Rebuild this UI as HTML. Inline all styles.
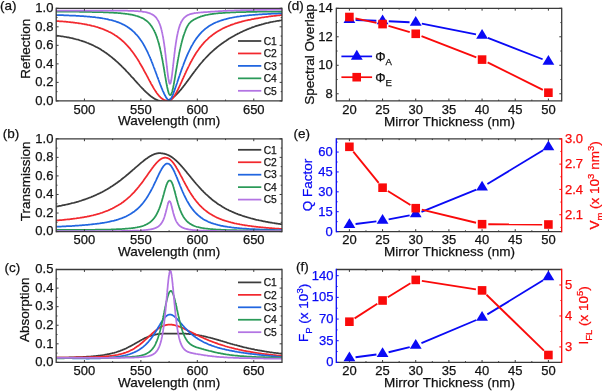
<!DOCTYPE html>
<html><head><meta charset="utf-8"><title>Figure</title>
<style>
html,body{margin:0;padding:0;background:#fff;width:602px;height:391px;overflow:hidden;}
svg{display:block;will-change:transform;filter:blur(0.35px);}
text{font-family:"Liberation Sans", sans-serif;stroke-width:0.25px;}
</style></head><body>
<svg width="602" height="391" viewBox="0 0 602 391">
<rect width="602" height="391" fill="#fff"/>
<defs>
<clipPath id="clipa"><rect x="56.2" y="8.3" width="225.80" height="92.60"/></clipPath>
<clipPath id="clipb"><rect x="56.2" y="138.8" width="225.80" height="92.80"/></clipPath>
<clipPath id="clipc"><rect x="56.2" y="269.5" width="225.80" height="92.90"/></clipPath>
<clipPath id="clipd"><rect x="336.3" y="8.3" width="225.40" height="92.60"/></clipPath>
<clipPath id="clipe"><rect x="336.3" y="138.8" width="225.40" height="92.80"/></clipPath>
<clipPath id="clipf"><rect x="336.3" y="269.5" width="225.40" height="92.90"/></clipPath>
</defs>
<g clip-path="url(#clipa)" fill="none" stroke-width="1.75" stroke-linejoin="round" stroke-linecap="round">
<polyline points="55.2,35.5 56.1,35.6 57.0,35.7 57.8,35.8 58.7,35.9 59.6,36.0 60.5,36.2 61.4,36.3 62.2,36.4 63.1,36.5 64.0,36.7 64.9,36.8 65.8,37.0 66.6,37.1 67.5,37.3 68.4,37.4 69.3,37.6 70.2,37.8 71.0,38.0 71.9,38.2 72.8,38.4 73.7,38.6 74.5,38.8 75.4,39.0 76.3,39.3 77.2,39.5 78.1,39.7 79.0,40.0 79.8,40.3 80.7,40.5 81.6,40.8 82.5,41.1 83.3,41.4 84.2,41.7 85.1,42.0 86.0,42.3 86.9,42.7 87.7,43.0 88.6,43.4 89.5,43.8 90.4,44.1 91.3,44.5 92.1,44.9 93.0,45.3 93.9,45.8 94.8,46.2 95.7,46.7 96.5,47.1 97.4,47.6 98.3,48.1 99.2,48.6 100.1,49.1 100.9,49.6 101.8,50.2 102.7,50.7 103.6,51.3 104.5,51.9 105.3,52.5 106.2,53.1 107.1,53.7 108.0,54.4 108.8,55.0 109.7,55.7 110.6,56.4 111.5,57.1 112.4,57.8 113.2,58.5 114.1,59.2 115.0,60.0 115.9,60.8 116.8,61.6 117.7,62.4 118.5,63.2 119.4,64.0 120.3,64.8 121.2,65.7 122.0,66.6 122.9,67.4 123.8,68.3 124.7,69.2 125.6,70.1 126.4,71.1 127.3,72.0 128.2,72.9 129.1,73.9 130.0,74.8 130.8,75.8 131.7,76.8 132.6,77.7 133.5,78.7 134.4,79.7 135.2,80.7 136.1,81.6 137.0,82.6 137.9,83.6 138.8,84.5 139.6,85.5 140.5,86.5 141.4,87.4 142.3,88.3 143.2,89.2 144.0,90.1 144.9,91.0 145.8,91.8 146.7,92.7 147.6,93.5 148.4,94.2 149.3,95.0 150.0,95.6 150.2,95.7 150.2,95.7 150.3,95.8 150.5,96.0 150.7,96.1 150.8,96.2 151.0,96.3 151.1,96.4 151.2,96.5 151.3,96.6 151.5,96.7 151.7,96.8 151.8,97.0 151.9,97.0 152.0,97.1 152.2,97.2 152.3,97.3 152.5,97.4 152.7,97.6 152.8,97.7 153.0,97.8 153.2,97.9 153.3,98.0 153.5,98.1 153.7,98.2 153.7,98.2 153.8,98.3 154.0,98.4 154.2,98.5 154.3,98.6 154.5,98.7 154.6,98.8 154.7,98.8 154.8,98.9 155.0,99.0 155.2,99.1 155.3,99.2 155.5,99.2 155.5,99.3 155.7,99.3 155.8,99.4 156.0,99.5 156.2,99.6 156.3,99.7 156.3,99.7 156.5,99.7 156.7,99.8 156.8,99.9 157.0,100.0 157.2,100.0 157.2,100.1 157.3,100.1 157.5,100.2 157.7,100.2 157.8,100.3 158.0,100.4 158.1,100.4 158.2,100.4 158.3,100.5 158.5,100.5 158.7,100.6 158.8,100.6 159.0,100.7 159.0,100.7 159.2,100.7 159.3,100.8 159.5,100.8 159.7,100.9 159.8,100.9 159.9,100.9 160.0,101.0 160.2,101.0 160.3,101.0 160.5,101.1 160.7,101.1 160.7,101.1 160.8,101.1 161.0,101.1 161.2,101.2 161.3,101.2 161.5,101.2 161.6,101.2 161.7,101.2 161.8,101.2 162.0,101.3 162.2,101.3 162.3,101.3 162.5,101.3 162.7,101.3 162.8,101.3 163.0,101.3 163.2,101.3 163.3,101.3 163.4,101.3 163.5,101.3 163.7,101.3 163.8,101.3 164.0,101.3 164.2,101.3 164.3,101.2 164.3,101.2 164.5,101.2 164.7,101.2 164.8,101.2 165.0,101.2 165.1,101.1 165.2,101.1 165.3,101.1 165.5,101.1 165.7,101.0 165.8,101.0 166.0,101.0 166.0,101.0 166.2,100.9 166.3,100.9 166.5,100.8 166.7,100.8 166.8,100.7 166.9,100.7 167.0,100.7 167.2,100.6 167.3,100.6 167.5,100.5 167.7,100.5 167.8,100.4 167.8,100.4 168.0,100.3 168.2,100.3 168.3,100.2 168.5,100.1 168.7,100.1 168.7,100.1 168.8,100.0 169.0,99.9 169.2,99.8 169.3,99.8 169.5,99.7 169.5,99.7 169.7,99.6 169.8,99.5 170.0,99.4 170.2,99.3 170.3,99.2 170.4,99.2 170.5,99.1 170.7,99.0 170.8,98.9 171.0,98.8 171.2,98.7 171.3,98.7 171.3,98.6 171.5,98.5 171.7,98.4 171.8,98.3 172.0,98.2 172.2,98.1 172.2,98.1 172.3,98.0 172.5,97.8 172.7,97.7 172.8,97.6 173.0,97.5 173.1,97.4 173.2,97.3 173.3,97.2 173.5,97.1 173.7,96.9 173.8,96.8 173.9,96.7 174.0,96.7 174.2,96.5 174.3,96.4 174.5,96.3 174.7,96.1 174.8,96.0 174.8,96.0 175.0,95.8 175.2,95.7 175.3,95.5 175.5,95.4 175.7,95.2 175.7,95.2 175.8,95.1 176.0,94.9 176.2,94.7 176.3,94.6 176.5,94.4 176.6,94.3 176.7,94.2 176.8,94.1 177.0,93.9 177.2,93.7 177.3,93.6 177.5,93.4 177.5,93.4 177.7,93.2 177.8,93.1 178.0,92.9 178.2,92.7 178.3,92.5 178.3,92.5 178.5,92.3 178.7,92.2 178.8,92.0 179.0,91.8 179.2,91.6 179.2,91.6 179.3,91.4 179.5,91.2 179.7,91.0 179.8,90.8 180.0,90.6 180.1,90.5 180.2,90.4 180.3,90.3 180.5,90.1 180.7,89.9 180.8,89.7 181.0,89.5 181.0,89.5 181.2,89.3 181.3,89.1 181.5,88.9 181.7,88.6 181.8,88.5 181.8,88.4 182.0,88.2 182.2,88.0 182.3,87.8 182.5,87.6 182.7,87.4 182.7,87.3 182.8,87.2 183.0,87.0 183.2,86.8 183.3,86.6 183.5,86.3 183.6,86.2 183.7,86.1 183.8,85.9 184.0,85.7 184.2,85.5 184.3,85.3 184.5,85.1 184.5,85.0 184.7,84.8 184.8,84.6 185.0,84.4 185.2,84.2 185.3,83.9 185.4,83.9 185.5,83.7 185.7,83.5 185.8,83.3 186.0,83.1 186.2,82.8 186.2,82.7 186.3,82.6 186.5,82.4 186.7,82.1 186.8,81.9 187.0,81.7 187.1,81.5 187.2,81.5 187.3,81.3 187.5,81.0 187.7,80.8 187.8,80.6 188.0,80.3 188.0,80.3 188.2,80.1 188.3,79.9 188.5,79.7 188.7,79.4 188.8,79.2 188.9,79.1 189.0,79.0 189.2,78.7 189.3,78.5 189.5,78.3 189.7,78.1 189.8,77.9 189.8,77.8 190.0,77.6 190.2,77.4 190.3,77.1 190.5,76.9 190.7,76.7 190.7,76.7 190.8,76.5 191.0,76.2 191.2,76.0 191.3,75.8 191.5,75.5 191.5,75.5 191.7,75.3 191.8,75.1 192.0,74.9 192.2,74.6 192.3,74.4 192.4,74.3 192.5,74.2 192.7,74.0 192.8,73.7 193.0,73.5 193.2,73.3 193.3,73.1 193.3,73.1 193.5,72.8 193.7,72.6 193.8,72.4 194.0,72.2 194.2,71.9 194.3,71.7 194.5,71.5 194.7,71.3 194.8,71.0 195.0,70.8 195.1,70.8 195.9,69.6 196.8,68.5 197.7,67.3 198.6,66.2 199.4,65.1 200.3,64.0 201.2,63.0 202.1,62.0 203.0,60.9 203.8,59.9 204.7,59.0 205.6,58.0 206.5,57.1 207.4,56.2 208.2,55.3 209.1,54.4 210.0,53.5 210.9,52.7 211.8,51.9 212.6,51.1 213.5,50.3 214.4,49.5 215.3,48.8 216.2,48.0 217.0,47.3 217.9,46.6 218.8,45.9 219.7,45.2 220.6,44.6 221.4,43.9 222.3,43.3 223.2,42.7 224.1,42.1 224.9,41.4 225.8,40.9 226.7,40.3 227.6,39.7 228.5,39.1 229.3,38.6 230.2,38.1 231.1,37.5 232.0,37.0 232.9,36.5 233.8,36.0 234.6,35.5 235.5,35.0 236.4,34.5 237.3,34.1 238.1,33.6 239.0,33.2 239.9,32.7 240.8,32.3 241.7,31.9 242.5,31.5 243.4,31.0 244.3,30.7 245.2,30.3 246.1,29.9 246.9,29.5 247.8,29.1 248.7,28.8 249.6,28.4 250.5,28.1 251.3,27.8 252.2,27.4 253.1,27.1 254.0,26.8 254.8,26.5 255.7,26.2 256.6,25.9 257.5,25.6 258.4,25.4 259.2,25.1 260.1,24.8 261.0,24.6 261.9,24.3 262.8,24.1 263.6,23.9 264.5,23.6 265.4,23.4 266.3,23.2 267.2,23.0 268.1,22.8 268.9,22.6 269.8,22.4 270.7,22.2 271.6,22.0 272.4,21.8 273.3,21.7 274.2,21.5 275.1,21.4 276.0,21.2 276.8,21.0 277.7,20.9 278.6,20.8 279.5,20.6 280.4,20.5 281.2,20.4 282.1,20.2 283.0,20.1" stroke="#3c3c3c"/>
<polyline points="55.2,21.0 56.1,21.0 57.0,21.1 57.8,21.1 58.7,21.2 59.6,21.3 60.5,21.3 61.4,21.4 62.2,21.4 63.1,21.5 64.0,21.6 64.9,21.7 65.8,21.7 66.6,21.8 67.5,21.9 68.4,22.0 69.3,22.1 70.2,22.2 71.0,22.3 71.9,22.3 72.8,22.4 73.7,22.6 74.5,22.7 75.4,22.8 76.3,22.9 77.2,23.0 78.1,23.1 79.0,23.3 79.8,23.4 80.7,23.5 81.6,23.7 82.5,23.8 83.3,24.0 84.2,24.1 85.1,24.3 86.0,24.4 86.9,24.6 87.7,24.8 88.6,25.0 89.5,25.2 90.4,25.4 91.3,25.6 92.1,25.8 93.0,26.0 93.9,26.2 94.8,26.5 95.7,26.7 96.5,27.0 97.4,27.2 98.3,27.5 99.2,27.8 100.1,28.1 100.9,28.4 101.8,28.7 102.7,29.0 103.6,29.4 104.5,29.7 105.3,30.1 106.2,30.5 107.1,30.9 108.0,31.3 108.8,31.7 109.7,32.1 110.6,32.6 111.5,33.1 112.4,33.6 113.2,34.1 114.1,34.6 115.0,35.2 115.9,35.7 116.8,36.3 117.7,37.0 118.5,37.6 119.4,38.3 120.3,39.0 121.2,39.7 122.0,40.5 122.9,41.2 123.8,42.0 124.7,42.9 125.6,43.8 126.4,44.7 127.3,45.6 128.2,46.6 129.1,47.6 130.0,48.6 130.8,49.7 131.7,50.9 132.6,52.0 133.5,53.2 134.4,54.5 135.2,55.7 136.1,57.0 137.0,58.4 137.9,59.8 138.8,61.2 139.6,62.7 140.5,64.2 141.4,65.7 142.3,67.3 143.2,68.9 144.0,70.5 144.9,72.1 145.8,73.7 146.7,75.4 147.6,77.0 148.4,78.7 149.3,80.4 150.0,81.6 150.2,81.9 150.2,82.0 150.3,82.2 150.5,82.6 150.7,82.9 150.8,83.2 151.0,83.5 151.1,83.6 151.2,83.8 151.3,84.1 151.5,84.4 151.7,84.7 151.8,85.0 151.9,85.2 152.0,85.3 152.2,85.6 152.3,85.8 152.5,86.1 152.7,86.4 152.8,86.7 153.0,87.0 153.2,87.3 153.3,87.6 153.5,87.9 153.7,88.1 153.7,88.2 153.8,88.4 154.0,88.7 154.2,89.0 154.3,89.2 154.5,89.5 154.6,89.7 154.7,89.8 154.8,90.0 155.0,90.3 155.2,90.6 155.3,90.8 155.5,91.0 155.5,91.1 155.7,91.3 155.8,91.6 156.0,91.8 156.2,92.1 156.3,92.3 156.3,92.3 156.5,92.6 156.7,92.8 156.8,93.0 157.0,93.3 157.2,93.5 157.2,93.6 157.3,93.7 157.5,93.9 157.7,94.2 157.8,94.4 158.0,94.6 158.1,94.7 158.2,94.8 158.3,95.0 158.5,95.2 158.7,95.4 158.8,95.6 159.0,95.8 159.0,95.8 159.2,96.0 159.3,96.2 159.5,96.3 159.7,96.5 159.8,96.7 159.9,96.7 160.0,96.9 160.2,97.0 160.3,97.2 160.5,97.4 160.7,97.5 160.7,97.6 160.8,97.7 161.0,97.8 161.2,98.0 161.3,98.1 161.5,98.2 161.6,98.3 161.7,98.4 161.8,98.5 162.0,98.6 162.2,98.8 162.3,98.9 162.5,99.0 162.7,99.1 162.8,99.2 163.0,99.3 163.2,99.4 163.3,99.5 163.4,99.5 163.5,99.6 163.7,99.7 163.8,99.8 164.0,99.9 164.2,99.9 164.3,100.0 164.3,100.0 164.5,100.1 164.7,100.2 164.8,100.2 165.0,100.3 165.1,100.3 165.2,100.3 165.3,100.4 165.5,100.4 165.7,100.5 165.8,100.5 166.0,100.6 166.0,100.6 166.2,100.6 166.3,100.6 166.5,100.7 166.7,100.7 166.8,100.7 166.9,100.7 167.0,100.7 167.2,100.8 167.3,100.8 167.5,100.8 167.7,100.8 167.8,100.8 167.8,100.8 168.0,100.8 168.2,100.8 168.3,100.8 168.5,100.8 168.7,100.8 168.7,100.8 168.8,100.8 169.0,100.8 169.2,100.8 169.3,100.7 169.5,100.7 169.5,100.7 169.7,100.6 169.8,100.6 170.0,100.5 170.2,100.4 170.3,100.3 170.4,100.3 170.5,100.2 170.7,100.1 170.8,100.0 171.0,99.9 171.2,99.8 171.3,99.7 171.3,99.6 171.5,99.5 171.7,99.3 171.8,99.2 172.0,99.0 172.2,98.8 172.2,98.8 172.3,98.7 172.5,98.5 172.7,98.3 172.8,98.1 173.0,97.9 173.1,97.8 173.2,97.7 173.3,97.5 173.5,97.2 173.7,97.0 173.8,96.8 173.9,96.6 174.0,96.5 174.2,96.3 174.3,96.0 174.5,95.8 174.7,95.5 174.8,95.3 174.8,95.3 175.0,95.0 175.2,94.7 175.3,94.4 175.5,94.1 175.7,93.8 175.7,93.8 175.8,93.6 176.0,93.2 176.2,92.9 176.3,92.6 176.5,92.3 176.6,92.2 176.7,92.0 176.8,91.7 177.0,91.4 177.2,91.0 177.3,90.7 177.5,90.5 177.5,90.4 177.7,90.1 177.8,89.7 178.0,89.4 178.2,89.0 178.3,88.7 178.3,88.7 178.5,88.4 178.7,88.0 178.8,87.7 179.0,87.3 179.2,86.9 179.2,86.9 179.3,86.6 179.5,86.2 179.7,85.9 179.8,85.5 180.0,85.2 180.1,85.0 180.2,84.8 180.3,84.4 180.5,84.1 180.7,83.7 180.8,83.3 181.0,83.0 181.0,83.0 181.2,82.6 181.3,82.2 181.5,81.9 181.7,81.5 181.8,81.1 181.8,81.1 182.0,80.7 182.2,80.4 182.3,80.0 182.5,79.6 182.7,79.2 182.7,79.1 182.8,78.9 183.0,78.5 183.2,78.1 183.3,77.8 183.5,77.4 183.6,77.2 183.7,77.0 183.8,76.7 184.0,76.3 184.2,75.9 184.3,75.6 184.5,75.2 184.5,75.2 184.7,74.8 184.8,74.5 185.0,74.1 185.2,73.7 185.3,73.4 185.4,73.3 185.5,73.0 185.7,72.6 185.8,72.3 186.0,71.9 186.2,71.6 186.2,71.4 186.3,71.2 186.5,70.8 186.7,70.5 186.8,70.1 187.0,69.8 187.1,69.5 187.2,69.4 187.3,69.1 187.5,68.7 187.7,68.4 187.8,68.1 188.0,67.7 188.0,67.7 188.2,67.4 188.3,67.0 188.5,66.7 188.7,66.3 188.8,66.0 188.9,65.9 189.0,65.7 189.2,65.3 189.3,65.0 189.5,64.7 189.7,64.4 189.8,64.2 189.8,64.0 190.0,63.7 190.2,63.4 190.3,63.1 190.5,62.8 190.7,62.5 190.7,62.4 190.8,62.1 191.0,61.8 191.2,61.5 191.3,61.2 191.5,60.9 191.5,60.8 191.7,60.6 191.8,60.3 192.0,60.0 192.2,59.7 192.3,59.4 192.4,59.2 192.5,59.1 192.7,58.8 192.8,58.5 193.0,58.2 193.2,57.9 193.3,57.7 193.3,57.6 193.5,57.3 193.7,57.0 193.8,56.8 194.0,56.5 194.2,56.2 194.3,55.9 194.5,55.6 194.7,55.4 194.8,55.1 195.0,54.8 195.1,54.7 195.9,53.3 196.8,52.0 197.7,50.7 198.6,49.5 199.4,48.3 200.3,47.1 201.2,46.0 202.1,44.9 203.0,43.9 203.8,42.9 204.7,41.9 205.6,41.0 206.5,40.1 207.4,39.3 208.2,38.5 209.1,37.7 210.0,36.9 210.9,36.2 211.8,35.5 212.6,34.8 213.5,34.2 214.4,33.5 215.3,32.9 216.2,32.3 217.0,31.8 217.9,31.2 218.8,30.7 219.7,30.2 220.6,29.7 221.4,29.2 222.3,28.8 223.2,28.3 224.1,27.9 224.9,27.5 225.8,27.1 226.7,26.7 227.6,26.3 228.5,26.0 229.3,25.6 230.2,25.3 231.1,24.9 232.0,24.6 232.9,24.3 233.8,24.0 234.6,23.7 235.5,23.4 236.4,23.1 237.3,22.9 238.1,22.6 239.0,22.3 239.9,22.1 240.8,21.9 241.7,21.6 242.5,21.4 243.4,21.2 244.3,21.0 245.2,20.7 246.1,20.5 246.9,20.3 247.8,20.1 248.7,19.9 249.6,19.8 250.5,19.6 251.3,19.4 252.2,19.2 253.1,19.1 254.0,18.9 254.8,18.7 255.7,18.6 256.6,18.4 257.5,18.3 258.4,18.1 259.2,18.0 260.1,17.8 261.0,17.7 261.9,17.5 262.8,17.4 263.6,17.3 264.5,17.2 265.4,17.0 266.3,16.9 267.2,16.8 268.1,16.7 268.9,16.5 269.8,16.4 270.7,16.3 271.6,16.2 272.4,16.1 273.3,16.0 274.2,15.9 275.1,15.8 276.0,15.7 276.8,15.6 277.7,15.5 278.6,15.4 279.5,15.3 280.4,15.2 281.2,15.1 282.1,15.0 283.0,14.9" stroke="#f2282e"/>
<polyline points="55.2,15.0 56.1,15.1 57.0,15.1 57.8,15.1 58.7,15.1 59.6,15.1 60.5,15.2 61.4,15.2 62.2,15.2 63.1,15.2 64.0,15.3 64.9,15.3 65.8,15.3 66.6,15.4 67.5,15.4 68.4,15.4 69.3,15.5 70.2,15.5 71.0,15.5 71.9,15.6 72.8,15.6 73.7,15.7 74.5,15.7 75.4,15.7 76.3,15.8 77.2,15.8 78.1,15.9 79.0,15.9 79.8,16.0 80.7,16.0 81.6,16.1 82.5,16.2 83.3,16.2 84.2,16.3 85.1,16.3 86.0,16.4 86.9,16.5 87.7,16.6 88.6,16.6 89.5,16.7 90.4,16.8 91.3,16.9 92.1,17.0 93.0,17.1 93.9,17.1 94.8,17.2 95.7,17.4 96.5,17.5 97.4,17.6 98.3,17.7 99.2,17.8 100.1,17.9 100.9,18.1 101.8,18.2 102.7,18.4 103.6,18.5 104.5,18.7 105.3,18.8 106.2,19.0 107.1,19.2 108.0,19.4 108.8,19.6 109.7,19.8 110.6,20.0 111.5,20.2 112.4,20.4 113.2,20.7 114.1,21.0 115.0,21.2 115.9,21.5 116.8,21.8 117.7,22.1 118.5,22.4 119.4,22.8 120.3,23.2 121.2,23.5 122.0,23.9 122.9,24.4 123.8,24.8 124.7,25.3 125.6,25.8 126.4,26.3 127.3,26.8 128.2,27.4 129.1,28.0 130.0,28.7 130.8,29.3 131.7,30.0 132.6,30.8 133.5,31.6 134.4,32.4 135.2,33.3 136.1,34.3 137.0,35.2 137.9,36.3 138.8,37.4 139.6,38.5 140.5,39.8 141.4,41.0 142.3,42.4 143.2,43.8 144.0,45.3 144.9,46.9 145.8,48.6 146.7,50.3 147.6,52.1 148.4,54.0 149.3,56.0 150.0,57.5 150.2,57.9 150.2,58.0 150.3,58.3 150.5,58.7 150.7,59.1 150.8,59.5 151.0,59.9 151.1,60.1 151.2,60.4 151.3,60.7 151.5,61.2 151.7,61.6 151.8,62.0 151.9,62.3 152.0,62.4 152.2,62.8 152.3,63.2 152.5,63.7 152.7,64.1 152.8,64.5 153.0,65.0 153.2,65.4 153.3,65.8 153.5,66.3 153.7,66.7 153.7,66.8 153.8,67.1 154.0,67.6 154.2,68.0 154.3,68.5 154.5,68.9 154.6,69.2 154.7,69.4 154.8,69.8 155.0,70.3 155.2,70.7 155.3,71.2 155.5,71.5 155.5,71.6 155.7,72.1 155.8,72.5 156.0,73.0 156.2,73.4 156.3,73.9 156.3,73.9 156.5,74.3 156.7,74.8 156.8,75.2 157.0,75.7 157.2,76.2 157.2,76.3 157.3,76.6 157.5,77.1 157.7,77.5 157.8,78.0 158.0,78.4 158.1,78.7 158.2,78.9 158.3,79.3 158.5,79.8 158.7,80.2 158.8,80.7 159.0,81.1 159.0,81.1 159.2,81.6 159.3,82.0 159.5,82.5 159.7,82.9 159.8,83.3 159.9,83.4 160.0,83.8 160.2,84.2 160.3,84.6 160.5,85.1 160.7,85.5 160.7,85.7 160.8,85.9 161.0,86.3 161.2,86.8 161.3,87.2 161.5,87.6 161.6,87.9 161.7,88.0 161.8,88.4 162.0,88.8 162.2,89.2 162.3,89.6 162.5,90.0 162.7,90.4 162.8,90.8 163.0,91.2 163.2,91.5 163.3,91.9 163.4,92.0 163.5,92.3 163.7,92.6 163.8,93.0 164.0,93.4 164.2,93.7 164.3,93.9 164.3,94.0 164.5,94.4 164.7,94.7 164.8,95.0 165.0,95.4 165.1,95.6 165.2,95.7 165.3,96.0 165.5,96.3 165.7,96.6 165.8,96.9 166.0,97.2 166.0,97.2 166.2,97.4 166.3,97.7 166.5,98.0 166.7,98.2 166.8,98.4 166.9,98.5 167.0,98.7 167.2,98.9 167.3,99.0 167.5,99.2 167.7,99.4 167.8,99.5 167.8,99.5 168.0,99.7 168.2,99.8 168.3,99.9 168.5,100.0 168.7,100.0 168.7,100.0 168.8,100.1 169.0,100.1 169.2,100.1 169.3,100.1 169.5,100.0 169.5,100.0 169.7,99.9 169.8,99.8 170.0,99.7 170.2,99.6 170.3,99.4 170.4,99.3 170.5,99.2 170.7,99.0 170.8,98.8 171.0,98.6 171.2,98.3 171.3,98.1 171.3,98.0 171.5,97.7 171.7,97.4 171.8,97.1 172.0,96.7 172.2,96.4 172.2,96.4 172.3,96.0 172.5,95.6 172.7,95.2 172.8,94.8 173.0,94.4 173.1,94.3 173.2,94.0 173.3,93.6 173.5,93.1 173.7,92.7 173.8,92.2 173.9,91.9 174.0,91.8 174.2,91.3 174.3,90.8 174.5,90.4 174.7,89.9 174.8,89.4 174.8,89.4 175.0,88.9 175.2,88.4 175.3,88.0 175.5,87.5 175.7,87.0 175.7,86.9 175.8,86.5 176.0,86.0 176.2,85.5 176.3,85.0 176.5,84.5 176.6,84.3 176.7,84.0 176.8,83.6 177.0,83.1 177.2,82.5 177.3,82.1 177.5,81.7 177.5,81.6 177.7,81.1 177.8,80.6 178.0,80.1 178.2,79.6 178.3,79.1 178.3,79.1 178.5,78.6 178.7,78.1 178.8,77.6 179.0,77.1 179.2,76.6 179.2,76.5 179.3,76.2 179.5,75.7 179.7,75.2 179.8,74.7 180.0,74.2 180.1,74.0 180.2,73.7 180.3,73.3 180.5,72.8 180.7,72.3 180.8,71.8 181.0,71.4 181.0,71.3 181.2,70.9 181.3,70.4 181.5,69.9 181.7,69.4 181.8,69.0 181.8,68.9 182.0,68.5 182.2,68.1 182.3,67.6 182.5,67.1 182.7,66.7 182.7,66.5 182.8,66.2 183.0,65.8 183.2,65.3 183.3,64.9 183.5,64.4 183.6,64.1 183.7,64.0 183.8,63.6 184.0,63.1 184.2,62.7 184.3,62.3 184.5,61.8 184.5,61.8 184.7,61.4 184.8,61.0 185.0,60.5 185.2,60.1 185.3,59.7 185.4,59.6 185.5,59.3 185.7,58.9 185.8,58.5 186.0,58.1 186.2,57.7 186.2,57.5 186.3,57.3 186.5,56.9 186.7,56.5 186.8,56.1 187.0,55.7 187.1,55.4 187.2,55.3 187.3,54.9 187.5,54.6 187.7,54.2 187.8,53.8 188.0,53.4 188.0,53.4 188.2,53.1 188.3,52.7 188.5,52.3 188.7,52.0 188.8,51.6 188.9,51.5 189.0,51.3 189.2,50.9 189.3,50.6 189.5,50.2 189.7,49.9 189.8,49.7 189.8,49.6 190.0,49.2 190.2,48.9 190.3,48.6 190.5,48.2 190.7,47.9 190.7,47.9 190.8,47.6 191.0,47.3 191.2,46.9 191.3,46.6 191.5,46.3 191.5,46.3 191.7,46.0 191.8,45.7 192.0,45.4 192.2,45.1 192.3,44.8 192.4,44.7 192.5,44.5 192.7,44.2 192.8,44.0 193.0,43.7 193.2,43.4 193.3,43.2 193.3,43.1 193.5,42.8 193.7,42.5 193.8,42.3 194.0,42.0 194.2,41.7 194.3,41.5 194.5,41.2 194.7,41.0 194.8,40.7 195.0,40.5 195.1,40.4 195.9,39.1 196.8,37.9 197.7,36.7 198.6,35.6 199.4,34.6 200.3,33.6 201.2,32.6 202.1,31.7 203.0,30.9 203.8,30.1 204.7,29.3 205.6,28.6 206.5,27.9 207.4,27.3 208.2,26.7 209.1,26.1 210.0,25.5 210.9,25.0 211.8,24.5 212.6,24.0 213.5,23.6 214.4,23.1 215.3,22.7 216.2,22.3 217.0,22.0 217.9,21.6 218.8,21.3 219.7,21.0 220.6,20.7 221.4,20.4 222.3,20.1 223.2,19.8 224.1,19.5 224.9,19.3 225.8,19.1 226.7,18.8 227.6,18.6 228.5,18.4 229.3,18.2 230.2,18.0 231.1,17.8 232.0,17.7 232.9,17.5 233.8,17.3 234.6,17.2 235.5,17.0 236.4,16.9 237.3,16.7 238.1,16.6 239.0,16.5 239.9,16.4 240.8,16.2 241.7,16.1 242.5,16.0 243.4,15.9 244.3,15.8 245.2,15.7 246.1,15.6 246.9,15.5 247.8,15.4 248.7,15.3 249.6,15.2 250.5,15.2 251.3,15.1 252.2,15.0 253.1,14.9 254.0,14.8 254.8,14.8 255.7,14.7 256.6,14.6 257.5,14.6 258.4,14.5 259.2,14.4 260.1,14.4 261.0,14.3 261.9,14.3 262.8,14.2 263.6,14.2 264.5,14.1 265.4,14.1 266.3,14.0 267.2,14.0 268.1,13.9 268.9,13.9 269.8,13.8 270.7,13.8 271.6,13.7 272.4,13.7 273.3,13.7 274.2,13.6 275.1,13.6 276.0,13.5 276.8,13.5 277.7,13.5 278.6,13.4 279.5,13.4 280.4,13.4 281.2,13.3 282.1,13.3 283.0,13.3" stroke="#2166e0"/>
<polyline points="55.2,11.5 56.1,11.5 57.0,11.6 57.8,11.6 58.7,11.6 59.6,11.6 60.5,11.6 61.4,11.6 62.2,11.6 63.1,11.6 64.0,11.6 64.9,11.6 65.8,11.6 66.6,11.6 67.5,11.6 68.4,11.6 69.3,11.6 70.2,11.6 71.0,11.7 71.9,11.7 72.8,11.7 73.7,11.7 74.5,11.7 75.4,11.7 76.3,11.7 77.2,11.7 78.1,11.7 79.0,11.7 79.8,11.8 80.7,11.8 81.6,11.8 82.5,11.8 83.3,11.8 84.2,11.8 85.1,11.8 86.0,11.8 86.9,11.9 87.7,11.9 88.6,11.9 89.5,11.9 90.4,11.9 91.3,11.9 92.1,12.0 93.0,12.0 93.9,12.0 94.8,12.0 95.7,12.0 96.5,12.1 97.4,12.1 98.3,12.1 99.2,12.1 100.1,12.2 100.9,12.2 101.8,12.2 102.7,12.2 103.6,12.3 104.5,12.3 105.3,12.3 106.2,12.4 107.1,12.4 108.0,12.4 108.8,12.5 109.7,12.5 110.6,12.6 111.5,12.6 112.4,12.7 113.2,12.7 114.1,12.8 115.0,12.8 115.9,12.9 116.8,12.9 117.7,13.0 118.5,13.1 119.4,13.1 120.3,13.2 121.2,13.3 122.0,13.4 122.9,13.5 123.8,13.6 124.7,13.7 125.6,13.8 126.4,13.9 127.3,14.0 128.2,14.1 129.1,14.3 130.0,14.4 130.8,14.6 131.7,14.7 132.6,14.9 133.5,15.1 134.4,15.3 135.2,15.5 136.1,15.8 137.0,16.0 137.9,16.3 138.8,16.6 139.6,17.0 140.5,17.3 141.4,17.7 142.3,18.1 143.2,18.6 144.0,19.1 144.9,19.7 145.8,20.3 146.7,20.9 147.6,21.7 148.4,22.5 149.3,23.4 150.0,24.2 150.2,24.4 150.2,24.4 150.3,24.6 150.5,24.8 150.7,25.0 150.8,25.3 151.0,25.5 151.1,25.6 151.2,25.7 151.3,25.9 151.5,26.2 151.7,26.4 151.8,26.7 151.9,26.8 152.0,26.9 152.2,27.2 152.3,27.4 152.5,27.7 152.7,28.0 152.8,28.2 153.0,28.5 153.2,28.8 153.3,29.1 153.5,29.4 153.7,29.7 153.7,29.8 153.8,30.1 154.0,30.4 154.2,30.7 154.3,31.0 154.5,31.4 154.6,31.6 154.7,31.8 154.8,32.1 155.0,32.5 155.2,32.9 155.3,33.2 155.5,33.6 155.5,33.6 155.7,34.1 155.8,34.5 156.0,34.9 156.2,35.3 156.3,35.7 156.3,35.8 156.5,36.2 156.7,36.7 156.8,37.1 157.0,37.6 157.2,38.1 157.2,38.3 157.3,38.6 157.5,39.1 157.7,39.7 157.8,40.2 158.0,40.7 158.1,41.1 158.2,41.3 158.3,41.9 158.5,42.4 158.7,43.1 158.8,43.6 159.0,44.2 159.0,44.3 159.2,44.9 159.3,45.5 159.5,46.2 159.7,46.9 159.8,47.6 159.9,47.7 160.0,48.3 160.2,49.0 160.3,49.7 160.5,50.5 160.7,51.2 160.7,51.6 160.8,52.0 161.0,52.8 161.2,53.6 161.3,54.4 161.5,55.2 161.6,55.8 161.7,56.1 161.8,56.9 162.0,57.8 162.2,58.7 162.3,59.5 162.5,60.4 162.7,61.4 162.8,62.2 163.0,63.2 163.2,64.2 163.3,65.1 163.4,65.4 163.5,66.1 163.7,67.1 163.8,68.0 164.0,69.0 164.2,70.0 164.3,70.5 164.3,71.0 164.5,72.0 164.7,73.0 164.8,73.9 165.0,75.0 165.1,75.8 165.2,76.0 165.3,76.9 165.5,77.9 165.7,78.9 165.8,79.8 166.0,80.8 166.0,80.9 166.2,81.8 166.3,82.7 166.5,83.6 166.7,84.5 166.8,85.3 166.9,85.7 167.0,86.2 167.2,87.0 167.3,87.8 167.5,88.6 167.7,89.3 167.8,89.8 167.8,90.0 168.0,90.6 168.2,91.3 168.3,91.8 168.5,92.4 168.7,92.8 168.7,92.9 168.8,93.3 169.0,93.7 169.2,94.0 169.3,94.3 169.5,94.6 169.5,94.6 169.7,94.8 169.8,94.9 170.0,95.0 170.2,95.1 170.3,95.0 170.4,95.0 170.5,95.0 170.7,94.9 170.8,94.7 171.0,94.5 171.2,94.2 171.3,93.9 171.3,93.9 171.5,93.5 171.7,93.1 171.8,92.6 172.0,92.1 172.2,91.5 172.2,91.5 172.3,90.9 172.5,90.3 172.7,89.6 172.8,88.9 173.0,88.2 173.1,87.9 173.2,87.4 173.3,86.6 173.5,85.7 173.7,84.9 173.8,84.0 173.9,83.4 174.0,83.1 174.2,82.2 174.3,81.3 174.5,80.3 174.7,79.3 174.8,78.4 174.8,78.4 175.0,77.4 175.2,76.3 175.3,75.4 175.5,74.4 175.7,73.3 175.7,73.1 175.8,72.4 176.0,71.3 176.2,70.3 176.3,69.3 176.5,68.3 176.6,67.8 176.7,67.3 176.8,66.4 177.0,65.4 177.2,64.4 177.3,63.4 177.5,62.7 177.5,62.5 177.7,61.5 177.8,60.6 178.0,59.7 178.2,58.7 178.3,57.9 178.3,57.8 178.5,57.0 178.7,56.1 178.8,55.2 179.0,54.4 179.2,53.5 179.2,53.3 179.3,52.7 179.5,51.9 179.7,51.1 179.8,50.3 180.0,49.5 180.1,49.1 180.2,48.7 180.3,48.0 180.5,47.3 180.7,46.5 180.8,45.9 181.0,45.3 181.0,45.1 181.2,44.4 181.3,43.8 181.5,43.1 181.7,42.5 181.8,41.9 181.8,41.8 182.0,41.2 182.2,40.6 182.3,40.0 182.5,39.4 182.7,38.8 182.7,38.6 182.8,38.3 183.0,37.7 183.2,37.1 183.3,36.6 183.5,36.1 183.6,35.7 183.7,35.5 183.8,35.1 184.0,34.5 184.2,34.0 184.3,33.6 184.5,33.1 184.5,33.1 184.7,32.6 184.8,32.2 185.0,31.7 185.2,31.3 185.3,30.9 185.4,30.8 185.5,30.4 185.7,30.0 185.8,29.6 186.0,29.2 186.2,28.8 186.2,28.6 186.3,28.4 186.5,28.1 186.7,27.7 186.8,27.4 187.0,27.0 187.1,26.8 187.2,26.7 187.3,26.4 187.5,26.1 187.7,25.8 187.8,25.5 188.0,25.2 188.0,25.2 188.2,24.9 188.3,24.7 188.5,24.4 188.7,24.2 188.8,24.0 188.9,23.9 189.0,23.7 189.2,23.5 189.3,23.3 189.5,23.1 189.7,22.9 189.8,22.8 189.8,22.7 190.0,22.6 190.2,22.4 190.3,22.2 190.5,22.1 190.7,22.0 190.7,21.9 190.8,21.8 191.0,21.6 191.2,21.5 191.3,21.4 191.5,21.3 191.5,21.2 191.7,21.1 191.8,21.0 192.0,20.9 192.2,20.8 192.3,20.7 192.4,20.6 192.5,20.5 192.7,20.4 192.8,20.3 193.0,20.2 193.2,20.1 193.3,20.0 193.3,20.0 193.5,19.9 193.7,19.8 193.8,19.7 194.0,19.6 194.2,19.5 194.3,19.4 194.5,19.3 194.7,19.2 194.8,19.1 195.0,19.1 195.1,19.0 195.9,18.6 196.8,18.2 197.7,17.8 198.6,17.4 199.4,17.1 200.3,16.7 201.2,16.4 202.1,16.2 203.0,15.9 203.8,15.7 204.7,15.4 205.6,15.2 206.5,15.0 207.4,14.8 208.2,14.7 209.1,14.5 210.0,14.3 210.9,14.2 211.8,14.1 212.6,13.9 213.5,13.8 214.4,13.7 215.3,13.6 216.2,13.5 217.0,13.4 217.9,13.3 218.8,13.2 219.7,13.2 220.6,13.1 221.4,13.0 222.3,13.0 223.2,12.9 224.1,12.8 224.9,12.8 225.8,12.7 226.7,12.7 227.6,12.6 228.5,12.6 229.3,12.5 230.2,12.5 231.1,12.4 232.0,12.4 232.9,12.4 233.8,12.3 234.6,12.3 235.5,12.3 236.4,12.2 237.3,12.2 238.1,12.2 239.0,12.1 239.9,12.1 240.8,12.1 241.7,12.1 242.5,12.0 243.4,12.0 244.3,12.0 245.2,12.0 246.1,12.0 246.9,11.9 247.8,11.9 248.7,11.9 249.6,11.9 250.5,11.9 251.3,11.8 252.2,11.8 253.1,11.8 254.0,11.8 254.8,11.8 255.7,11.8 256.6,11.8 257.5,11.7 258.4,11.7 259.2,11.7 260.1,11.7 261.0,11.7 261.9,11.7 262.8,11.7 263.6,11.7 264.5,11.7 265.4,11.6 266.3,11.6 267.2,11.6 268.1,11.6 268.9,11.6 269.8,11.6 270.7,11.6 271.6,11.6 272.4,11.6 273.3,11.6 274.2,11.6 275.1,11.5 276.0,11.5 276.8,11.5 277.7,11.5 278.6,11.5 279.5,11.5 280.4,11.5 281.2,11.5 282.1,11.5 283.0,11.5" stroke="#2a9a58"/>
<polyline points="55.2,10.5 56.1,10.5 57.0,10.5 57.8,10.5 58.7,10.5 59.6,10.5 60.5,10.5 61.4,10.5 62.2,10.5 63.1,10.5 64.0,10.5 64.9,10.5 65.8,10.5 66.6,10.5 67.5,10.5 68.4,10.5 69.3,10.5 70.2,10.5 71.0,10.5 71.9,10.5 72.8,10.5 73.7,10.5 74.5,10.5 75.4,10.5 76.3,10.5 77.2,10.5 78.1,10.5 79.0,10.5 79.8,10.5 80.7,10.5 81.6,10.5 82.5,10.5 83.3,10.5 84.2,10.5 85.1,10.5 86.0,10.5 86.9,10.5 87.7,10.5 88.6,10.5 89.5,10.5 90.4,10.5 91.3,10.5 92.1,10.5 93.0,10.5 93.9,10.5 94.8,10.5 95.7,10.5 96.5,10.5 97.4,10.5 98.3,10.5 99.2,10.5 100.1,10.5 100.9,10.5 101.8,10.5 102.7,10.5 103.6,10.5 104.5,10.5 105.3,10.5 106.2,10.5 107.1,10.5 108.0,10.5 108.8,10.5 109.7,10.5 110.6,10.5 111.5,10.5 112.4,10.5 113.2,10.5 114.1,10.5 115.0,10.5 115.9,10.5 116.8,10.5 117.7,10.6 118.5,10.6 119.4,10.6 120.3,10.6 121.2,10.6 122.0,10.6 122.9,10.6 123.8,10.6 124.7,10.7 125.6,10.7 126.4,10.7 127.3,10.7 128.2,10.8 129.1,10.8 130.0,10.8 130.8,10.8 131.7,10.9 132.6,10.9 133.5,10.9 134.4,11.0 135.2,11.0 136.1,11.1 137.0,11.1 137.9,11.2 138.8,11.3 139.6,11.4 140.5,11.4 141.4,11.5 142.3,11.6 143.2,11.8 144.0,11.9 144.9,12.0 145.8,12.2 146.7,12.4 147.6,12.6 148.4,12.9 149.3,13.1 150.0,13.4 150.2,13.5 150.2,13.5 150.3,13.5 150.5,13.6 150.7,13.7 150.8,13.7 151.0,13.8 151.1,13.8 151.2,13.9 151.3,14.0 151.5,14.1 151.7,14.1 151.8,14.2 151.9,14.3 152.0,14.3 152.2,14.4 152.3,14.5 152.5,14.6 152.7,14.7 152.8,14.8 153.0,14.9 153.2,15.0 153.3,15.1 153.5,15.2 153.7,15.4 153.7,15.4 153.8,15.5 154.0,15.6 154.2,15.7 154.3,15.9 154.5,16.0 154.6,16.1 154.7,16.2 154.8,16.3 155.0,16.5 155.2,16.6 155.3,16.8 155.5,16.9 155.5,17.0 155.7,17.1 155.8,17.3 156.0,17.5 156.2,17.7 156.3,17.9 156.3,17.9 156.5,18.1 156.7,18.3 156.8,18.6 157.0,18.8 157.2,19.0 157.2,19.1 157.3,19.3 157.5,19.6 157.7,19.8 157.8,20.1 158.0,20.4 158.1,20.6 158.2,20.7 158.3,21.0 158.5,21.3 158.7,21.7 158.8,22.0 159.0,22.4 159.0,22.4 159.2,22.8 159.3,23.1 159.5,23.5 159.7,24.0 159.8,24.4 159.9,24.5 160.0,24.9 160.2,25.3 160.3,25.8 160.5,26.3 160.7,26.9 160.7,27.1 160.8,27.4 161.0,28.0 161.2,28.6 161.3,29.2 161.5,29.8 161.6,30.3 161.7,30.5 161.8,31.2 162.0,31.9 162.2,32.7 162.3,33.4 162.5,34.3 162.7,35.1 162.8,35.9 163.0,36.9 163.2,37.8 163.3,38.7 163.4,39.0 163.5,39.8 163.7,40.8 163.8,41.8 164.0,43.0 164.2,44.1 164.3,44.8 164.3,45.3 164.5,46.5 164.7,47.8 164.8,49.0 165.0,50.3 165.1,51.5 165.2,51.7 165.3,53.0 165.5,54.4 165.7,55.9 165.8,57.3 166.0,58.8 166.0,59.0 166.2,60.3 166.3,61.7 166.5,63.2 166.7,64.8 166.8,66.2 166.9,66.8 167.0,67.7 167.2,69.2 167.3,70.6 167.5,72.0 167.7,73.4 167.8,74.3 167.8,74.7 168.0,76.0 168.2,77.2 168.3,78.2 168.5,79.3 168.7,80.2 168.7,80.3 168.8,81.1 169.0,81.8 169.2,82.5 169.3,83.0 169.5,83.4 169.5,83.4 169.7,83.6 169.8,83.8 170.0,83.8 170.2,83.7 170.3,83.5 170.4,83.3 170.5,83.1 170.7,82.6 170.8,82.0 171.0,81.3 171.2,80.5 171.3,79.8 171.3,79.6 171.5,78.6 171.7,77.5 171.8,76.3 172.0,75.1 172.2,73.8 172.2,73.7 172.3,72.5 172.5,71.1 172.7,69.6 172.8,68.2 173.0,66.7 173.1,66.2 173.2,65.2 173.3,63.8 173.5,62.3 173.7,60.7 173.8,59.3 173.9,58.4 174.0,57.8 174.2,56.4 174.3,55.0 174.5,53.6 174.7,52.2 174.8,51.0 174.8,50.9 175.0,49.5 175.2,48.2 175.3,47.0 175.5,45.8 175.7,44.6 175.7,44.4 175.8,43.5 176.0,42.4 176.2,41.3 176.3,40.3 176.5,39.3 176.6,38.8 176.7,38.3 176.8,37.4 177.0,36.5 177.2,35.6 177.3,34.8 177.5,34.2 177.5,34.0 177.7,33.2 177.8,32.5 178.0,31.7 178.2,31.0 178.3,30.4 178.3,30.3 178.5,29.7 178.7,29.1 178.8,28.5 179.0,27.9 179.2,27.4 179.2,27.3 179.3,26.9 179.5,26.4 179.7,25.9 179.8,25.4 180.0,24.9 180.1,24.7 180.2,24.5 180.3,24.1 180.5,23.7 180.7,23.3 180.8,22.9 181.0,22.6 181.0,22.6 181.2,22.2 181.3,21.9 181.5,21.6 181.7,21.3 181.8,21.0 181.8,21.0 182.0,20.7 182.2,20.4 182.3,20.2 182.5,19.9 182.7,19.7 182.7,19.6 182.8,19.4 183.0,19.2 183.2,19.0 183.3,18.8 183.5,18.6 183.6,18.4 183.7,18.4 183.8,18.2 184.0,18.0 184.2,17.8 184.3,17.6 184.5,17.5 184.5,17.5 184.7,17.3 184.8,17.2 185.0,17.0 185.2,16.9 185.3,16.7 185.4,16.7 185.5,16.6 185.7,16.5 185.8,16.3 186.0,16.2 186.2,16.1 186.2,16.0 186.3,16.0 186.5,15.9 186.7,15.8 186.8,15.7 187.0,15.6 187.1,15.5 187.2,15.5 187.3,15.4 187.5,15.3 187.7,15.2 187.8,15.1 188.0,15.0 188.0,15.0 188.2,15.0 188.3,14.9 188.5,14.8 188.7,14.7 188.8,14.7 188.9,14.6 189.0,14.6 189.2,14.5 189.3,14.5 189.5,14.4 189.7,14.3 189.8,14.3 189.8,14.3 190.0,14.2 190.2,14.2 190.3,14.1 190.5,14.1 190.7,14.0 190.7,14.0 190.8,14.0 191.0,13.9 191.2,13.9 191.3,13.8 191.5,13.8 191.5,13.8 191.7,13.8 191.8,13.7 192.0,13.7 192.2,13.6 192.3,13.6 192.4,13.6 192.5,13.6 192.7,13.5 192.8,13.5 193.0,13.5 193.2,13.4 193.3,13.4 193.3,13.4 193.5,13.4 193.7,13.3 193.8,13.3 194.0,13.3 194.2,13.2 194.3,13.2 194.5,13.2 194.7,13.2 194.8,13.1 195.0,13.1 195.1,13.1 195.9,13.0 196.8,12.9 197.7,12.8 198.6,12.7 199.4,12.6 200.3,12.5 201.2,12.4 202.1,12.4 203.0,12.3 203.8,12.2 204.7,12.2 205.6,12.1 206.5,12.0 207.4,12.0 208.2,11.9 209.1,11.9 210.0,11.8 210.9,11.7 211.8,11.7 212.6,11.6 213.5,11.5 214.4,11.5 215.3,11.4 216.2,11.4 217.0,11.3 217.9,11.3 218.8,11.2 219.7,11.1 220.6,11.1 221.4,11.0 222.3,11.0 223.2,10.9 224.1,10.9 224.9,10.8 225.8,10.8 226.7,10.8 227.6,10.7 228.5,10.7 229.3,10.6 230.2,10.6 231.1,10.6 232.0,10.5 232.9,10.5 233.8,10.5 234.6,10.4 235.5,10.4 236.4,10.4 237.3,10.3 238.1,10.3 239.0,10.3 239.9,10.3 240.8,10.2 241.7,10.2 242.5,10.2 243.4,10.2 244.3,10.1 245.2,10.1 246.1,10.1 246.9,10.1 247.8,10.1 248.7,10.0 249.6,10.0 250.5,10.0 251.3,10.0 252.2,10.0 253.1,10.0 254.0,9.9 254.8,9.9 255.7,9.9 256.6,9.9 257.5,9.9 258.4,9.9 259.2,9.8 260.1,9.8 261.0,9.8 261.9,9.8 262.8,9.8 263.6,9.8 264.5,9.8 265.4,9.8 266.3,9.8 267.2,9.7 268.1,9.7 268.9,9.7 269.8,9.7 270.7,9.7 271.6,9.7 272.4,9.7 273.3,9.7 274.2,9.7 275.1,9.6 276.0,9.6 276.8,9.6 277.7,9.6 278.6,9.6 279.5,9.6 280.4,9.6 281.2,9.6 282.1,9.6 283.0,9.6" stroke="#b374e3"/>
</g>
<line x1="56.20" y1="8.30" x2="282.00" y2="8.30" stroke="#3a3a3a" stroke-width="1.3"/>
<line x1="56.20" y1="100.90" x2="282.00" y2="100.90" stroke="#3a3a3a" stroke-width="1.3"/>
<line x1="56.20" y1="7.65" x2="56.20" y2="101.55" stroke="#3a3a3a" stroke-width="1.3"/>
<line x1="282.00" y1="7.65" x2="282.00" y2="101.55" stroke="#3a3a3a" stroke-width="1.3"/>
<line x1="84.43" y1="100.90" x2="84.43" y2="98.50" stroke="#3a3a3a" stroke-width="1"/>
<line x1="84.43" y1="8.30" x2="84.43" y2="10.70" stroke="#3a3a3a" stroke-width="1"/>
<line x1="140.88" y1="100.90" x2="140.88" y2="98.50" stroke="#3a3a3a" stroke-width="1"/>
<line x1="140.88" y1="8.30" x2="140.88" y2="10.70" stroke="#3a3a3a" stroke-width="1"/>
<line x1="197.32" y1="100.90" x2="197.32" y2="98.50" stroke="#3a3a3a" stroke-width="1"/>
<line x1="197.32" y1="8.30" x2="197.32" y2="10.70" stroke="#3a3a3a" stroke-width="1"/>
<line x1="253.77" y1="100.90" x2="253.77" y2="98.50" stroke="#3a3a3a" stroke-width="1"/>
<line x1="253.77" y1="8.30" x2="253.77" y2="10.70" stroke="#3a3a3a" stroke-width="1"/>
<line x1="112.65" y1="100.90" x2="112.65" y2="99.60" stroke="#3a3a3a" stroke-width="1"/>
<line x1="112.65" y1="8.30" x2="112.65" y2="9.60" stroke="#3a3a3a" stroke-width="1"/>
<line x1="169.10" y1="100.90" x2="169.10" y2="99.60" stroke="#3a3a3a" stroke-width="1"/>
<line x1="169.10" y1="8.30" x2="169.10" y2="9.60" stroke="#3a3a3a" stroke-width="1"/>
<line x1="225.55" y1="100.90" x2="225.55" y2="99.60" stroke="#3a3a3a" stroke-width="1"/>
<line x1="225.55" y1="8.30" x2="225.55" y2="9.60" stroke="#3a3a3a" stroke-width="1"/>
<line x1="56.20" y1="100.90" x2="58.60" y2="100.90" stroke="#3a3a3a" stroke-width="1"/>
<line x1="282.00" y1="100.90" x2="279.60" y2="100.90" stroke="#3a3a3a" stroke-width="1"/>
<line x1="56.20" y1="82.38" x2="58.60" y2="82.38" stroke="#3a3a3a" stroke-width="1"/>
<line x1="282.00" y1="82.38" x2="279.60" y2="82.38" stroke="#3a3a3a" stroke-width="1"/>
<line x1="56.20" y1="63.86" x2="58.60" y2="63.86" stroke="#3a3a3a" stroke-width="1"/>
<line x1="282.00" y1="63.86" x2="279.60" y2="63.86" stroke="#3a3a3a" stroke-width="1"/>
<line x1="56.20" y1="45.34" x2="58.60" y2="45.34" stroke="#3a3a3a" stroke-width="1"/>
<line x1="282.00" y1="45.34" x2="279.60" y2="45.34" stroke="#3a3a3a" stroke-width="1"/>
<line x1="56.20" y1="26.82" x2="58.60" y2="26.82" stroke="#3a3a3a" stroke-width="1"/>
<line x1="282.00" y1="26.82" x2="279.60" y2="26.82" stroke="#3a3a3a" stroke-width="1"/>
<line x1="56.20" y1="8.30" x2="58.60" y2="8.30" stroke="#3a3a3a" stroke-width="1"/>
<line x1="282.00" y1="8.30" x2="279.60" y2="8.30" stroke="#3a3a3a" stroke-width="1"/>
<line x1="56.20" y1="91.64" x2="57.50" y2="91.64" stroke="#3a3a3a" stroke-width="1"/>
<line x1="282.00" y1="91.64" x2="280.70" y2="91.64" stroke="#3a3a3a" stroke-width="1"/>
<line x1="56.20" y1="73.12" x2="57.50" y2="73.12" stroke="#3a3a3a" stroke-width="1"/>
<line x1="282.00" y1="73.12" x2="280.70" y2="73.12" stroke="#3a3a3a" stroke-width="1"/>
<line x1="56.20" y1="54.60" x2="57.50" y2="54.60" stroke="#3a3a3a" stroke-width="1"/>
<line x1="282.00" y1="54.60" x2="280.70" y2="54.60" stroke="#3a3a3a" stroke-width="1"/>
<line x1="56.20" y1="36.08" x2="57.50" y2="36.08" stroke="#3a3a3a" stroke-width="1"/>
<line x1="282.00" y1="36.08" x2="280.70" y2="36.08" stroke="#3a3a3a" stroke-width="1"/>
<line x1="56.20" y1="17.56" x2="57.50" y2="17.56" stroke="#3a3a3a" stroke-width="1"/>
<line x1="282.00" y1="17.56" x2="280.70" y2="17.56" stroke="#3a3a3a" stroke-width="1"/>
<text x="84.43" y="113.50" font-size="13" text-anchor="middle" fill="#111" stroke="#111" >500</text>
<text x="140.88" y="113.50" font-size="13" text-anchor="middle" fill="#111" stroke="#111" >550</text>
<text x="197.32" y="113.50" font-size="13" text-anchor="middle" fill="#111" stroke="#111" >600</text>
<text x="253.77" y="113.50" font-size="13" text-anchor="middle" fill="#111" stroke="#111" >650</text>
<text x="53.40" y="104.60" font-size="13" text-anchor="end" fill="#111" stroke="#111" >0.0</text>
<text x="53.40" y="86.08" font-size="13" text-anchor="end" fill="#111" stroke="#111" >0.2</text>
<text x="53.40" y="67.56" font-size="13" text-anchor="end" fill="#111" stroke="#111" >0.4</text>
<text x="53.40" y="49.04" font-size="13" text-anchor="end" fill="#111" stroke="#111" >0.6</text>
<text x="53.40" y="30.52" font-size="13" text-anchor="end" fill="#111" stroke="#111" >0.8</text>
<text x="53.40" y="12.00" font-size="13" text-anchor="end" fill="#111" stroke="#111" >1.0</text>
<text x="169.10" y="125.20" font-size="13.5" text-anchor="middle" fill="#111" stroke="#111" >Wavelength (nm)</text>
<text x="0" y="0" font-size="13.5" text-anchor="middle" fill="#111" stroke="#111" transform="translate(30.20,48.75) rotate(-90)">Reflection</text>
<text x="0.00" y="10.00" font-size="13.5" text-anchor="start" fill="#111" stroke="#111" >(a)</text>
<line x1="238.00" y1="41.00" x2="261.30" y2="41.00" stroke="#3c3c3c" stroke-width="1.75"/>
<text x="263.70" y="44.70" font-size="10.3" text-anchor="start" fill="#111" stroke="#111" >C1</text>
<line x1="238.00" y1="53.45" x2="261.30" y2="53.45" stroke="#f2282e" stroke-width="1.75"/>
<text x="263.70" y="57.15" font-size="10.3" text-anchor="start" fill="#111" stroke="#111" >C2</text>
<line x1="238.00" y1="65.90" x2="261.30" y2="65.90" stroke="#2166e0" stroke-width="1.75"/>
<text x="263.70" y="69.60" font-size="10.3" text-anchor="start" fill="#111" stroke="#111" >C3</text>
<line x1="238.00" y1="78.35" x2="261.30" y2="78.35" stroke="#2a9a58" stroke-width="1.75"/>
<text x="263.70" y="82.05" font-size="10.3" text-anchor="start" fill="#111" stroke="#111" >C4</text>
<line x1="238.00" y1="90.80" x2="261.30" y2="90.80" stroke="#b374e3" stroke-width="1.75"/>
<text x="263.70" y="94.50" font-size="10.3" text-anchor="start" fill="#111" stroke="#111" >C5</text>
<g clip-path="url(#clipb)" fill="none" stroke-width="1.75" stroke-linejoin="round" stroke-linecap="round">
<polyline points="55.2,206.7 56.1,206.6 57.0,206.4 57.8,206.3 58.7,206.1 59.6,205.9 60.5,205.8 61.4,205.6 62.2,205.4 63.1,205.2 64.0,205.1 64.9,204.9 65.8,204.7 66.6,204.5 67.5,204.3 68.4,204.1 69.3,203.9 70.2,203.7 71.0,203.5 71.9,203.2 72.8,203.0 73.7,202.8 74.5,202.6 75.4,202.3 76.3,202.1 77.2,201.8 78.1,201.6 79.0,201.3 79.8,201.0 80.7,200.8 81.6,200.5 82.5,200.2 83.3,199.9 84.2,199.6 85.1,199.3 86.0,199.0 86.9,198.7 87.7,198.4 88.6,198.0 89.5,197.7 90.4,197.4 91.3,197.0 92.1,196.6 93.0,196.3 93.9,195.9 94.8,195.5 95.7,195.1 96.5,194.7 97.4,194.3 98.3,193.9 99.2,193.5 100.1,193.1 100.9,192.6 101.8,192.2 102.7,191.7 103.6,191.2 104.5,190.8 105.3,190.3 106.2,189.8 107.1,189.3 108.0,188.7 108.8,188.2 109.7,187.7 110.6,187.1 111.5,186.5 112.4,186.0 113.2,185.4 114.1,184.8 115.0,184.2 115.9,183.6 116.8,183.0 117.7,182.3 118.5,181.7 119.4,181.0 120.3,180.4 121.2,179.7 122.0,179.0 122.9,178.3 123.8,177.6 124.7,176.9 125.6,176.2 126.4,175.5 127.3,174.7 128.2,174.0 129.1,173.2 130.0,172.5 130.8,171.7 131.7,171.0 132.6,170.2 133.5,169.4 134.4,168.7 135.2,167.9 136.1,167.1 137.0,166.4 137.9,165.6 138.8,164.8 139.6,164.1 140.5,163.3 141.4,162.6 142.3,161.9 143.2,161.2 144.0,160.5 144.9,159.8 145.8,159.1 146.7,158.5 147.6,157.9 148.4,157.3 149.3,156.7 150.0,156.3 150.2,156.2 150.2,156.2 150.3,156.1 150.5,156.0 150.7,155.9 150.8,155.8 151.0,155.7 151.1,155.7 151.2,155.6 151.3,155.6 151.5,155.5 151.7,155.4 151.8,155.3 151.9,155.2 152.0,155.2 152.2,155.1 152.3,155.0 152.5,155.0 152.7,154.9 152.8,154.8 153.0,154.7 153.2,154.7 153.3,154.6 153.5,154.5 153.7,154.4 153.7,154.4 153.8,154.4 154.0,154.3 154.2,154.2 154.3,154.2 154.5,154.1 154.6,154.1 154.7,154.1 154.8,154.0 155.0,153.9 155.2,153.9 155.3,153.8 155.5,153.8 155.5,153.8 155.7,153.7 155.8,153.7 156.0,153.6 156.2,153.6 156.3,153.6 156.3,153.6 156.5,153.5 156.7,153.5 156.8,153.4 157.0,153.4 157.2,153.4 157.2,153.4 157.3,153.3 157.5,153.3 157.7,153.3 157.8,153.3 158.0,153.3 158.1,153.2 158.2,153.2 158.3,153.2 158.5,153.2 158.7,153.2 158.8,153.2 159.0,153.2 159.0,153.2 159.2,153.2 159.3,153.2 159.5,153.2 159.7,153.2 159.8,153.2 159.9,153.2 160.0,153.2 160.2,153.2 160.3,153.2 160.5,153.2 160.7,153.2 160.7,153.2 160.8,153.2 161.0,153.3 161.2,153.3 161.3,153.3 161.5,153.3 161.6,153.3 161.7,153.3 161.8,153.3 162.0,153.4 162.2,153.4 162.3,153.4 162.5,153.4 162.7,153.4 162.8,153.5 163.0,153.5 163.2,153.5 163.3,153.5 163.4,153.6 163.5,153.6 163.7,153.6 163.8,153.6 164.0,153.7 164.2,153.7 164.3,153.7 164.3,153.8 164.5,153.8 164.7,153.8 164.8,153.9 165.0,153.9 165.1,154.0 165.2,154.0 165.3,154.0 165.5,154.1 165.7,154.1 165.8,154.2 166.0,154.2 166.0,154.2 166.2,154.3 166.3,154.3 166.5,154.4 166.7,154.5 166.8,154.5 166.9,154.5 167.0,154.6 167.2,154.6 167.3,154.7 167.5,154.8 167.7,154.8 167.8,154.9 167.8,154.9 168.0,155.0 168.2,155.1 168.3,155.1 168.5,155.2 168.7,155.3 168.7,155.3 168.8,155.4 169.0,155.5 169.2,155.6 169.3,155.6 169.5,155.7 169.5,155.8 169.7,155.8 169.8,155.9 170.0,156.0 170.2,156.1 170.3,156.2 170.4,156.3 170.5,156.3 170.7,156.4 170.8,156.5 171.0,156.6 171.2,156.7 171.3,156.8 171.3,156.8 171.5,156.9 171.7,157.0 171.8,157.2 172.0,157.3 172.2,157.4 172.2,157.4 172.3,157.5 172.5,157.6 172.7,157.7 172.8,157.9 173.0,158.0 173.1,158.0 173.2,158.1 173.3,158.2 173.5,158.4 173.7,158.5 173.8,158.6 173.9,158.7 174.0,158.8 174.2,158.9 174.3,159.0 174.5,159.2 174.7,159.3 174.8,159.4 174.8,159.5 175.0,159.6 175.2,159.8 175.3,159.9 175.5,160.0 175.7,160.2 175.7,160.2 175.8,160.3 176.0,160.5 176.2,160.6 176.3,160.8 176.5,161.0 176.6,161.0 176.7,161.1 176.8,161.3 177.0,161.4 177.2,161.6 177.3,161.7 177.5,161.9 177.5,161.9 177.7,162.1 177.8,162.2 178.0,162.4 178.2,162.6 178.3,162.7 178.3,162.7 178.5,162.9 178.7,163.1 178.8,163.2 179.0,163.4 179.2,163.6 179.2,163.6 179.3,163.8 179.5,164.0 179.7,164.1 179.8,164.3 180.0,164.5 180.1,164.6 180.2,164.7 180.3,164.8 180.5,165.0 180.7,165.2 180.8,165.4 181.0,165.5 181.0,165.6 181.2,165.8 181.3,166.0 181.5,166.1 181.7,166.3 181.8,166.5 181.8,166.5 182.0,166.7 182.2,166.9 182.3,167.1 182.5,167.3 182.7,167.5 182.7,167.5 182.8,167.7 183.0,167.9 183.2,168.1 183.3,168.2 183.5,168.4 183.6,168.6 183.7,168.6 183.8,168.8 184.0,169.0 184.2,169.2 184.3,169.4 184.5,169.6 184.5,169.6 184.7,169.8 184.8,170.0 185.0,170.2 185.2,170.4 185.3,170.6 185.4,170.7 185.5,170.8 185.7,171.0 185.8,171.2 186.0,171.4 186.2,171.6 186.2,171.7 186.3,171.8 186.5,172.0 186.7,172.2 186.8,172.4 187.0,172.7 187.1,172.8 187.2,172.9 187.3,173.1 187.5,173.3 187.7,173.5 187.8,173.7 188.0,173.9 188.0,173.9 188.2,174.1 188.3,174.3 188.5,174.5 188.7,174.7 188.8,174.9 188.9,175.0 189.0,175.1 189.2,175.3 189.3,175.5 189.5,175.7 189.7,175.9 189.8,176.0 189.8,176.1 190.0,176.3 190.2,176.5 190.3,176.7 190.5,176.9 190.7,177.1 190.7,177.2 190.8,177.3 191.0,177.6 191.2,177.8 191.3,178.0 191.5,178.2 191.5,178.2 191.7,178.4 191.8,178.6 192.0,178.8 192.2,179.0 192.3,179.2 192.4,179.3 192.5,179.4 192.7,179.6 192.8,179.8 193.0,180.0 193.2,180.2 193.3,180.3 193.3,180.4 193.5,180.6 193.7,180.8 193.8,181.0 194.0,181.2 194.2,181.4 194.3,181.6 194.5,181.8 194.7,182.0 194.8,182.2 195.0,182.4 195.1,182.4 195.9,183.5 196.8,184.5 197.7,185.5 198.6,186.5 199.4,187.4 200.3,188.4 201.2,189.3 202.1,190.3 203.0,191.2 203.8,192.1 204.7,192.9 205.6,193.8 206.5,194.6 207.4,195.4 208.2,196.2 209.1,197.0 210.0,197.8 210.9,198.5 211.8,199.3 212.6,200.0 213.5,200.7 214.4,201.3 215.3,202.0 216.2,202.6 217.0,203.3 217.9,203.9 218.8,204.5 219.7,205.0 220.6,205.6 221.4,206.1 222.3,206.7 223.2,207.2 224.1,207.7 224.9,208.2 225.8,208.7 226.7,209.2 227.6,209.6 228.5,210.1 229.3,210.5 230.2,210.9 231.1,211.3 232.0,211.7 232.9,212.1 233.8,212.5 234.6,212.9 235.5,213.2 236.4,213.6 237.3,213.9 238.1,214.3 239.0,214.6 239.9,214.9 240.8,215.2 241.7,215.5 242.5,215.8 243.4,216.1 244.3,216.4 245.2,216.7 246.1,216.9 246.9,217.2 247.8,217.5 248.7,217.7 249.6,218.0 250.5,218.2 251.3,218.5 252.2,218.7 253.1,218.9 254.0,219.1 254.8,219.3 255.7,219.6 256.6,219.8 257.5,220.0 258.4,220.2 259.2,220.4 260.1,220.5 261.0,220.7 261.9,220.9 262.8,221.1 263.6,221.3 264.5,221.4 265.4,221.6 266.3,221.8 267.2,221.9 268.1,222.1 268.9,222.3 269.8,222.4 270.7,222.6 271.6,222.7 272.4,222.9 273.3,223.0 274.2,223.1 275.1,223.3 276.0,223.4 276.8,223.6 277.7,223.7 278.6,223.8 279.5,223.9 280.4,224.1 281.2,224.2 282.1,224.3 283.0,224.4" stroke="#3c3c3c"/>
<polyline points="55.2,220.5 56.1,220.5 57.0,220.4 57.8,220.3 58.7,220.3 59.6,220.2 60.5,220.1 61.4,220.0 62.2,220.0 63.1,219.9 64.0,219.8 64.9,219.7 65.8,219.6 66.6,219.5 67.5,219.4 68.4,219.4 69.3,219.3 70.2,219.2 71.0,219.1 71.9,218.9 72.8,218.8 73.7,218.7 74.5,218.6 75.4,218.5 76.3,218.4 77.2,218.2 78.1,218.1 79.0,218.0 79.8,217.9 80.7,217.7 81.6,217.6 82.5,217.4 83.3,217.3 84.2,217.1 85.1,216.9 86.0,216.8 86.9,216.6 87.7,216.4 88.6,216.3 89.5,216.1 90.4,215.9 91.3,215.7 92.1,215.5 93.0,215.3 93.9,215.0 94.8,214.8 95.7,214.6 96.5,214.3 97.4,214.1 98.3,213.8 99.2,213.6 100.1,213.3 100.9,213.0 101.8,212.8 102.7,212.5 103.6,212.2 104.5,211.8 105.3,211.5 106.2,211.2 107.1,210.8 108.0,210.5 108.8,210.1 109.7,209.7 110.6,209.3 111.5,208.9 112.4,208.5 113.2,208.0 114.1,207.6 115.0,207.1 115.9,206.6 116.8,206.1 117.7,205.6 118.5,205.1 119.4,204.5 120.3,204.0 121.2,203.4 122.0,202.8 122.9,202.2 123.8,201.5 124.7,200.8 125.6,200.1 126.4,199.4 127.3,198.7 128.2,197.9 129.1,197.1 130.0,196.3 130.8,195.5 131.7,194.6 132.6,193.7 133.5,192.8 134.4,191.9 135.2,190.9 136.1,189.9 137.0,188.9 137.9,187.8 138.8,186.7 139.6,185.6 140.5,184.5 141.4,183.4 142.3,182.2 143.2,181.0 144.0,179.8 144.9,178.5 145.8,177.3 146.7,176.1 147.6,174.8 148.4,173.6 149.3,172.3 150.0,171.3 150.2,171.1 150.2,171.1 150.3,170.9 150.5,170.6 150.7,170.4 150.8,170.2 151.0,169.9 151.1,169.8 151.2,169.7 151.3,169.5 151.5,169.2 151.7,169.0 151.8,168.8 151.9,168.6 152.0,168.6 152.2,168.3 152.3,168.1 152.5,167.9 152.7,167.6 152.8,167.4 153.0,167.2 153.2,167.0 153.3,166.8 153.5,166.6 153.7,166.3 153.7,166.3 153.8,166.1 154.0,165.9 154.2,165.7 154.3,165.5 154.5,165.3 154.6,165.2 154.7,165.1 154.8,164.9 155.0,164.7 155.2,164.5 155.3,164.3 155.5,164.1 155.5,164.1 155.7,163.9 155.8,163.7 156.0,163.5 156.2,163.3 156.3,163.1 156.3,163.1 156.5,162.9 156.7,162.7 156.8,162.6 157.0,162.4 157.2,162.2 157.2,162.2 157.3,162.0 157.5,161.9 157.7,161.7 157.8,161.5 158.0,161.4 158.1,161.3 158.2,161.2 158.3,161.1 158.5,160.9 158.7,160.8 158.8,160.6 159.0,160.5 159.0,160.5 159.2,160.3 159.3,160.2 159.5,160.1 159.7,159.9 159.8,159.8 159.9,159.8 160.0,159.7 160.2,159.5 160.3,159.4 160.5,159.3 160.7,159.2 160.7,159.2 160.8,159.1 161.0,159.0 161.2,158.9 161.3,158.8 161.5,158.7 161.6,158.6 161.7,158.6 161.8,158.5 162.0,158.4 162.2,158.4 162.3,158.3 162.5,158.2 162.7,158.2 162.8,158.1 163.0,158.0 163.2,158.0 163.3,157.9 163.4,157.9 163.5,157.9 163.7,157.9 163.8,157.8 164.0,157.8 164.2,157.8 164.3,157.7 164.3,157.7 164.5,157.7 164.7,157.7 164.8,157.7 165.0,157.7 165.1,157.7 165.2,157.7 165.3,157.7 165.5,157.7 165.7,157.7 165.8,157.7 166.0,157.8 166.0,157.8 166.2,157.8 166.3,157.8 166.5,157.8 166.7,157.9 166.8,157.9 166.9,157.9 167.0,157.9 167.2,158.0 167.3,158.0 167.5,158.1 167.7,158.2 167.8,158.2 167.8,158.2 168.0,158.3 168.2,158.4 168.3,158.4 168.5,158.5 168.7,158.6 168.7,158.6 168.8,158.7 169.0,158.8 169.2,158.9 169.3,159.0 169.5,159.1 169.5,159.1 169.7,159.2 169.8,159.3 170.0,159.5 170.2,159.6 170.3,159.7 170.4,159.8 170.5,159.9 170.7,160.0 170.8,160.2 171.0,160.3 171.2,160.5 171.3,160.6 171.3,160.6 171.5,160.8 171.7,161.0 171.8,161.2 172.0,161.3 172.2,161.5 172.2,161.5 172.3,161.7 172.5,161.9 172.7,162.1 172.8,162.3 173.0,162.5 173.1,162.6 173.2,162.7 173.3,162.9 173.5,163.2 173.7,163.4 173.8,163.6 173.9,163.8 174.0,163.8 174.2,164.1 174.3,164.3 174.5,164.5 174.7,164.8 174.8,165.0 174.8,165.0 175.0,165.3 175.2,165.6 175.3,165.8 175.5,166.1 175.7,166.3 175.7,166.4 175.8,166.6 176.0,166.9 176.2,167.1 176.3,167.4 176.5,167.7 176.6,167.8 176.7,168.0 176.8,168.3 177.0,168.5 177.2,168.8 177.3,169.1 177.5,169.3 177.5,169.4 177.7,169.7 177.8,170.0 178.0,170.3 178.2,170.6 178.3,170.9 178.3,170.9 178.5,171.2 178.7,171.5 178.8,171.8 179.0,172.1 179.2,172.4 179.2,172.5 179.3,172.7 179.5,173.1 179.7,173.4 179.8,173.7 180.0,174.0 180.1,174.2 180.2,174.3 180.3,174.6 180.5,174.9 180.7,175.3 180.8,175.6 181.0,175.8 181.0,175.9 181.2,176.2 181.3,176.5 181.5,176.8 181.7,177.2 181.8,177.5 181.8,177.5 182.0,177.8 182.2,178.1 182.3,178.4 182.5,178.8 182.7,179.1 182.7,179.2 182.8,179.4 183.0,179.7 183.2,180.0 183.3,180.3 183.5,180.7 183.6,180.9 183.7,181.0 183.8,181.3 184.0,181.6 184.2,181.9 184.3,182.2 184.5,182.5 184.5,182.6 184.7,182.9 184.8,183.2 185.0,183.5 185.2,183.8 185.3,184.1 185.4,184.2 185.5,184.4 185.7,184.7 185.8,185.0 186.0,185.3 186.2,185.7 186.2,185.8 186.3,185.9 186.5,186.2 186.7,186.6 186.8,186.8 187.0,187.1 187.1,187.4 187.2,187.4 187.3,187.7 187.5,188.0 187.7,188.3 187.8,188.6 188.0,188.9 188.0,188.9 188.2,189.2 188.3,189.5 188.5,189.8 188.7,190.0 188.8,190.3 188.9,190.4 189.0,190.6 189.2,190.9 189.3,191.2 189.5,191.4 189.7,191.7 189.8,191.9 189.8,192.0 190.0,192.3 190.2,192.5 190.3,192.8 190.5,193.1 190.7,193.3 190.7,193.3 190.8,193.6 191.0,193.8 191.2,194.1 191.3,194.4 191.5,194.6 191.5,194.7 191.7,194.9 191.8,195.1 192.0,195.4 192.2,195.6 192.3,195.9 192.4,196.0 192.5,196.1 192.7,196.4 192.8,196.6 193.0,196.9 193.2,197.1 193.3,197.3 193.3,197.3 193.5,197.6 193.7,197.8 193.8,198.0 194.0,198.3 194.2,198.5 194.3,198.7 194.5,198.9 194.7,199.2 194.8,199.4 195.0,199.6 195.1,199.7 195.9,200.8 196.8,201.9 197.7,202.9 198.6,204.0 199.4,204.9 200.3,205.8 201.2,206.7 202.1,207.6 203.0,208.4 203.8,209.2 204.7,209.9 205.6,210.6 206.5,211.3 207.4,212.0 208.2,212.6 209.1,213.2 210.0,213.8 210.9,214.3 211.8,214.8 212.6,215.4 213.5,215.8 214.4,216.3 215.3,216.8 216.2,217.2 217.0,217.6 217.9,218.0 218.8,218.4 219.7,218.7 220.6,219.1 221.4,219.4 222.3,219.8 223.2,220.1 224.1,220.4 224.9,220.7 225.8,221.0 226.7,221.2 227.6,221.5 228.5,221.7 229.3,222.0 230.2,222.2 231.1,222.5 232.0,222.7 232.9,222.9 233.8,223.1 234.6,223.3 235.5,223.5 236.4,223.7 237.3,223.9 238.1,224.0 239.0,224.2 239.9,224.4 240.8,224.5 241.7,224.7 242.5,224.8 243.4,225.0 244.3,225.1 245.2,225.3 246.1,225.4 246.9,225.5 247.8,225.7 248.7,225.8 249.6,225.9 250.5,226.0 251.3,226.1 252.2,226.3 253.1,226.4 254.0,226.5 254.8,226.6 255.7,226.7 256.6,226.8 257.5,226.9 258.4,227.0 259.2,227.1 260.1,227.2 261.0,227.3 261.9,227.3 262.8,227.4 263.6,227.5 264.5,227.6 265.4,227.7 266.3,227.8 267.2,227.8 268.1,227.9 268.9,228.0 269.8,228.1 270.7,228.1 271.6,228.2 272.4,228.3 273.3,228.3 274.2,228.4 275.1,228.5 276.0,228.5 276.8,228.6 277.7,228.7 278.6,228.7 279.5,228.8 280.4,228.8 281.2,228.9 282.1,228.9 283.0,229.0" stroke="#f2282e"/>
<polyline points="55.2,226.7 56.1,226.7 57.0,226.7 57.8,226.6 58.7,226.6 59.6,226.5 60.5,226.5 61.4,226.5 62.2,226.4 63.1,226.4 64.0,226.4 64.9,226.3 65.8,226.3 66.6,226.2 67.5,226.2 68.4,226.1 69.3,226.1 70.2,226.0 71.0,226.0 71.9,226.0 72.8,225.9 73.7,225.8 74.5,225.8 75.4,225.7 76.3,225.7 77.2,225.6 78.1,225.6 79.0,225.5 79.8,225.4 80.7,225.4 81.6,225.3 82.5,225.2 83.3,225.2 84.2,225.1 85.1,225.0 86.0,224.9 86.9,224.9 87.7,224.8 88.6,224.7 89.5,224.6 90.4,224.5 91.3,224.4 92.1,224.3 93.0,224.2 93.9,224.1 94.8,224.0 95.7,223.9 96.5,223.8 97.4,223.7 98.3,223.6 99.2,223.5 100.1,223.3 100.9,223.2 101.8,223.1 102.7,222.9 103.6,222.8 104.5,222.7 105.3,222.5 106.2,222.3 107.1,222.2 108.0,222.0 108.8,221.8 109.7,221.6 110.6,221.4 111.5,221.2 112.4,221.0 113.2,220.8 114.1,220.6 115.0,220.3 115.9,220.1 116.8,219.8 117.7,219.6 118.5,219.3 119.4,219.0 120.3,218.7 121.2,218.4 122.0,218.1 122.9,217.7 123.8,217.4 124.7,217.0 125.6,216.6 126.4,216.2 127.3,215.7 128.2,215.3 129.1,214.8 130.0,214.3 130.8,213.8 131.7,213.2 132.6,212.6 133.5,212.0 134.4,211.4 135.2,210.7 136.1,210.0 137.0,209.3 137.9,208.5 138.8,207.6 139.6,206.8 140.5,205.9 141.4,204.9 142.3,203.9 143.2,202.8 144.0,201.7 144.9,200.5 145.8,199.3 146.7,197.9 147.6,196.6 148.4,195.1 149.3,193.6 150.0,192.4 150.2,192.1 150.2,192.1 150.3,191.8 150.5,191.5 150.7,191.2 150.8,190.9 151.0,190.6 151.1,190.5 151.2,190.3 151.3,190.0 151.5,189.6 151.7,189.3 151.8,189.0 151.9,188.8 152.0,188.7 152.2,188.3 152.3,188.0 152.5,187.7 152.7,187.4 152.8,187.0 153.0,186.7 153.2,186.3 153.3,186.0 153.5,185.7 153.7,185.3 153.7,185.2 153.8,185.0 154.0,184.6 154.2,184.3 154.3,184.0 154.5,183.6 154.6,183.4 154.7,183.2 154.8,182.9 155.0,182.5 155.2,182.2 155.3,181.8 155.5,181.6 155.5,181.5 155.7,181.1 155.8,180.8 156.0,180.4 156.2,180.1 156.3,179.7 156.3,179.7 156.5,179.4 156.7,179.0 156.8,178.6 157.0,178.3 157.2,177.9 157.2,177.8 157.3,177.6 157.5,177.2 157.7,176.9 157.8,176.5 158.0,176.2 158.1,175.9 158.2,175.8 158.3,175.5 158.5,175.1 158.7,174.7 158.8,174.4 159.0,174.1 159.0,174.1 159.2,173.7 159.3,173.4 159.5,173.1 159.7,172.7 159.8,172.4 159.9,172.3 160.0,172.1 160.2,171.7 160.3,171.4 160.5,171.1 160.7,170.8 160.7,170.6 160.8,170.5 161.0,170.2 161.2,169.9 161.3,169.6 161.5,169.3 161.6,169.1 161.7,169.0 161.8,168.7 162.0,168.4 162.2,168.2 162.3,167.9 162.5,167.6 162.7,167.4 162.8,167.1 163.0,166.9 163.2,166.7 163.3,166.4 163.4,166.4 163.5,166.2 163.7,166.0 163.8,165.8 164.0,165.6 164.2,165.4 164.3,165.3 164.3,165.2 164.5,165.1 164.7,164.9 164.8,164.8 165.0,164.6 165.1,164.5 165.2,164.5 165.3,164.3 165.5,164.2 165.7,164.1 165.8,164.0 166.0,163.9 166.0,163.9 166.2,163.8 166.3,163.8 166.5,163.7 166.7,163.7 166.8,163.6 166.9,163.6 167.0,163.6 167.2,163.6 167.3,163.6 167.5,163.6 167.7,163.6 167.8,163.6 167.8,163.6 168.0,163.6 168.2,163.7 168.3,163.7 168.5,163.8 168.7,163.8 168.7,163.8 168.8,163.9 169.0,164.0 169.2,164.1 169.3,164.2 169.5,164.4 169.5,164.4 169.7,164.5 169.8,164.6 170.0,164.8 170.2,164.9 170.3,165.1 170.4,165.2 170.5,165.3 170.7,165.5 170.8,165.7 171.0,165.9 171.2,166.1 171.3,166.3 171.3,166.3 171.5,166.6 171.7,166.8 171.8,167.1 172.0,167.3 172.2,167.6 172.2,167.6 172.3,167.9 172.5,168.2 172.7,168.5 172.8,168.7 173.0,169.1 173.1,169.2 173.2,169.4 173.3,169.7 173.5,170.0 173.7,170.3 173.8,170.7 173.9,170.9 174.0,171.0 174.2,171.4 174.3,171.7 174.5,172.1 174.7,172.4 174.8,172.8 174.8,172.8 175.0,173.2 175.2,173.6 175.3,173.9 175.5,174.3 175.7,174.7 175.7,174.8 175.8,175.1 176.0,175.5 176.2,175.9 176.3,176.3 176.5,176.7 176.6,176.9 176.7,177.1 176.8,177.5 177.0,177.9 177.2,178.3 177.3,178.7 177.5,179.0 177.5,179.1 177.7,179.6 177.8,179.9 178.0,180.4 178.2,180.8 178.3,181.2 178.3,181.2 178.5,181.6 178.7,182.0 178.8,182.4 179.0,182.9 179.2,183.3 179.2,183.4 179.3,183.7 179.5,184.1 179.7,184.5 179.8,184.9 180.0,185.3 180.1,185.6 180.2,185.8 180.3,186.1 180.5,186.6 180.7,187.0 180.8,187.4 181.0,187.7 181.0,187.8 181.2,188.2 181.3,188.6 181.5,189.0 181.7,189.4 181.8,189.8 181.8,189.8 182.0,190.2 182.2,190.6 182.3,190.9 182.5,191.3 182.7,191.7 182.7,191.8 182.8,192.1 183.0,192.5 183.2,192.8 183.3,193.2 183.5,193.6 183.6,193.8 183.7,193.9 183.8,194.3 184.0,194.7 184.2,195.0 184.3,195.4 184.5,195.7 184.5,195.7 184.7,196.1 184.8,196.4 185.0,196.8 185.2,197.1 185.3,197.4 185.4,197.5 185.5,197.8 185.7,198.1 185.8,198.4 186.0,198.8 186.2,199.1 186.2,199.2 186.3,199.4 186.5,199.7 186.7,200.0 186.8,200.3 187.0,200.7 187.1,200.9 187.2,201.0 187.3,201.3 187.5,201.6 187.7,201.9 187.8,202.1 188.0,202.4 188.0,202.5 188.2,202.7 188.3,203.0 188.5,203.3 188.7,203.6 188.8,203.8 188.9,203.9 189.0,204.1 189.2,204.4 189.3,204.7 189.5,204.9 189.7,205.2 189.8,205.3 189.8,205.4 190.0,205.7 190.2,206.0 190.3,206.2 190.5,206.5 190.7,206.7 190.7,206.7 190.8,206.9 191.0,207.2 191.2,207.4 191.3,207.6 191.5,207.9 191.5,207.9 191.7,208.1 191.8,208.3 192.0,208.6 192.2,208.8 192.3,209.0 192.4,209.1 192.5,209.2 192.7,209.4 192.8,209.6 193.0,209.9 193.2,210.1 193.3,210.2 193.3,210.3 193.5,210.5 193.7,210.7 193.8,210.9 194.0,211.1 194.2,211.3 194.3,211.4 194.5,211.6 194.7,211.8 194.8,212.0 195.0,212.2 195.1,212.2 195.9,213.2 196.8,214.0 197.7,214.8 198.6,215.6 199.4,216.3 200.3,217.0 201.2,217.7 202.1,218.3 203.0,218.9 203.8,219.4 204.7,219.9 205.6,220.4 206.5,220.8 207.4,221.3 208.2,221.7 209.1,222.1 210.0,222.4 210.9,222.8 211.8,223.1 212.6,223.4 213.5,223.7 214.4,224.0 215.3,224.2 216.2,224.5 217.0,224.7 217.9,225.0 218.8,225.2 219.7,225.4 220.6,225.6 221.4,225.8 222.3,225.9 223.2,226.1 224.1,226.3 224.9,226.4 225.8,226.6 226.7,226.7 227.6,226.9 228.5,227.0 229.3,227.1 230.2,227.2 231.1,227.3 232.0,227.5 232.9,227.6 233.8,227.7 234.6,227.8 235.5,227.9 236.4,227.9 237.3,228.0 238.1,228.1 239.0,228.2 239.9,228.3 240.8,228.3 241.7,228.4 242.5,228.5 243.4,228.6 244.3,228.6 245.2,228.7 246.1,228.7 246.9,228.8 247.8,228.9 248.7,228.9 249.6,229.0 250.5,229.0 251.3,229.1 252.2,229.1 253.1,229.2 254.0,229.2 254.8,229.2 255.7,229.3 256.6,229.3 257.5,229.4 258.4,229.4 259.2,229.4 260.1,229.5 261.0,229.5 261.9,229.5 262.8,229.6 263.6,229.6 264.5,229.6 265.4,229.7 266.3,229.7 267.2,229.7 268.1,229.8 268.9,229.8 269.8,229.8 270.7,229.8 271.6,229.9 272.4,229.9 273.3,229.9 274.2,229.9 275.1,230.0 276.0,230.0 276.8,230.0 277.7,230.0 278.6,230.0 279.5,230.1 280.4,230.1 281.2,230.1 282.1,230.1 283.0,230.1" stroke="#2166e0"/>
<polyline points="55.2,229.9 56.1,229.9 57.0,229.9 57.8,229.9 58.7,229.9 59.6,229.9 60.5,229.9 61.4,229.9 62.2,229.9 63.1,229.9 64.0,229.9 64.9,229.9 65.8,229.9 66.6,229.9 67.5,229.9 68.4,229.9 69.3,229.9 70.2,229.9 71.0,229.9 71.9,229.9 72.8,229.9 73.7,229.9 74.5,229.9 75.4,229.9 76.3,229.9 77.2,229.9 78.1,229.9 79.0,229.9 79.8,229.9 80.7,229.9 81.6,229.9 82.5,229.9 83.3,229.8 84.2,229.8 85.1,229.8 86.0,229.8 86.9,229.8 87.7,229.8 88.6,229.8 89.5,229.8 90.4,229.8 91.3,229.8 92.1,229.8 93.0,229.8 93.9,229.8 94.8,229.8 95.7,229.7 96.5,229.7 97.4,229.7 98.3,229.7 99.2,229.7 100.1,229.7 100.9,229.7 101.8,229.6 102.7,229.6 103.6,229.6 104.5,229.6 105.3,229.6 106.2,229.6 107.1,229.5 108.0,229.5 108.8,229.5 109.7,229.5 110.6,229.5 111.5,229.4 112.4,229.4 113.2,229.4 114.1,229.3 115.0,229.3 115.9,229.3 116.8,229.2 117.7,229.2 118.5,229.2 119.4,229.1 120.3,229.1 121.2,229.0 122.0,229.0 122.9,228.9 123.8,228.9 124.7,228.8 125.6,228.7 126.4,228.7 127.3,228.6 128.2,228.5 129.1,228.4 130.0,228.4 130.8,228.3 131.7,228.2 132.6,228.1 133.5,227.9 134.4,227.8 135.2,227.7 136.1,227.5 137.0,227.4 137.9,227.2 138.8,227.0 139.6,226.8 140.5,226.6 141.4,226.3 142.3,226.1 143.2,225.8 144.0,225.5 144.9,225.1 145.8,224.7 146.7,224.3 147.6,223.9 148.4,223.3 149.3,222.8 150.0,222.3 150.2,222.1 150.2,222.1 150.3,222.0 150.5,221.9 150.7,221.7 150.8,221.6 151.0,221.4 151.1,221.4 151.2,221.3 151.3,221.2 151.5,221.0 151.7,220.8 151.8,220.7 151.9,220.6 152.0,220.5 152.2,220.4 152.3,220.2 152.5,220.0 152.7,219.8 152.8,219.7 153.0,219.5 153.2,219.3 153.3,219.1 153.5,218.9 153.7,218.7 153.7,218.7 153.8,218.5 154.0,218.3 154.2,218.1 154.3,217.9 154.5,217.6 154.6,217.5 154.7,217.4 154.8,217.2 155.0,216.9 155.2,216.7 155.3,216.4 155.5,216.2 155.5,216.2 155.7,215.9 155.8,215.7 156.0,215.4 156.2,215.1 156.3,214.8 156.3,214.8 156.5,214.5 156.7,214.2 156.8,213.9 157.0,213.6 157.2,213.3 157.2,213.1 157.3,212.9 157.5,212.6 157.7,212.2 157.8,211.9 158.0,211.5 158.1,211.3 158.2,211.2 158.3,210.8 158.5,210.4 158.7,210.0 158.8,209.6 159.0,209.2 159.0,209.2 159.2,208.8 159.3,208.4 159.5,207.9 159.7,207.5 159.8,207.0 159.9,206.9 160.0,206.6 160.2,206.1 160.3,205.6 160.5,205.1 160.7,204.6 160.7,204.4 160.8,204.1 161.0,203.6 161.2,203.1 161.3,202.6 161.5,202.0 161.6,201.6 161.7,201.5 161.8,200.9 162.0,200.4 162.2,199.8 162.3,199.2 162.5,198.6 162.7,198.0 162.8,197.5 163.0,196.9 163.2,196.3 163.3,195.7 163.4,195.5 163.5,195.1 163.7,194.5 163.8,193.9 164.0,193.3 164.2,192.6 164.3,192.3 164.3,192.1 164.5,191.4 164.7,190.8 164.8,190.3 165.0,189.7 165.1,189.2 165.2,189.1 165.3,188.5 165.5,188.0 165.7,187.4 165.8,186.9 166.0,186.4 166.0,186.3 166.2,185.9 166.3,185.4 166.5,184.9 166.7,184.5 166.8,184.1 166.9,183.9 167.0,183.6 167.2,183.2 167.3,182.9 167.5,182.5 167.7,182.2 167.8,182.0 167.8,181.9 168.0,181.7 168.2,181.4 168.3,181.2 168.5,181.0 168.7,180.9 168.7,180.9 168.8,180.8 169.0,180.6 169.2,180.6 169.3,180.5 169.5,180.5 169.5,180.5 169.7,180.5 169.8,180.5 170.0,180.5 170.2,180.5 170.3,180.6 170.4,180.7 170.5,180.7 170.7,180.8 170.8,181.0 171.0,181.2 171.2,181.4 171.3,181.5 171.3,181.6 171.5,181.9 171.7,182.2 171.8,182.5 172.0,182.8 172.2,183.2 172.2,183.2 172.3,183.6 172.5,184.0 172.7,184.5 172.8,184.9 173.0,185.4 173.1,185.6 173.2,186.0 173.3,186.5 173.5,187.0 173.7,187.6 173.8,188.2 173.9,188.6 174.0,188.8 174.2,189.4 174.3,190.0 174.5,190.6 174.7,191.2 174.8,191.8 174.8,191.8 175.0,192.5 175.2,193.2 175.3,193.8 175.5,194.4 175.7,195.1 175.7,195.2 175.8,195.7 176.0,196.3 176.2,197.0 176.3,197.6 176.5,198.2 176.6,198.5 176.7,198.9 176.8,199.5 177.0,200.1 177.2,200.7 177.3,201.3 177.5,201.7 177.5,201.9 177.7,202.5 177.8,203.0 178.0,203.6 178.2,204.1 178.3,204.7 178.3,204.7 178.5,205.2 178.7,205.7 178.8,206.2 179.0,206.7 179.2,207.2 179.2,207.4 179.3,207.7 179.5,208.2 179.7,208.7 179.8,209.1 180.0,209.6 180.1,209.8 180.2,210.0 180.3,210.4 180.5,210.8 180.7,211.2 180.8,211.6 181.0,212.0 181.0,212.0 181.2,212.4 181.3,212.8 181.5,213.1 181.7,213.5 181.8,213.8 181.8,213.9 182.0,214.2 182.2,214.5 182.3,214.8 182.5,215.1 182.7,215.4 182.7,215.6 182.8,215.7 183.0,216.0 183.2,216.3 183.3,216.6 183.5,216.9 183.6,217.0 183.7,217.1 183.8,217.4 184.0,217.6 184.2,217.9 184.3,218.1 184.5,218.3 184.5,218.4 184.7,218.6 184.8,218.8 185.0,219.0 185.2,219.2 185.3,219.4 185.4,219.5 185.5,219.7 185.7,219.9 185.8,220.0 186.0,220.2 186.2,220.4 186.2,220.5 186.3,220.6 186.5,220.8 186.7,221.0 186.8,221.1 187.0,221.3 187.1,221.4 187.2,221.5 187.3,221.6 187.5,221.8 187.7,221.9 187.8,222.1 188.0,222.2 188.0,222.2 188.2,222.3 188.3,222.5 188.5,222.6 188.7,222.7 188.8,222.9 188.9,222.9 189.0,223.0 189.2,223.1 189.3,223.2 189.5,223.4 189.7,223.5 189.8,223.5 189.8,223.6 190.0,223.7 190.2,223.8 190.3,223.9 190.5,224.0 190.7,224.1 190.7,224.1 190.8,224.2 191.0,224.3 191.2,224.4 191.3,224.5 191.5,224.6 191.5,224.6 191.7,224.7 191.8,224.8 192.0,224.9 192.2,225.0 192.3,225.0 192.4,225.1 192.5,225.1 192.7,225.2 192.8,225.3 193.0,225.3 193.2,225.4 193.3,225.5 193.3,225.5 193.5,225.6 193.7,225.6 193.8,225.7 194.0,225.8 194.2,225.8 194.3,225.9 194.5,226.0 194.7,226.0 194.8,226.1 195.0,226.2 195.1,226.2 195.9,226.5 196.8,226.8 197.7,227.0 198.6,227.2 199.4,227.4 200.3,227.6 201.2,227.8 202.1,228.0 203.0,228.1 203.8,228.3 204.7,228.4 205.6,228.5 206.5,228.6 207.4,228.7 208.2,228.8 209.1,228.9 210.0,229.0 210.9,229.1 211.8,229.2 212.6,229.2 213.5,229.3 214.4,229.4 215.3,229.4 216.2,229.5 217.0,229.5 217.9,229.6 218.8,229.6 219.7,229.7 220.6,229.7 221.4,229.8 222.3,229.8 223.2,229.8 224.1,229.9 224.9,229.9 225.8,229.9 226.7,230.0 227.6,230.0 228.5,230.0 229.3,230.0 230.2,230.1 231.1,230.1 232.0,230.1 232.9,230.1 233.8,230.2 234.6,230.2 235.5,230.2 236.4,230.2 237.3,230.3 238.1,230.3 239.0,230.3 239.9,230.3 240.8,230.3 241.7,230.3 242.5,230.4 243.4,230.4 244.3,230.4 245.2,230.4 246.1,230.4 246.9,230.4 247.8,230.4 248.7,230.5 249.6,230.5 250.5,230.5 251.3,230.5 252.2,230.5 253.1,230.5 254.0,230.5 254.8,230.5 255.7,230.5 256.6,230.6 257.5,230.6 258.4,230.6 259.2,230.6 260.1,230.6 261.0,230.6 261.9,230.6 262.8,230.6 263.6,230.6 264.5,230.6 265.4,230.6 266.3,230.7 267.2,230.7 268.1,230.7 268.9,230.7 269.8,230.7 270.7,230.7 271.6,230.7 272.4,230.7 273.3,230.7 274.2,230.7 275.1,230.7 276.0,230.7 276.8,230.7 277.7,230.8 278.6,230.8 279.5,230.8 280.4,230.8 281.2,230.8 282.1,230.8 283.0,230.8" stroke="#2a9a58"/>
<polyline points="55.2,231.2 56.1,231.2 57.0,231.2 57.8,231.2 58.7,231.2 59.6,231.2 60.5,231.2 61.4,231.2 62.2,231.2 63.1,231.2 64.0,231.2 64.9,231.2 65.8,231.2 66.6,231.2 67.5,231.2 68.4,231.2 69.3,231.2 70.2,231.2 71.0,231.2 71.9,231.2 72.8,231.2 73.7,231.2 74.5,231.2 75.4,231.2 76.3,231.2 77.2,231.2 78.1,231.2 79.0,231.2 79.8,231.2 80.7,231.2 81.6,231.2 82.5,231.2 83.3,231.2 84.2,231.2 85.1,231.2 86.0,231.2 86.9,231.2 87.7,231.2 88.6,231.2 89.5,231.2 90.4,231.1 91.3,231.1 92.1,231.1 93.0,231.1 93.9,231.1 94.8,231.1 95.7,231.1 96.5,231.1 97.4,231.1 98.3,231.1 99.2,231.1 100.1,231.1 100.9,231.1 101.8,231.1 102.7,231.1 103.6,231.1 104.5,231.1 105.3,231.1 106.2,231.1 107.1,231.1 108.0,231.1 108.8,231.1 109.7,231.1 110.6,231.1 111.5,231.0 112.4,231.0 113.2,231.0 114.1,231.0 115.0,231.0 115.9,231.0 116.8,231.0 117.7,231.0 118.5,231.0 119.4,231.0 120.3,231.0 121.2,231.0 122.0,230.9 122.9,230.9 123.8,230.9 124.7,230.9 125.6,230.9 126.4,230.9 127.3,230.9 128.2,230.8 129.1,230.8 130.0,230.8 130.8,230.8 131.7,230.8 132.6,230.7 133.5,230.7 134.4,230.7 135.2,230.7 136.1,230.6 137.0,230.6 137.9,230.6 138.8,230.7 139.6,230.8 140.5,230.7 141.4,230.5 142.3,230.4 143.2,230.3 144.0,230.2 144.9,230.1 145.8,230.0 146.7,229.9 147.6,229.8 148.4,229.7 149.3,229.6 150.0,229.5 150.2,229.4 150.2,229.4 150.3,229.4 150.5,229.4 150.7,229.4 150.8,229.3 151.0,229.3 151.1,229.3 151.2,229.3 151.3,229.2 151.5,229.2 151.7,229.1 151.8,229.1 151.9,229.1 152.0,229.1 152.2,229.0 152.3,229.0 152.5,229.0 152.7,228.9 152.8,228.9 153.0,228.8 153.2,228.8 153.3,228.7 153.5,228.7 153.7,228.6 153.7,228.6 153.8,228.6 154.0,228.5 154.2,228.5 154.3,228.4 154.5,228.4 154.6,228.3 154.7,228.3 154.8,228.3 155.0,228.2 155.2,228.1 155.3,228.1 155.5,228.0 155.5,228.0 155.7,227.9 155.8,227.9 156.0,227.8 156.2,227.7 156.3,227.6 156.3,227.6 156.5,227.5 156.7,227.5 156.8,227.4 157.0,227.3 157.2,227.2 157.2,227.2 157.3,227.1 157.5,227.0 157.7,226.9 157.8,226.8 158.0,226.7 158.1,226.6 158.2,226.6 158.3,226.5 158.5,226.3 158.7,226.2 158.8,226.1 159.0,225.9 159.0,225.9 159.2,225.8 159.3,225.7 159.5,225.5 159.7,225.3 159.8,225.2 159.9,225.2 160.0,225.0 160.2,224.8 160.3,224.7 160.5,224.5 160.7,224.3 160.7,224.2 160.8,224.1 161.0,223.9 161.2,223.6 161.3,223.4 161.5,223.2 161.6,223.0 161.7,222.9 161.8,222.7 162.0,222.4 162.2,222.1 162.3,221.8 162.5,221.5 162.7,221.2 162.8,220.9 163.0,220.5 163.2,220.1 163.3,219.8 163.4,219.7 163.5,219.4 163.7,219.0 163.8,218.5 164.0,218.1 164.2,217.6 164.3,217.4 164.3,217.2 164.5,216.7 164.7,216.2 164.8,215.6 165.0,215.1 165.1,214.6 165.2,214.5 165.3,213.9 165.5,213.3 165.7,212.7 165.8,212.1 166.0,211.4 166.0,211.4 166.2,210.8 166.3,210.1 166.5,209.4 166.7,208.7 166.8,208.1 166.9,207.8 167.0,207.4 167.2,206.7 167.3,206.1 167.5,205.4 167.7,204.8 167.8,204.4 167.8,204.2 168.0,203.6 168.2,203.1 168.3,202.7 168.5,202.2 168.7,201.9 168.7,201.9 168.8,201.6 169.0,201.3 169.2,201.2 169.3,201.1 169.5,201.1 169.5,201.1 169.7,201.1 169.8,201.3 170.0,201.5 170.2,201.7 170.3,202.1 170.4,202.3 170.5,202.5 170.7,202.9 170.8,203.4 171.0,203.9 171.2,204.5 171.3,205.0 171.3,205.1 171.5,205.7 171.7,206.4 171.8,207.1 172.0,207.7 172.2,208.4 172.2,208.5 172.3,209.1 172.5,209.8 172.7,210.5 172.8,211.1 173.0,211.8 173.1,212.0 173.2,212.4 173.3,213.0 173.5,213.6 173.7,214.2 173.8,214.8 173.9,215.2 174.0,215.4 174.2,215.9 174.3,216.4 174.5,216.9 174.7,217.4 174.8,217.8 174.8,217.9 175.0,218.3 175.2,218.8 175.3,219.2 175.5,219.6 175.7,220.0 175.7,220.0 175.8,220.3 176.0,220.7 176.2,221.0 176.3,221.3 176.5,221.7 176.6,221.8 176.7,222.0 176.8,222.2 177.0,222.5 177.2,222.8 177.3,223.0 177.5,223.2 177.5,223.3 177.7,223.5 177.8,223.7 178.0,224.0 178.2,224.2 178.3,224.4 178.3,224.4 178.5,224.6 178.7,224.8 178.8,224.9 179.0,225.1 179.2,225.3 179.2,225.3 179.3,225.4 179.5,225.6 179.7,225.7 179.8,225.9 180.0,226.0 180.1,226.1 180.2,226.1 180.3,226.3 180.5,226.4 180.7,226.5 180.8,226.6 181.0,226.7 181.0,226.7 181.2,226.8 181.3,226.9 181.5,227.1 181.7,227.2 181.8,227.2 181.8,227.3 182.0,227.3 182.2,227.4 182.3,227.5 182.5,227.6 182.7,227.7 182.7,227.7 182.8,227.7 183.0,227.8 183.2,227.9 183.3,228.0 183.5,228.0 183.6,228.1 183.7,228.1 183.8,228.2 184.0,228.2 184.2,228.3 184.3,228.3 184.5,228.4 184.5,228.4 184.7,228.5 184.8,228.5 185.0,228.6 185.2,228.6 185.3,228.7 185.4,228.7 185.5,228.7 185.7,228.8 185.8,228.8 186.0,228.9 186.2,228.9 186.2,228.9 186.3,228.9 186.5,229.0 186.7,229.0 186.8,229.1 187.0,229.1 187.1,229.1 187.2,229.1 187.3,229.2 187.5,229.2 187.7,229.2 187.8,229.3 188.0,229.3 188.0,229.3 188.2,229.3 188.3,229.4 188.5,229.4 188.7,229.4 188.8,229.5 188.9,229.5 189.0,229.5 189.2,229.5 189.3,229.5 189.5,229.6 189.7,229.6 189.8,229.6 189.8,229.6 190.0,229.6 190.2,229.7 190.3,229.7 190.5,229.7 190.7,229.7 190.7,229.7 190.8,229.8 191.0,229.8 191.2,229.8 191.3,229.8 191.5,229.8 191.5,229.9 191.7,229.9 191.8,229.9 192.0,229.9 192.2,229.9 192.3,229.9 192.4,230.0 192.5,230.0 192.7,230.0 192.8,230.0 193.0,230.0 193.2,230.0 193.3,230.0 193.3,230.0 193.5,230.1 193.7,230.1 193.8,230.1 194.0,230.1 194.2,230.1 194.3,230.1 194.5,230.2 194.7,230.2 194.8,230.2 195.0,230.2 195.1,230.2 195.9,230.3 196.8,230.3 197.7,230.4 198.6,230.4 199.4,230.5 200.3,230.5 201.2,230.6 202.1,230.6 203.0,230.6 203.8,230.7 204.7,230.7 205.6,230.7 206.5,230.7 207.4,230.8 208.2,230.8 209.1,230.8 210.0,230.8 210.9,230.9 211.8,230.9 212.6,230.9 213.5,230.9 214.4,230.9 215.3,230.9 216.2,230.9 217.0,231.0 217.9,231.0 218.8,231.0 219.7,231.0 220.6,231.0 221.4,231.0 222.3,231.0 223.2,231.0 224.1,231.0 224.9,231.0 225.8,231.0 226.7,231.1 227.6,231.1 228.5,231.1 229.3,231.1 230.2,231.1 231.1,231.1 232.0,231.1 232.9,231.1 233.8,231.1 234.6,231.1 235.5,231.1 236.4,231.1 237.3,231.1 238.1,231.1 239.0,231.1 239.9,231.1 240.8,231.1 241.7,231.1 242.5,231.1 243.4,231.1 244.3,231.2 245.2,231.2 246.1,231.2 246.9,231.2 247.8,231.2 248.7,231.2 249.6,231.2 250.5,231.2 251.3,231.2 252.2,231.2 253.1,231.2 254.0,231.2 254.8,231.2 255.7,231.2 256.6,231.2 257.5,231.2 258.4,231.2 259.2,231.2 260.1,231.2 261.0,231.2 261.9,231.2 262.8,231.2 263.6,231.2 264.5,231.2 265.4,231.2 266.3,231.2 267.2,231.2 268.1,231.2 268.9,231.2 269.8,231.2 270.7,231.2 271.6,231.2 272.4,231.2 273.3,231.2 274.2,231.2 275.1,231.2 276.0,231.2 276.8,231.2 277.7,231.2 278.6,231.2 279.5,231.2 280.4,231.2 281.2,231.2 282.1,231.2 283.0,231.2" stroke="#b374e3"/>
</g>
<line x1="56.20" y1="138.80" x2="282.00" y2="138.80" stroke="#3a3a3a" stroke-width="1.3"/>
<line x1="56.20" y1="231.60" x2="282.00" y2="231.60" stroke="#3a3a3a" stroke-width="1.3"/>
<line x1="56.20" y1="138.15" x2="56.20" y2="232.25" stroke="#3a3a3a" stroke-width="1.3"/>
<line x1="282.00" y1="138.15" x2="282.00" y2="232.25" stroke="#3a3a3a" stroke-width="1.3"/>
<line x1="84.43" y1="231.60" x2="84.43" y2="229.20" stroke="#3a3a3a" stroke-width="1"/>
<line x1="84.43" y1="138.80" x2="84.43" y2="141.20" stroke="#3a3a3a" stroke-width="1"/>
<line x1="140.88" y1="231.60" x2="140.88" y2="229.20" stroke="#3a3a3a" stroke-width="1"/>
<line x1="140.88" y1="138.80" x2="140.88" y2="141.20" stroke="#3a3a3a" stroke-width="1"/>
<line x1="197.32" y1="231.60" x2="197.32" y2="229.20" stroke="#3a3a3a" stroke-width="1"/>
<line x1="197.32" y1="138.80" x2="197.32" y2="141.20" stroke="#3a3a3a" stroke-width="1"/>
<line x1="253.77" y1="231.60" x2="253.77" y2="229.20" stroke="#3a3a3a" stroke-width="1"/>
<line x1="253.77" y1="138.80" x2="253.77" y2="141.20" stroke="#3a3a3a" stroke-width="1"/>
<line x1="112.65" y1="231.60" x2="112.65" y2="230.30" stroke="#3a3a3a" stroke-width="1"/>
<line x1="112.65" y1="138.80" x2="112.65" y2="140.10" stroke="#3a3a3a" stroke-width="1"/>
<line x1="169.10" y1="231.60" x2="169.10" y2="230.30" stroke="#3a3a3a" stroke-width="1"/>
<line x1="169.10" y1="138.80" x2="169.10" y2="140.10" stroke="#3a3a3a" stroke-width="1"/>
<line x1="225.55" y1="231.60" x2="225.55" y2="230.30" stroke="#3a3a3a" stroke-width="1"/>
<line x1="225.55" y1="138.80" x2="225.55" y2="140.10" stroke="#3a3a3a" stroke-width="1"/>
<line x1="56.20" y1="231.60" x2="58.60" y2="231.60" stroke="#3a3a3a" stroke-width="1"/>
<line x1="282.00" y1="231.60" x2="279.60" y2="231.60" stroke="#3a3a3a" stroke-width="1"/>
<line x1="56.20" y1="213.04" x2="58.60" y2="213.04" stroke="#3a3a3a" stroke-width="1"/>
<line x1="282.00" y1="213.04" x2="279.60" y2="213.04" stroke="#3a3a3a" stroke-width="1"/>
<line x1="56.20" y1="194.48" x2="58.60" y2="194.48" stroke="#3a3a3a" stroke-width="1"/>
<line x1="282.00" y1="194.48" x2="279.60" y2="194.48" stroke="#3a3a3a" stroke-width="1"/>
<line x1="56.20" y1="175.92" x2="58.60" y2="175.92" stroke="#3a3a3a" stroke-width="1"/>
<line x1="282.00" y1="175.92" x2="279.60" y2="175.92" stroke="#3a3a3a" stroke-width="1"/>
<line x1="56.20" y1="157.36" x2="58.60" y2="157.36" stroke="#3a3a3a" stroke-width="1"/>
<line x1="282.00" y1="157.36" x2="279.60" y2="157.36" stroke="#3a3a3a" stroke-width="1"/>
<line x1="56.20" y1="138.80" x2="58.60" y2="138.80" stroke="#3a3a3a" stroke-width="1"/>
<line x1="282.00" y1="138.80" x2="279.60" y2="138.80" stroke="#3a3a3a" stroke-width="1"/>
<line x1="56.20" y1="222.32" x2="57.50" y2="222.32" stroke="#3a3a3a" stroke-width="1"/>
<line x1="282.00" y1="222.32" x2="280.70" y2="222.32" stroke="#3a3a3a" stroke-width="1"/>
<line x1="56.20" y1="203.76" x2="57.50" y2="203.76" stroke="#3a3a3a" stroke-width="1"/>
<line x1="282.00" y1="203.76" x2="280.70" y2="203.76" stroke="#3a3a3a" stroke-width="1"/>
<line x1="56.20" y1="185.20" x2="57.50" y2="185.20" stroke="#3a3a3a" stroke-width="1"/>
<line x1="282.00" y1="185.20" x2="280.70" y2="185.20" stroke="#3a3a3a" stroke-width="1"/>
<line x1="56.20" y1="166.64" x2="57.50" y2="166.64" stroke="#3a3a3a" stroke-width="1"/>
<line x1="282.00" y1="166.64" x2="280.70" y2="166.64" stroke="#3a3a3a" stroke-width="1"/>
<line x1="56.20" y1="148.08" x2="57.50" y2="148.08" stroke="#3a3a3a" stroke-width="1"/>
<line x1="282.00" y1="148.08" x2="280.70" y2="148.08" stroke="#3a3a3a" stroke-width="1"/>
<text x="84.43" y="244.20" font-size="13" text-anchor="middle" fill="#111" stroke="#111" >500</text>
<text x="140.88" y="244.20" font-size="13" text-anchor="middle" fill="#111" stroke="#111" >550</text>
<text x="197.32" y="244.20" font-size="13" text-anchor="middle" fill="#111" stroke="#111" >600</text>
<text x="253.77" y="244.20" font-size="13" text-anchor="middle" fill="#111" stroke="#111" >650</text>
<text x="53.40" y="235.30" font-size="13" text-anchor="end" fill="#111" stroke="#111" >0.0</text>
<text x="53.40" y="216.74" font-size="13" text-anchor="end" fill="#111" stroke="#111" >0.2</text>
<text x="53.40" y="198.18" font-size="13" text-anchor="end" fill="#111" stroke="#111" >0.4</text>
<text x="53.40" y="179.62" font-size="13" text-anchor="end" fill="#111" stroke="#111" >0.6</text>
<text x="53.40" y="161.06" font-size="13" text-anchor="end" fill="#111" stroke="#111" >0.8</text>
<text x="53.40" y="142.50" font-size="13" text-anchor="end" fill="#111" stroke="#111" >1.0</text>
<text x="169.10" y="255.90" font-size="13.5" text-anchor="middle" fill="#111" stroke="#111" >Wavelength (nm)</text>
<text x="0" y="0" font-size="13.5" text-anchor="middle" fill="#111" stroke="#111" transform="translate(30.20,181.45) rotate(-90)">Transmission</text>
<text x="2.70" y="138.40" font-size="13.5" text-anchor="start" fill="#111" stroke="#111" >(b)</text>
<line x1="238.00" y1="149.80" x2="261.30" y2="149.80" stroke="#3c3c3c" stroke-width="1.75"/>
<text x="263.70" y="153.50" font-size="10.3" text-anchor="start" fill="#111" stroke="#111" >C1</text>
<line x1="238.00" y1="162.25" x2="261.30" y2="162.25" stroke="#f2282e" stroke-width="1.75"/>
<text x="263.70" y="165.95" font-size="10.3" text-anchor="start" fill="#111" stroke="#111" >C2</text>
<line x1="238.00" y1="174.70" x2="261.30" y2="174.70" stroke="#2166e0" stroke-width="1.75"/>
<text x="263.70" y="178.40" font-size="10.3" text-anchor="start" fill="#111" stroke="#111" >C3</text>
<line x1="238.00" y1="187.15" x2="261.30" y2="187.15" stroke="#2a9a58" stroke-width="1.75"/>
<text x="263.70" y="190.85" font-size="10.3" text-anchor="start" fill="#111" stroke="#111" >C4</text>
<line x1="238.00" y1="199.60" x2="261.30" y2="199.60" stroke="#b374e3" stroke-width="1.75"/>
<text x="263.70" y="203.30" font-size="10.3" text-anchor="start" fill="#111" stroke="#111" >C5</text>
<g clip-path="url(#clipc)" fill="none" stroke-width="1.75" stroke-linejoin="round" stroke-linecap="round">
<polyline points="55.2,357.7 56.1,357.7 57.0,357.7 57.8,357.7 58.7,357.6 59.6,357.6 60.5,357.6 61.4,357.6 62.2,357.6 63.1,357.6 64.0,357.6 64.9,357.5 65.8,357.5 66.6,357.5 67.5,357.5 68.4,357.5 69.3,357.4 70.2,357.4 71.0,357.4 71.9,357.4 72.8,357.4 73.7,357.3 74.5,357.3 75.4,357.3 76.3,357.2 77.2,357.2 78.1,357.2 79.0,357.1 79.8,357.1 80.7,357.1 81.6,357.0 82.5,357.0 83.3,356.9 84.2,356.9 85.1,356.8 86.0,356.8 86.9,356.7 87.7,356.7 88.6,356.6 89.5,356.6 90.4,356.5 91.3,356.4 92.1,356.4 93.0,356.3 93.9,356.2 94.8,356.1 95.7,356.0 96.5,355.9 97.4,355.8 98.3,355.7 99.2,355.6 100.1,355.5 100.9,355.4 101.8,355.3 102.7,355.2 103.6,355.0 104.5,354.9 105.3,354.7 106.2,354.6 107.1,354.4 108.0,354.2 108.8,354.1 109.7,353.9 110.6,353.7 111.5,353.5 112.4,353.2 113.2,353.0 114.1,352.8 115.0,352.5 115.9,352.3 116.8,352.0 117.7,351.7 118.5,351.4 119.4,351.1 120.3,350.8 121.2,350.4 122.0,350.1 122.9,349.7 123.8,349.4 124.7,349.0 125.6,348.6 126.4,348.2 127.3,347.7 128.2,347.3 129.1,346.8 130.0,346.4 130.8,345.9 131.7,345.4 132.6,344.9 133.5,344.4 134.4,343.9 135.2,343.4 136.1,342.9 137.0,342.4 137.9,341.9 138.8,341.4 139.6,340.9 140.5,340.4 141.4,339.9 142.3,339.5 143.2,339.0 144.0,338.6 144.9,338.1 145.8,337.7 146.7,337.3 147.6,337.0 148.4,336.6 149.3,336.3 150.0,336.0 150.2,336.0 150.2,336.0 150.3,335.9 150.5,335.9 150.7,335.8 150.8,335.8 151.0,335.7 151.1,335.7 151.2,335.6 151.3,335.6 151.5,335.5 151.7,335.5 151.8,335.4 151.9,335.4 152.0,335.4 152.2,335.3 152.3,335.3 152.5,335.3 152.7,335.2 152.8,335.2 153.0,335.1 153.2,335.1 153.3,335.0 153.5,335.0 153.7,334.9 153.7,334.9 153.8,334.9 154.0,334.9 154.2,334.8 154.3,334.8 154.5,334.8 154.6,334.7 154.7,334.7 154.8,334.7 155.0,334.6 155.2,334.6 155.3,334.6 155.5,334.5 155.5,334.5 155.7,334.5 155.8,334.5 156.0,334.4 156.2,334.4 156.3,334.4 156.3,334.4 156.5,334.4 156.7,334.3 156.8,334.3 157.0,334.3 157.2,334.2 157.2,334.2 157.3,334.2 157.5,334.2 157.7,334.2 157.8,334.1 158.0,334.1 158.1,334.1 158.2,334.1 158.3,334.1 158.5,334.1 158.7,334.0 158.8,334.0 159.0,334.0 159.0,334.0 159.2,334.0 159.3,334.0 159.5,333.9 159.7,333.9 159.8,333.9 159.9,333.9 160.0,333.9 160.2,333.9 160.3,333.8 160.5,333.8 160.7,333.8 160.7,333.8 160.8,333.8 161.0,333.8 161.2,333.8 161.3,333.8 161.5,333.7 161.6,333.7 161.7,333.7 161.8,333.7 162.0,333.7 162.2,333.7 162.3,333.7 162.5,333.7 162.7,333.7 162.8,333.7 163.0,333.6 163.2,333.6 163.3,333.6 163.4,333.6 163.5,333.6 163.7,333.6 163.8,333.6 164.0,333.6 164.2,333.6 164.3,333.6 164.3,333.6 164.5,333.6 164.7,333.6 164.8,333.6 165.0,333.6 165.1,333.6 165.2,333.6 165.3,333.5 165.5,333.5 165.7,333.5 165.8,333.5 166.0,333.5 166.0,333.5 166.2,333.5 166.3,333.5 166.5,333.5 166.7,333.5 166.8,333.5 166.9,333.5 167.0,333.5 167.2,333.5 167.3,333.5 167.5,333.5 167.7,333.5 167.8,333.5 167.8,333.5 168.0,333.5 168.2,333.5 168.3,333.5 168.5,333.5 168.7,333.5 168.7,333.5 168.8,333.5 169.0,333.5 169.2,333.5 169.3,333.5 169.5,333.5 169.5,333.5 169.7,333.5 169.8,333.5 170.0,333.5 170.2,333.5 170.3,333.5 170.4,333.5 170.5,333.5 170.7,333.5 170.8,333.5 171.0,333.5 171.2,333.5 171.3,333.5 171.3,333.5 171.5,333.5 171.7,333.5 171.8,333.5 172.0,333.5 172.2,333.5 172.2,333.5 172.3,333.5 172.5,333.5 172.7,333.5 172.8,333.5 173.0,333.5 173.1,333.5 173.2,333.5 173.3,333.5 173.5,333.5 173.7,333.5 173.8,333.5 173.9,333.5 174.0,333.5 174.2,333.5 174.3,333.5 174.5,333.5 174.7,333.5 174.8,333.5 174.8,333.5 175.0,333.5 175.2,333.5 175.3,333.5 175.5,333.5 175.7,333.5 175.7,333.5 175.8,333.5 176.0,333.5 176.2,333.5 176.3,333.5 176.5,333.5 176.6,333.5 176.7,333.5 176.8,333.5 177.0,333.5 177.2,333.5 177.3,333.5 177.5,333.5 177.5,333.5 177.7,333.5 177.8,333.5 178.0,333.5 178.2,333.5 178.3,333.5 178.3,333.5 178.5,333.5 178.7,333.5 178.8,333.5 179.0,333.5 179.2,333.5 179.2,333.5 179.3,333.5 179.5,333.5 179.7,333.5 179.8,333.5 180.0,333.5 180.1,333.5 180.2,333.5 180.3,333.5 180.5,333.5 180.7,333.6 180.8,333.6 181.0,333.6 181.0,333.6 181.2,333.6 181.3,333.6 181.5,333.6 181.7,333.6 181.8,333.6 181.8,333.6 182.0,333.6 182.2,333.6 182.3,333.6 182.5,333.6 182.7,333.6 182.7,333.6 182.8,333.6 183.0,333.6 183.2,333.6 183.3,333.6 183.5,333.6 183.6,333.6 183.7,333.6 183.8,333.6 184.0,333.6 184.2,333.7 184.3,333.7 184.5,333.7 184.5,333.7 184.7,333.7 184.8,333.7 185.0,333.7 185.2,333.7 185.3,333.7 185.4,333.7 185.5,333.7 185.7,333.7 185.8,333.7 186.0,333.7 186.2,333.8 186.2,333.8 186.3,333.8 186.5,333.8 186.7,333.8 186.8,333.8 187.0,333.8 187.1,333.8 187.2,333.8 187.3,333.8 187.5,333.8 187.7,333.9 187.8,333.9 188.0,333.9 188.0,333.9 188.2,333.9 188.3,333.9 188.5,333.9 188.7,333.9 188.8,333.9 188.9,333.9 189.0,334.0 189.2,334.0 189.3,334.0 189.5,334.0 189.7,334.0 189.8,334.0 189.8,334.0 190.0,334.0 190.2,334.1 190.3,334.1 190.5,334.1 190.7,334.1 190.7,334.1 190.8,334.1 191.0,334.1 191.2,334.2 191.3,334.2 191.5,334.2 191.5,334.2 191.7,334.2 191.8,334.2 192.0,334.2 192.2,334.3 192.3,334.3 192.4,334.3 192.5,334.3 192.7,334.3 192.8,334.3 193.0,334.4 193.2,334.4 193.3,334.4 193.3,334.4 193.5,334.4 193.7,334.4 193.8,334.5 194.0,334.5 194.2,334.5 194.3,334.5 194.5,334.6 194.7,334.6 194.8,334.6 195.0,334.6 195.1,334.6 195.9,334.8 196.8,334.9 197.7,335.0 198.6,335.2 199.4,335.3 200.3,335.5 201.2,335.7 202.1,335.9 203.0,336.0 203.8,336.2 204.7,336.4 205.6,336.6 206.5,336.8 207.4,337.0 208.2,337.3 209.1,337.5 210.0,337.7 210.9,338.0 211.8,338.2 212.6,338.4 213.5,338.7 214.4,338.9 215.3,339.2 216.2,339.4 217.0,339.7 217.9,339.9 218.8,340.2 219.7,340.4 220.6,340.7 221.4,341.0 222.3,341.2 223.2,341.5 224.1,341.7 224.9,342.0 225.8,342.2 226.7,342.5 227.6,342.8 228.5,343.0 229.3,343.3 230.2,343.5 231.1,343.8 232.0,344.0 232.9,344.3 233.8,344.5 234.6,344.8 235.5,345.0 236.4,345.2 237.3,345.5 238.1,345.7 239.0,345.9 239.9,346.2 240.8,346.4 241.7,346.6 242.5,346.8 243.4,347.1 244.3,347.3 245.2,347.5 246.1,347.7 246.9,347.9 247.8,348.1 248.7,348.3 249.6,348.5 250.5,348.7 251.3,348.9 252.2,349.1 253.1,349.2 254.0,349.4 254.8,349.6 255.7,349.8 256.6,349.9 257.5,350.1 258.4,350.3 259.2,350.4 260.1,350.6 261.0,350.7 261.9,350.9 262.8,351.1 263.6,351.2 264.5,351.3 265.4,351.5 266.3,351.6 267.2,351.8 268.1,351.9 268.9,352.0 269.8,352.2 270.7,352.3 271.6,352.4 272.4,352.5 273.3,352.7 274.2,352.8 275.1,352.9 276.0,353.0 276.8,353.1 277.7,353.2 278.6,353.3 279.5,353.5 280.4,353.6 281.2,353.7 282.1,353.8 283.0,353.9" stroke="#3c3c3c"/>
<polyline points="55.2,357.5 56.1,357.5 57.0,357.5 57.8,357.5 58.7,357.5 59.6,357.5 60.5,357.5 61.4,357.5 62.2,357.5 63.1,357.5 64.0,357.5 64.9,357.5 65.8,357.5 66.6,357.5 67.5,357.5 68.4,357.5 69.3,357.5 70.2,357.5 71.0,357.5 71.9,357.5 72.8,357.5 73.7,357.5 74.5,357.4 75.4,357.4 76.3,357.4 77.2,357.4 78.1,357.4 79.0,357.4 79.8,357.4 80.7,357.4 81.6,357.4 82.5,357.4 83.3,357.4 84.2,357.3 85.1,357.3 86.0,357.3 86.9,357.3 87.7,357.3 88.6,357.3 89.5,357.2 90.4,357.2 91.3,357.2 92.1,357.2 93.0,357.1 93.9,357.1 94.8,357.1 95.7,357.0 96.5,357.0 97.4,357.0 98.3,356.9 99.2,356.9 100.1,356.8 100.9,356.8 101.8,356.7 102.7,356.7 103.6,356.6 104.5,356.5 105.3,356.5 106.2,356.4 107.1,356.3 108.0,356.2 108.8,356.1 109.7,356.0 110.6,355.9 111.5,355.8 112.4,355.7 113.2,355.6 114.1,355.4 115.0,355.3 115.9,355.1 116.8,355.0 117.7,354.8 118.5,354.6 119.4,354.4 120.3,354.2 121.2,354.0 122.0,353.7 122.9,353.5 123.8,353.2 124.7,352.9 125.6,352.6 126.4,352.3 127.3,351.9 128.2,351.6 129.1,351.2 130.0,350.8 130.8,350.3 131.7,349.9 132.6,349.4 133.5,348.9 134.4,348.4 135.2,347.8 136.1,347.2 137.0,346.6 137.9,346.0 138.8,345.4 139.6,344.7 140.5,344.0 141.4,343.3 142.3,342.5 143.2,341.8 144.0,341.0 144.9,340.2 145.8,339.4 146.7,338.6 147.6,337.8 148.4,337.0 149.3,336.1 150.0,335.5 150.2,335.3 150.2,335.3 150.3,335.2 150.5,335.0 150.7,334.9 150.8,334.7 151.0,334.6 151.1,334.5 151.2,334.4 151.3,334.3 151.5,334.1 151.7,334.0 151.8,333.8 151.9,333.7 152.0,333.7 152.2,333.5 152.3,333.4 152.5,333.2 152.7,333.1 152.8,332.9 153.0,332.8 153.2,332.6 153.3,332.5 153.5,332.3 153.7,332.2 153.7,332.1 153.8,332.0 154.0,331.9 154.2,331.7 154.3,331.6 154.5,331.5 154.6,331.4 154.7,331.3 154.8,331.2 155.0,331.1 155.2,330.9 155.3,330.8 155.5,330.7 155.5,330.6 155.7,330.5 155.8,330.4 156.0,330.3 156.2,330.1 156.3,330.0 156.3,330.0 156.5,329.9 156.7,329.7 156.8,329.6 157.0,329.5 157.2,329.4 157.2,329.3 157.3,329.2 157.5,329.1 157.7,329.0 157.8,328.9 158.0,328.8 158.1,328.7 158.2,328.7 158.3,328.5 158.5,328.4 158.7,328.3 158.8,328.2 159.0,328.1 159.0,328.1 159.2,328.0 159.3,327.9 159.5,327.8 159.7,327.7 159.8,327.6 159.9,327.6 160.0,327.5 160.2,327.4 160.3,327.3 160.5,327.2 160.7,327.1 160.7,327.1 160.8,327.0 161.0,326.9 161.2,326.8 161.3,326.8 161.5,326.7 161.6,326.6 161.7,326.6 161.8,326.5 162.0,326.4 162.2,326.3 162.3,326.3 162.5,326.2 162.7,326.1 162.8,326.1 163.0,326.0 163.2,325.9 163.3,325.8 163.4,325.8 163.5,325.8 163.7,325.7 163.8,325.7 164.0,325.6 164.2,325.5 164.3,325.5 164.3,325.5 164.5,325.4 164.7,325.4 164.8,325.3 165.0,325.3 165.1,325.2 165.2,325.2 165.3,325.2 165.5,325.1 165.7,325.1 165.8,325.1 166.0,325.0 166.0,325.0 166.2,325.0 166.3,325.0 166.5,324.9 166.7,324.9 166.8,324.9 166.9,324.8 167.0,324.8 167.2,324.8 167.3,324.8 167.5,324.8 167.7,324.7 167.8,324.7 167.8,324.7 168.0,324.7 168.2,324.7 168.3,324.7 168.5,324.7 168.7,324.6 168.7,324.6 168.8,324.6 169.0,324.6 169.2,324.6 169.3,324.6 169.5,324.6 169.5,324.6 169.7,324.6 169.8,324.6 170.0,324.6 170.2,324.6 170.3,324.6 170.4,324.6 170.5,324.6 170.7,324.6 170.8,324.6 171.0,324.6 171.2,324.6 171.3,324.7 171.3,324.7 171.5,324.7 171.7,324.7 171.8,324.7 172.0,324.7 172.2,324.7 172.2,324.7 172.3,324.8 172.5,324.8 172.7,324.8 172.8,324.8 173.0,324.9 173.1,324.9 173.2,324.9 173.3,324.9 173.5,324.9 173.7,325.0 173.8,325.0 173.9,325.0 174.0,325.0 174.2,325.1 174.3,325.1 174.5,325.1 174.7,325.2 174.8,325.2 174.8,325.2 175.0,325.3 175.2,325.3 175.3,325.3 175.5,325.4 175.7,325.4 175.7,325.4 175.8,325.5 176.0,325.5 176.2,325.6 176.3,325.6 176.5,325.7 176.6,325.7 176.7,325.7 176.8,325.8 177.0,325.8 177.2,325.9 177.3,325.9 177.5,326.0 177.5,326.0 177.7,326.0 177.8,326.1 178.0,326.1 178.2,326.2 178.3,326.3 178.3,326.3 178.5,326.3 178.7,326.4 178.8,326.4 179.0,326.5 179.2,326.6 179.2,326.6 179.3,326.6 179.5,326.7 179.7,326.8 179.8,326.8 180.0,326.9 180.1,326.9 180.2,327.0 180.3,327.0 180.5,327.1 180.7,327.2 180.8,327.2 181.0,327.3 181.0,327.3 181.2,327.4 181.3,327.4 181.5,327.5 181.7,327.6 181.8,327.7 181.8,327.7 182.0,327.7 182.2,327.8 182.3,327.9 182.5,327.9 182.7,328.0 182.7,328.0 182.8,328.1 183.0,328.2 183.2,328.2 183.3,328.3 183.5,328.4 183.6,328.4 183.7,328.5 183.8,328.5 184.0,328.6 184.2,328.7 184.3,328.8 184.5,328.9 184.5,328.9 184.7,328.9 184.8,329.0 185.0,329.1 185.2,329.2 185.3,329.3 185.4,329.3 185.5,329.3 185.7,329.4 185.8,329.5 186.0,329.6 186.2,329.7 186.2,329.7 186.3,329.7 186.5,329.8 186.7,329.9 186.8,330.0 187.0,330.1 187.1,330.1 187.2,330.2 187.3,330.2 187.5,330.3 187.7,330.4 187.8,330.5 188.0,330.6 188.0,330.6 188.2,330.6 188.3,330.7 188.5,330.8 188.7,330.9 188.8,331.0 188.9,331.0 189.0,331.1 189.2,331.1 189.3,331.2 189.5,331.3 189.7,331.4 189.8,331.4 189.8,331.5 190.0,331.6 190.2,331.6 190.3,331.7 190.5,331.8 190.7,331.9 190.7,331.9 190.8,332.0 191.0,332.1 191.2,332.1 191.3,332.2 191.5,332.3 191.5,332.3 191.7,332.4 191.8,332.5 192.0,332.6 192.2,332.7 192.3,332.7 192.4,332.8 192.5,332.8 192.7,332.9 192.8,333.0 193.0,333.1 193.2,333.2 193.3,333.2 193.3,333.2 193.5,333.3 193.7,333.4 193.8,333.5 194.0,333.6 194.2,333.7 194.3,333.7 194.5,333.8 194.7,333.9 194.8,334.0 195.0,334.1 195.1,334.1 195.9,334.5 196.8,335.0 197.7,335.4 198.6,335.8 199.4,336.2 200.3,336.6 201.2,337.0 202.1,337.4 203.0,337.8 203.8,338.2 204.7,338.6 205.6,339.0 206.5,339.4 207.4,339.7 208.2,340.1 209.1,340.5 210.0,340.8 210.9,341.2 211.8,341.5 212.6,341.9 213.5,342.2 214.4,342.5 215.3,342.8 216.2,343.1 217.0,343.4 217.9,343.8 218.8,344.1 219.7,344.3 220.6,344.6 221.4,344.9 222.3,345.2 223.2,345.5 224.1,345.7 224.9,346.0 225.8,346.3 226.7,346.5 227.6,346.8 228.5,347.0 229.3,347.3 230.2,347.5 231.1,347.7 232.0,348.0 232.9,348.2 233.8,348.4 234.6,348.6 235.5,348.8 236.4,349.0 237.3,349.2 238.1,349.4 239.0,349.6 239.9,349.8 240.8,350.0 241.7,350.2 242.5,350.4 243.4,350.6 244.3,350.8 245.2,350.9 246.1,351.1 246.9,351.3 247.8,351.4 248.7,351.6 249.6,351.7 250.5,351.9 251.3,352.1 252.2,352.2 253.1,352.3 254.0,352.5 254.8,352.6 255.7,352.8 256.6,352.9 257.5,353.0 258.4,353.2 259.2,353.3 260.1,353.4 261.0,353.5 261.9,353.7 262.8,353.8 263.6,353.9 264.5,354.0 265.4,354.1 266.3,354.2 267.2,354.3 268.1,354.4 268.9,354.5 269.8,354.6 270.7,354.7 271.6,354.8 272.4,354.9 273.3,355.0 274.2,355.1 275.1,355.2 276.0,355.3 276.8,355.4 277.7,355.5 278.6,355.6 279.5,355.6 280.4,355.7 281.2,355.8 282.1,355.9 283.0,355.9" stroke="#f2282e"/>
<polyline points="55.2,357.7 56.1,357.7 57.0,357.8 57.8,357.8 58.7,357.8 59.6,357.9 60.5,357.9 61.4,357.9 62.2,357.9 63.1,358.0 64.0,358.0 64.9,358.0 65.8,358.1 66.6,358.1 67.5,358.1 68.4,358.1 69.3,358.2 70.2,358.2 71.0,358.2 71.9,358.2 72.8,358.3 73.7,358.3 74.5,358.3 75.4,358.3 76.3,358.3 77.2,358.3 78.1,358.4 79.0,358.4 79.8,358.4 80.7,358.4 81.6,358.4 82.5,358.4 83.3,358.4 84.2,358.4 85.1,358.4 86.0,358.5 86.9,358.5 87.7,358.5 88.6,358.5 89.5,358.5 90.4,358.4 91.3,358.4 92.1,358.4 93.0,358.4 93.9,358.4 94.8,358.4 95.7,358.4 96.5,358.4 97.4,358.3 98.3,358.3 99.2,358.3 100.1,358.3 100.9,358.2 101.8,358.2 102.7,358.2 103.6,358.1 104.5,358.1 105.3,358.0 106.2,358.0 107.1,357.9 108.0,357.8 108.8,357.8 109.7,357.7 110.6,357.6 111.5,357.6 112.4,357.5 113.2,357.4 114.1,357.3 115.0,357.2 115.9,357.1 116.8,356.9 117.7,356.8 118.5,356.7 119.4,356.5 120.3,356.4 121.2,356.2 122.0,356.1 122.9,355.9 123.8,355.7 124.7,355.5 125.6,355.3 126.4,355.0 127.3,354.8 128.2,354.5 129.1,354.3 130.0,354.0 130.8,353.7 131.7,353.4 132.6,353.0 133.5,352.7 134.4,352.3 135.2,351.9 136.1,351.4 137.0,351.0 137.9,350.5 138.8,350.0 139.6,349.4 140.5,348.8 141.4,348.2 142.3,347.6 143.2,346.9 144.0,346.1 144.9,345.4 145.8,344.5 146.7,343.7 147.6,342.7 148.4,341.8 149.3,340.7 150.0,339.9 150.2,339.7 150.2,339.6 150.3,339.5 150.5,339.3 150.7,339.0 150.8,338.8 151.0,338.6 151.1,338.5 151.2,338.4 151.3,338.2 151.5,337.9 151.7,337.7 151.8,337.5 151.9,337.3 152.0,337.2 152.2,337.0 152.3,336.8 152.5,336.5 152.7,336.3 152.8,336.1 153.0,335.8 153.2,335.6 153.3,335.3 153.5,335.1 153.7,334.8 153.7,334.8 153.8,334.6 154.0,334.3 154.2,334.1 154.3,333.8 154.5,333.5 154.6,333.4 154.7,333.3 154.8,333.0 155.0,332.8 155.2,332.5 155.3,332.2 155.5,332.0 155.5,332.0 155.7,331.7 155.8,331.4 156.0,331.2 156.2,330.9 156.3,330.6 156.3,330.6 156.5,330.3 156.7,330.1 156.8,329.8 157.0,329.5 157.2,329.2 157.2,329.1 157.3,329.0 157.5,328.7 157.7,328.4 157.8,328.1 158.0,327.8 158.1,327.6 158.2,327.5 158.3,327.3 158.5,327.0 158.7,326.7 158.8,326.4 159.0,326.2 159.0,326.1 159.2,325.9 159.3,325.6 159.5,325.3 159.7,325.0 159.8,324.8 159.9,324.7 160.0,324.5 160.2,324.2 160.3,323.9 160.5,323.6 160.7,323.4 160.7,323.3 160.8,323.1 161.0,322.8 161.2,322.6 161.3,322.3 161.5,322.0 161.6,321.9 161.7,321.8 161.8,321.5 162.0,321.3 162.2,321.0 162.3,320.8 162.5,320.5 162.7,320.3 162.8,320.0 163.0,319.8 163.2,319.6 163.3,319.3 163.4,319.3 163.5,319.1 163.7,318.9 163.8,318.7 164.0,318.5 164.2,318.3 164.3,318.1 164.3,318.1 164.5,317.9 164.7,317.7 164.8,317.5 165.0,317.3 165.1,317.1 165.2,317.1 165.3,316.9 165.5,316.8 165.7,316.6 165.8,316.5 166.0,316.3 166.0,316.3 166.2,316.2 166.3,316.0 166.5,315.9 166.7,315.8 166.8,315.6 166.9,315.6 167.0,315.5 167.2,315.4 167.3,315.3 167.5,315.2 167.7,315.1 167.8,315.1 167.8,315.0 168.0,315.0 168.2,314.9 168.3,314.8 168.5,314.8 168.7,314.7 168.7,314.7 168.8,314.7 169.0,314.6 169.2,314.6 169.3,314.6 169.5,314.6 169.5,314.6 169.7,314.5 169.8,314.5 170.0,314.5 170.2,314.5 170.3,314.5 170.4,314.6 170.5,314.6 170.7,314.6 170.8,314.6 171.0,314.7 171.2,314.7 171.3,314.7 171.3,314.7 171.5,314.8 171.7,314.9 171.8,314.9 172.0,315.0 172.2,315.1 172.2,315.1 172.3,315.1 172.5,315.2 172.7,315.3 172.8,315.4 173.0,315.5 173.1,315.5 173.2,315.6 173.3,315.7 173.5,315.8 173.7,315.9 173.8,316.0 173.9,316.1 174.0,316.2 174.2,316.3 174.3,316.4 174.5,316.6 174.7,316.7 174.8,316.8 174.8,316.8 175.0,317.0 175.2,317.1 175.3,317.3 175.5,317.4 175.7,317.6 175.7,317.6 175.8,317.7 176.0,317.9 176.2,318.1 176.3,318.2 176.5,318.4 176.6,318.5 176.7,318.6 176.8,318.7 177.0,318.9 177.2,319.1 177.3,319.3 177.5,319.4 177.5,319.4 177.7,319.6 177.8,319.8 178.0,320.0 178.2,320.2 178.3,320.3 178.3,320.3 178.5,320.5 178.7,320.7 178.8,320.9 179.0,321.1 179.2,321.3 179.2,321.3 179.3,321.5 179.5,321.7 179.7,321.8 179.8,322.0 180.0,322.2 180.1,322.3 180.2,322.4 180.3,322.6 180.5,322.8 180.7,323.0 180.8,323.2 181.0,323.3 181.0,323.4 181.2,323.6 181.3,323.8 181.5,323.9 181.7,324.1 181.8,324.3 181.8,324.3 182.0,324.5 182.2,324.7 182.3,324.9 182.5,325.1 182.7,325.3 182.7,325.4 182.8,325.5 183.0,325.7 183.2,325.8 183.3,326.0 183.5,326.2 183.6,326.3 183.7,326.4 183.8,326.6 184.0,326.8 184.2,327.0 184.3,327.1 184.5,327.3 184.5,327.3 184.7,327.5 184.8,327.7 185.0,327.9 185.2,328.0 185.3,328.2 185.4,328.3 185.5,328.4 185.7,328.6 185.8,328.7 186.0,328.9 186.2,329.1 186.2,329.2 186.3,329.3 186.5,329.4 186.7,329.6 186.8,329.8 187.0,329.9 187.1,330.1 187.2,330.1 187.3,330.3 187.5,330.4 187.7,330.6 187.8,330.8 188.0,330.9 188.0,330.9 188.2,331.1 188.3,331.3 188.5,331.4 188.7,331.6 188.8,331.7 188.9,331.8 189.0,331.9 189.2,332.0 189.3,332.2 189.5,332.4 189.7,332.5 189.8,332.6 189.8,332.7 190.0,332.8 190.2,333.0 190.3,333.1 190.5,333.3 190.7,333.4 190.7,333.4 190.8,333.5 191.0,333.7 191.2,333.8 191.3,334.0 191.5,334.1 191.5,334.1 191.7,334.3 191.8,334.4 192.0,334.5 192.2,334.7 192.3,334.8 192.4,334.9 192.5,334.9 192.7,335.1 192.8,335.2 193.0,335.3 193.2,335.5 193.3,335.6 193.3,335.6 193.5,335.7 193.7,335.9 193.8,336.0 194.0,336.1 194.2,336.3 194.3,336.4 194.5,336.5 194.7,336.6 194.8,336.7 195.0,336.9 195.1,336.9 195.9,337.5 196.8,338.1 197.7,338.7 198.6,339.3 199.4,339.8 200.3,340.3 201.2,340.8 202.1,341.3 203.0,341.8 203.8,342.2 204.7,342.6 205.6,343.0 206.5,343.4 207.4,343.8 208.2,344.2 209.1,344.6 210.0,344.9 210.9,345.2 211.8,345.6 212.6,345.9 213.5,346.2 214.4,346.5 215.3,346.8 216.2,347.0 217.0,347.3 217.9,347.6 218.8,347.8 219.7,348.1 220.6,348.3 221.4,348.5 222.3,348.8 223.2,349.0 224.1,349.2 224.9,349.4 225.8,349.6 226.7,349.8 227.6,350.0 228.5,350.2 229.3,350.4 230.2,350.6 231.1,350.7 232.0,350.9 232.9,351.1 233.8,351.2 234.6,351.4 235.5,351.6 236.4,351.7 237.3,351.9 238.1,352.0 239.0,352.1 239.9,352.3 240.8,352.4 241.7,352.6 242.5,352.7 243.4,352.8 244.3,353.0 245.2,353.1 246.1,353.2 246.9,353.3 247.8,353.4 248.7,353.6 249.6,353.7 250.5,353.8 251.3,353.9 252.2,354.0 253.1,354.1 254.0,354.2 254.8,354.3 255.7,354.4 256.6,354.5 257.5,354.6 258.4,354.7 259.2,354.8 260.1,354.9 261.0,355.0 261.9,355.1 262.8,355.2 263.6,355.3 264.5,355.4 265.4,355.5 266.3,355.6 267.2,355.6 268.1,355.7 268.9,355.8 269.8,355.9 270.7,356.0 271.6,356.1 272.4,356.1 273.3,356.2 274.2,356.3 275.1,356.4 276.0,356.5 276.8,356.5 277.7,356.6 278.6,356.7 279.5,356.8 280.4,356.8 281.2,356.9 282.1,357.0 283.0,357.1" stroke="#2166e0"/>
<polyline points="55.2,358.3 56.1,358.3 57.0,358.3 57.8,358.3 58.7,358.3 59.6,358.3 60.5,358.3 61.4,358.3 62.2,358.3 63.1,358.3 64.0,358.3 64.9,358.2 65.8,358.2 66.6,358.2 67.5,358.2 68.4,358.2 69.3,358.2 70.2,358.2 71.0,358.2 71.9,358.2 72.8,358.2 73.7,358.2 74.5,358.2 75.4,358.2 76.3,358.2 77.2,358.2 78.1,358.2 79.0,358.1 79.8,358.1 80.7,358.1 81.6,358.1 82.5,358.1 83.3,358.1 84.2,358.1 85.1,358.1 86.0,358.1 86.9,358.1 87.7,358.1 88.6,358.1 89.5,358.0 90.4,358.0 91.3,358.0 92.1,358.0 93.0,358.0 93.9,358.0 94.8,358.0 95.7,358.0 96.5,358.0 97.4,357.9 98.3,357.9 99.2,357.9 100.1,357.9 100.9,357.9 101.8,357.9 102.7,357.9 103.6,357.8 104.5,357.8 105.3,357.8 106.2,357.8 107.1,357.8 108.0,357.8 108.8,357.7 109.7,357.7 110.6,357.7 111.5,357.7 112.4,357.7 113.2,357.6 114.1,357.6 115.0,357.6 115.9,357.6 116.8,357.6 117.7,357.5 118.5,357.5 119.4,357.5 120.3,357.4 121.2,357.4 122.0,357.4 122.9,357.3 123.8,357.3 124.7,357.3 125.6,357.2 126.4,357.2 127.3,357.1 128.2,357.1 129.1,357.0 130.0,357.0 130.8,356.9 131.7,356.8 132.6,356.7 133.5,356.7 134.4,356.6 135.2,356.5 136.1,356.4 137.0,356.3 137.9,356.1 138.8,356.0 139.6,355.8 140.5,355.7 141.4,355.5 142.3,355.2 143.2,355.0 144.0,354.7 144.9,354.4 145.8,354.0 146.7,353.6 147.6,353.1 148.4,352.6 149.3,352.0 150.0,351.4 150.2,351.3 150.2,351.3 150.3,351.1 150.5,351.0 150.7,350.8 150.8,350.7 151.0,350.5 151.1,350.4 151.2,350.3 151.3,350.2 151.5,350.0 151.7,349.8 151.8,349.6 151.9,349.5 152.0,349.4 152.2,349.2 152.3,349.0 152.5,348.8 152.7,348.6 152.8,348.4 153.0,348.2 153.2,347.9 153.3,347.7 153.5,347.5 153.7,347.2 153.7,347.1 153.8,347.0 154.0,346.7 154.2,346.4 154.3,346.2 154.5,345.9 154.6,345.7 154.7,345.6 154.8,345.3 155.0,345.0 155.2,344.6 155.3,344.3 155.5,344.0 155.5,344.0 155.7,343.6 155.8,343.3 156.0,342.9 156.2,342.5 156.3,342.2 156.3,342.1 156.5,341.8 156.7,341.4 156.8,341.0 157.0,340.6 157.2,340.1 157.2,340.0 157.3,339.7 157.5,339.2 157.7,338.8 157.8,338.3 158.0,337.8 158.1,337.5 158.2,337.3 158.3,336.8 158.5,336.3 158.7,335.8 158.8,335.3 159.0,334.7 159.0,334.7 159.2,334.1 159.3,333.6 159.5,333.0 159.7,332.4 159.8,331.8 159.9,331.7 160.0,331.1 160.2,330.5 160.3,329.9 160.5,329.2 160.7,328.5 160.7,328.3 160.8,327.9 161.0,327.2 161.2,326.5 161.3,325.8 161.5,325.1 161.6,324.5 161.7,324.3 161.8,323.6 162.0,322.8 162.2,322.1 162.3,321.3 162.5,320.5 162.7,319.7 162.8,319.0 163.0,318.2 163.2,317.4 163.3,316.6 163.4,316.3 163.5,315.8 163.7,314.9 163.8,314.1 164.0,313.3 164.2,312.5 164.3,312.0 164.3,311.7 164.5,310.8 164.7,310.0 164.8,309.2 165.0,308.4 165.1,307.7 165.2,307.6 165.3,306.8 165.5,306.0 165.7,305.2 165.8,304.4 166.0,303.7 166.0,303.6 166.2,302.9 166.3,302.2 166.5,301.4 166.7,300.7 166.8,300.0 166.9,299.7 167.0,299.3 167.2,298.7 167.3,298.0 167.5,297.4 167.7,296.8 167.8,296.4 167.8,296.2 168.0,295.7 168.2,295.1 168.3,294.7 168.5,294.2 168.7,293.8 168.7,293.7 168.8,293.3 169.0,292.9 169.2,292.6 169.3,292.3 169.5,292.0 169.5,291.9 169.7,291.7 169.8,291.5 170.0,291.3 170.2,291.2 170.3,291.1 170.4,291.0 170.5,291.0 170.7,290.9 170.8,290.9 171.0,290.9 171.2,291.0 171.3,291.1 171.3,291.1 171.5,291.2 171.7,291.4 171.8,291.5 172.0,291.8 172.2,292.0 172.2,292.1 172.3,292.3 172.5,292.6 172.7,293.0 172.8,293.4 173.0,293.8 173.1,293.9 173.2,294.2 173.3,294.7 173.5,295.2 173.7,295.7 173.8,296.2 173.9,296.6 174.0,296.8 174.2,297.4 174.3,298.0 174.5,298.6 174.7,299.3 174.8,299.8 174.8,299.9 175.0,300.6 175.2,301.3 175.3,301.9 175.5,302.7 175.7,303.4 175.7,303.5 175.8,304.1 176.0,304.8 176.2,305.6 176.3,306.3 176.5,307.1 176.6,307.4 176.7,307.8 176.8,308.6 177.0,309.4 177.2,310.1 177.3,310.9 177.5,311.5 177.5,311.6 177.7,312.4 177.8,313.1 178.0,313.9 178.2,314.7 178.3,315.4 178.3,315.4 178.5,316.1 178.7,316.9 178.8,317.6 179.0,318.3 179.2,319.0 179.2,319.2 179.3,319.7 179.5,320.4 179.7,321.1 179.8,321.7 180.0,322.4 180.1,322.8 180.2,323.1 180.3,323.7 180.5,324.3 180.7,325.0 180.8,325.6 181.0,326.1 181.0,326.2 181.2,326.8 181.3,327.3 181.5,327.9 181.7,328.5 181.8,329.0 181.8,329.0 182.0,329.5 182.2,330.1 182.3,330.5 182.5,331.0 182.7,331.5 182.7,331.7 182.8,332.0 183.0,332.5 183.2,332.9 183.3,333.3 183.5,333.8 183.6,334.1 183.7,334.2 183.8,334.6 184.0,335.0 184.2,335.4 184.3,335.8 184.5,336.1 184.5,336.1 184.7,336.5 184.8,336.8 185.0,337.2 185.2,337.5 185.3,337.8 185.4,337.9 185.5,338.1 185.7,338.5 185.8,338.7 186.0,339.0 186.2,339.3 186.2,339.4 186.3,339.6 186.5,339.8 186.7,340.1 186.8,340.3 187.0,340.6 187.1,340.8 187.2,340.8 187.3,341.0 187.5,341.3 187.7,341.5 187.8,341.7 188.0,341.9 188.0,341.9 188.2,342.1 188.3,342.3 188.5,342.5 188.7,342.6 188.8,342.8 188.9,342.9 189.0,343.0 189.2,343.1 189.3,343.3 189.5,343.4 189.7,343.6 189.8,343.7 189.8,343.7 190.0,343.9 190.2,344.0 190.3,344.1 190.5,344.3 190.7,344.4 190.7,344.4 190.8,344.5 191.0,344.6 191.2,344.8 191.3,344.9 191.5,345.0 191.5,345.0 191.7,345.1 191.8,345.2 192.0,345.3 192.2,345.4 192.3,345.5 192.4,345.5 192.5,345.6 192.7,345.7 192.8,345.7 193.0,345.8 193.2,345.9 193.3,346.0 193.3,346.0 193.5,346.1 193.7,346.2 193.8,346.2 194.0,346.3 194.2,346.4 194.3,346.4 194.5,346.5 194.7,346.6 194.8,346.7 195.0,346.7 195.1,346.7 195.9,347.1 196.8,347.4 197.7,347.6 198.6,347.9 199.4,348.2 200.3,348.4 201.2,348.6 202.1,348.9 203.0,349.1 203.8,349.4 204.7,349.6 205.6,349.8 206.5,350.1 207.4,350.3 208.2,350.5 209.1,350.8 210.0,351.0 210.9,351.2 211.8,351.4 212.6,351.7 213.5,351.9 214.4,352.1 215.3,352.3 216.2,352.5 217.0,352.7 217.9,352.9 218.8,353.1 219.7,353.2 220.6,353.4 221.4,353.6 222.3,353.7 223.2,353.9 224.1,354.1 224.9,354.2 225.8,354.3 226.7,354.5 227.6,354.6 228.5,354.7 229.3,354.8 230.2,355.0 231.1,355.1 232.0,355.2 232.9,355.3 233.8,355.4 234.6,355.5 235.5,355.6 236.4,355.7 237.3,355.7 238.1,355.8 239.0,355.9 239.9,356.0 240.8,356.0 241.7,356.1 242.5,356.2 243.4,356.2 244.3,356.3 245.2,356.4 246.1,356.4 246.9,356.5 247.8,356.5 248.7,356.6 249.6,356.6 250.5,356.7 251.3,356.7 252.2,356.8 253.1,356.8 254.0,356.9 254.8,356.9 255.7,356.9 256.6,357.0 257.5,357.0 258.4,357.0 259.2,357.1 260.1,357.1 261.0,357.1 261.9,357.2 262.8,357.2 263.6,357.2 264.5,357.2 265.4,357.3 266.3,357.3 267.2,357.3 268.1,357.3 268.9,357.4 269.8,357.4 270.7,357.4 271.6,357.4 272.4,357.5 273.3,357.5 274.2,357.5 275.1,357.5 276.0,357.5 276.8,357.6 277.7,357.6 278.6,357.6 279.5,357.6 280.4,357.6 281.2,357.6 282.1,357.6 283.0,357.7" stroke="#2a9a58"/>
<polyline points="55.2,357.8 56.1,357.8 57.0,357.8 57.8,357.8 58.7,357.8 59.6,357.8 60.5,357.8 61.4,357.8 62.2,357.8 63.1,357.8 64.0,357.8 64.9,357.8 65.8,357.8 66.6,357.8 67.5,357.8 68.4,357.8 69.3,357.8 70.2,357.8 71.0,357.8 71.9,357.8 72.8,357.8 73.7,357.8 74.5,357.8 75.4,357.8 76.3,357.8 77.2,357.8 78.1,357.8 79.0,357.8 79.8,357.8 80.7,357.8 81.6,357.8 82.5,357.8 83.3,357.8 84.2,357.8 85.1,357.8 86.0,357.8 86.9,357.8 87.7,357.9 88.6,357.9 89.5,357.9 90.4,357.9 91.3,357.9 92.1,357.9 93.0,357.9 93.9,357.9 94.8,357.9 95.7,357.9 96.5,357.9 97.4,357.9 98.3,357.8 99.2,357.8 100.1,357.8 100.9,357.8 101.8,357.8 102.7,357.8 103.6,357.8 104.5,357.8 105.3,357.8 106.2,357.8 107.1,357.8 108.0,357.8 108.8,357.8 109.7,357.8 110.6,357.8 111.5,357.8 112.4,357.8 113.2,357.8 114.1,357.8 115.0,357.8 115.9,357.8 116.8,357.8 117.7,357.8 118.5,357.8 119.4,357.8 120.3,357.8 121.2,357.7 122.0,357.7 122.9,357.7 123.8,357.7 124.7,357.7 125.6,357.7 126.4,357.7 127.3,357.7 128.2,357.6 129.1,357.6 130.0,357.6 130.8,357.6 131.7,357.6 132.6,357.5 133.5,357.5 134.4,357.5 135.2,357.4 136.1,357.4 137.0,357.4 137.9,357.3 138.8,357.3 139.6,357.2 140.5,357.2 141.4,357.1 142.3,357.0 143.2,356.9 144.0,356.8 144.9,356.7 145.8,356.6 146.7,356.5 147.6,356.3 148.4,356.1 149.3,355.9 150.0,355.7 150.2,355.6 150.2,355.6 150.3,355.6 150.5,355.5 150.7,355.5 150.8,355.4 151.0,355.3 151.1,355.3 151.2,355.3 151.3,355.2 151.5,355.1 151.7,355.1 151.8,355.0 151.9,354.9 152.0,354.9 152.2,354.8 152.3,354.8 152.5,354.7 152.7,354.6 152.8,354.5 153.0,354.4 153.2,354.3 153.3,354.2 153.5,354.1 153.7,354.0 153.7,354.0 153.8,353.9 154.0,353.8 154.2,353.7 154.3,353.6 154.5,353.4 154.6,353.4 154.7,353.3 154.8,353.2 155.0,353.0 155.2,352.9 155.3,352.7 155.5,352.6 155.5,352.6 155.7,352.4 155.8,352.2 156.0,352.0 156.2,351.8 156.3,351.7 156.3,351.6 156.5,351.5 156.7,351.2 156.8,351.0 157.0,350.8 157.2,350.6 157.2,350.5 157.3,350.3 157.5,350.1 157.7,349.8 157.8,349.5 158.0,349.2 158.1,349.0 158.2,348.9 158.3,348.6 158.5,348.3 158.7,347.9 158.8,347.6 159.0,347.2 159.0,347.2 159.2,346.8 159.3,346.4 159.5,346.0 159.7,345.5 159.8,345.1 159.9,345.0 160.0,344.6 160.2,344.1 160.3,343.6 160.5,343.0 160.7,342.4 160.7,342.2 160.8,341.9 161.0,341.2 161.2,340.6 161.3,339.9 161.5,339.2 161.6,338.7 161.7,338.4 161.8,337.7 162.0,336.9 162.2,336.0 162.3,335.2 162.5,334.2 162.7,333.3 162.8,332.3 163.0,331.3 163.2,330.2 163.3,329.1 163.4,328.8 163.5,327.9 163.7,326.7 163.8,325.5 164.0,324.2 164.2,322.8 164.3,322.1 164.3,321.5 164.5,320.1 164.7,318.5 164.8,317.1 165.0,315.5 165.1,314.2 165.2,313.9 165.3,312.3 165.5,310.6 165.7,308.8 165.8,307.1 166.0,305.3 166.0,305.1 166.2,303.5 166.3,301.7 166.5,299.8 166.7,298.0 166.8,296.2 166.9,295.4 167.0,294.3 167.2,292.4 167.3,290.6 167.5,288.8 167.7,287.0 167.8,285.9 167.8,285.3 168.0,283.6 168.2,282.0 168.3,280.5 168.5,279.0 168.7,277.7 168.7,277.7 168.8,276.5 169.0,275.3 169.2,274.2 169.3,273.4 169.5,272.6 169.5,272.4 169.7,271.9 169.8,271.4 170.0,271.1 170.2,270.9 170.3,270.9 170.4,270.9 170.5,271.0 170.7,271.2 170.8,271.6 171.0,272.2 171.2,272.9 171.3,273.5 171.3,273.7 171.5,274.6 171.7,275.7 171.8,276.9 172.0,278.2 172.2,279.6 172.2,279.7 172.3,281.0 172.5,282.6 172.7,284.3 172.8,285.9 173.0,287.6 173.1,288.3 173.2,289.4 173.3,291.1 173.5,293.0 173.7,294.8 173.8,296.6 173.9,297.8 174.0,298.5 174.2,300.3 174.3,302.0 174.5,303.9 174.7,305.7 174.8,307.2 174.8,307.3 175.0,309.1 175.2,310.8 175.3,312.3 175.5,313.9 175.7,315.5 175.7,315.8 175.8,317.0 176.0,318.5 176.2,319.9 176.3,321.2 176.5,322.6 176.6,323.2 176.7,323.9 176.8,325.1 177.0,326.3 177.2,327.4 177.3,328.5 177.5,329.3 177.5,329.6 177.7,330.6 177.8,331.5 178.0,332.5 178.2,333.4 178.3,334.2 178.3,334.3 178.5,335.1 178.7,335.9 178.8,336.6 179.0,337.4 179.2,338.1 179.2,338.2 179.3,338.7 179.5,339.3 179.7,340.0 179.8,340.5 180.0,341.1 180.1,341.4 180.2,341.6 180.3,342.1 180.5,342.6 180.7,343.1 180.8,343.5 181.0,343.9 181.0,343.9 181.2,344.3 181.3,344.7 181.5,345.1 181.7,345.5 181.8,345.8 181.8,345.8 182.0,346.1 182.2,346.4 182.3,346.7 182.5,347.0 182.7,347.3 182.7,347.4 182.8,347.5 183.0,347.8 183.2,348.0 183.3,348.2 183.5,348.4 183.6,348.6 183.7,348.6 183.8,348.8 184.0,349.0 184.2,349.2 184.3,349.4 184.5,349.5 184.5,349.5 184.7,349.7 184.8,349.9 185.0,350.0 185.2,350.1 185.3,350.3 185.4,350.3 185.5,350.4 185.7,350.5 185.8,350.6 186.0,350.8 186.2,350.9 186.2,350.9 186.3,351.0 186.5,351.1 186.7,351.2 186.8,351.3 187.0,351.4 187.1,351.4 187.2,351.4 187.3,351.5 187.5,351.6 187.7,351.7 187.8,351.8 188.0,351.8 188.0,351.8 188.2,351.9 188.3,352.0 188.5,352.0 188.7,352.1 188.8,352.2 188.9,352.2 189.0,352.2 189.2,352.3 189.3,352.3 189.5,352.4 189.7,352.4 189.8,352.5 189.8,352.5 190.0,352.5 190.2,352.6 190.3,352.6 190.5,352.7 190.7,352.7 190.7,352.7 190.8,352.8 191.0,352.8 191.2,352.9 191.3,352.9 191.5,352.9 191.5,352.9 191.7,353.0 191.8,353.0 192.0,353.0 192.2,353.1 192.3,353.1 192.4,353.1 192.5,353.2 192.7,353.2 192.8,353.2 193.0,353.3 193.2,353.3 193.3,353.3 193.3,353.3 193.5,353.4 193.7,353.4 193.8,353.4 194.0,353.5 194.2,353.5 194.3,353.5 194.5,353.5 194.7,353.6 194.8,353.6 195.0,353.6 195.1,353.6 195.9,353.8 196.8,354.0 197.7,354.1 198.6,354.3 199.4,354.4 200.3,354.5 201.2,354.7 202.1,354.8 203.0,355.0 203.8,355.1 204.7,355.3 205.6,355.4 206.5,355.5 207.4,355.6 208.2,355.8 209.1,355.9 210.0,356.0 210.9,356.1 211.8,356.2 212.6,356.3 213.5,356.4 214.4,356.5 215.3,356.6 216.2,356.7 217.0,356.8 217.9,356.8 218.8,356.9 219.7,357.0 220.6,357.0 221.4,357.1 222.3,357.2 223.2,357.2 224.1,357.3 224.9,357.3 225.8,357.4 226.7,357.4 227.6,357.5 228.5,357.5 229.3,357.6 230.2,357.6 231.1,357.7 232.0,357.7 232.9,357.7 233.8,357.8 234.6,357.8 235.5,357.8 236.4,357.9 237.3,357.9 238.1,357.9 239.0,358.0 239.9,358.0 240.8,358.0 241.7,358.0 242.5,358.1 243.4,358.1 244.3,358.1 245.2,358.1 246.1,358.1 246.9,358.2 247.8,358.2 248.7,358.2 249.6,358.2 250.5,358.2 251.3,358.3 252.2,358.3 253.1,358.3 254.0,358.3 254.8,358.3 255.7,358.3 256.6,358.4 257.5,358.4 258.4,358.4 259.2,358.4 260.1,358.4 261.0,358.4 261.9,358.4 262.8,358.4 263.6,358.5 264.5,358.5 265.4,358.5 266.3,358.5 267.2,358.5 268.1,358.5 268.9,358.5 269.8,358.5 270.7,358.5 271.6,358.6 272.4,358.6 273.3,358.6 274.2,358.6 275.1,358.6 276.0,358.6 276.8,358.6 277.7,358.6 278.6,358.6 279.5,358.6 280.4,358.7 281.2,358.7 282.1,358.7 283.0,358.7" stroke="#b374e3"/>
</g>
<line x1="56.20" y1="269.50" x2="282.00" y2="269.50" stroke="#3a3a3a" stroke-width="1.3"/>
<line x1="56.20" y1="362.40" x2="282.00" y2="362.40" stroke="#3a3a3a" stroke-width="1.3"/>
<line x1="56.20" y1="268.85" x2="56.20" y2="363.05" stroke="#3a3a3a" stroke-width="1.3"/>
<line x1="282.00" y1="268.85" x2="282.00" y2="363.05" stroke="#3a3a3a" stroke-width="1.3"/>
<line x1="84.43" y1="362.40" x2="84.43" y2="360.00" stroke="#3a3a3a" stroke-width="1"/>
<line x1="84.43" y1="269.50" x2="84.43" y2="271.90" stroke="#3a3a3a" stroke-width="1"/>
<line x1="140.88" y1="362.40" x2="140.88" y2="360.00" stroke="#3a3a3a" stroke-width="1"/>
<line x1="140.88" y1="269.50" x2="140.88" y2="271.90" stroke="#3a3a3a" stroke-width="1"/>
<line x1="197.32" y1="362.40" x2="197.32" y2="360.00" stroke="#3a3a3a" stroke-width="1"/>
<line x1="197.32" y1="269.50" x2="197.32" y2="271.90" stroke="#3a3a3a" stroke-width="1"/>
<line x1="253.77" y1="362.40" x2="253.77" y2="360.00" stroke="#3a3a3a" stroke-width="1"/>
<line x1="253.77" y1="269.50" x2="253.77" y2="271.90" stroke="#3a3a3a" stroke-width="1"/>
<line x1="112.65" y1="362.40" x2="112.65" y2="361.10" stroke="#3a3a3a" stroke-width="1"/>
<line x1="112.65" y1="269.50" x2="112.65" y2="270.80" stroke="#3a3a3a" stroke-width="1"/>
<line x1="169.10" y1="362.40" x2="169.10" y2="361.10" stroke="#3a3a3a" stroke-width="1"/>
<line x1="169.10" y1="269.50" x2="169.10" y2="270.80" stroke="#3a3a3a" stroke-width="1"/>
<line x1="225.55" y1="362.40" x2="225.55" y2="361.10" stroke="#3a3a3a" stroke-width="1"/>
<line x1="225.55" y1="269.50" x2="225.55" y2="270.80" stroke="#3a3a3a" stroke-width="1"/>
<line x1="56.20" y1="362.40" x2="58.60" y2="362.40" stroke="#3a3a3a" stroke-width="1"/>
<line x1="282.00" y1="362.40" x2="279.60" y2="362.40" stroke="#3a3a3a" stroke-width="1"/>
<line x1="56.20" y1="343.82" x2="58.60" y2="343.82" stroke="#3a3a3a" stroke-width="1"/>
<line x1="282.00" y1="343.82" x2="279.60" y2="343.82" stroke="#3a3a3a" stroke-width="1"/>
<line x1="56.20" y1="325.24" x2="58.60" y2="325.24" stroke="#3a3a3a" stroke-width="1"/>
<line x1="282.00" y1="325.24" x2="279.60" y2="325.24" stroke="#3a3a3a" stroke-width="1"/>
<line x1="56.20" y1="306.66" x2="58.60" y2="306.66" stroke="#3a3a3a" stroke-width="1"/>
<line x1="282.00" y1="306.66" x2="279.60" y2="306.66" stroke="#3a3a3a" stroke-width="1"/>
<line x1="56.20" y1="288.08" x2="58.60" y2="288.08" stroke="#3a3a3a" stroke-width="1"/>
<line x1="282.00" y1="288.08" x2="279.60" y2="288.08" stroke="#3a3a3a" stroke-width="1"/>
<line x1="56.20" y1="269.50" x2="58.60" y2="269.50" stroke="#3a3a3a" stroke-width="1"/>
<line x1="282.00" y1="269.50" x2="279.60" y2="269.50" stroke="#3a3a3a" stroke-width="1"/>
<line x1="56.20" y1="353.11" x2="57.50" y2="353.11" stroke="#3a3a3a" stroke-width="1"/>
<line x1="282.00" y1="353.11" x2="280.70" y2="353.11" stroke="#3a3a3a" stroke-width="1"/>
<line x1="56.20" y1="334.53" x2="57.50" y2="334.53" stroke="#3a3a3a" stroke-width="1"/>
<line x1="282.00" y1="334.53" x2="280.70" y2="334.53" stroke="#3a3a3a" stroke-width="1"/>
<line x1="56.20" y1="315.95" x2="57.50" y2="315.95" stroke="#3a3a3a" stroke-width="1"/>
<line x1="282.00" y1="315.95" x2="280.70" y2="315.95" stroke="#3a3a3a" stroke-width="1"/>
<line x1="56.20" y1="297.37" x2="57.50" y2="297.37" stroke="#3a3a3a" stroke-width="1"/>
<line x1="282.00" y1="297.37" x2="280.70" y2="297.37" stroke="#3a3a3a" stroke-width="1"/>
<line x1="56.20" y1="278.79" x2="57.50" y2="278.79" stroke="#3a3a3a" stroke-width="1"/>
<line x1="282.00" y1="278.79" x2="280.70" y2="278.79" stroke="#3a3a3a" stroke-width="1"/>
<text x="84.43" y="375.00" font-size="13" text-anchor="middle" fill="#111" stroke="#111" >500</text>
<text x="140.88" y="375.00" font-size="13" text-anchor="middle" fill="#111" stroke="#111" >550</text>
<text x="197.32" y="375.00" font-size="13" text-anchor="middle" fill="#111" stroke="#111" >600</text>
<text x="253.77" y="375.00" font-size="13" text-anchor="middle" fill="#111" stroke="#111" >650</text>
<text x="53.40" y="366.10" font-size="13" text-anchor="end" fill="#111" stroke="#111" >0.0</text>
<text x="53.40" y="347.52" font-size="13" text-anchor="end" fill="#111" stroke="#111" >0.1</text>
<text x="53.40" y="328.94" font-size="13" text-anchor="end" fill="#111" stroke="#111" >0.2</text>
<text x="53.40" y="310.36" font-size="13" text-anchor="end" fill="#111" stroke="#111" >0.3</text>
<text x="53.40" y="291.78" font-size="13" text-anchor="end" fill="#111" stroke="#111" >0.4</text>
<text x="53.40" y="273.20" font-size="13" text-anchor="end" fill="#111" stroke="#111" >0.5</text>
<text x="169.10" y="386.70" font-size="13.5" text-anchor="middle" fill="#111" stroke="#111" >Wavelength (nm)</text>
<text x="0" y="0" font-size="13.5" text-anchor="middle" fill="#111" stroke="#111" transform="translate(29.00,309.80) rotate(-90)">Absorption</text>
<text x="4.50" y="272.20" font-size="13.5" text-anchor="start" fill="#111" stroke="#111" >(c)</text>
<line x1="238.00" y1="282.40" x2="261.30" y2="282.40" stroke="#3c3c3c" stroke-width="1.75"/>
<text x="263.70" y="286.10" font-size="10.3" text-anchor="start" fill="#111" stroke="#111" >C1</text>
<line x1="238.00" y1="294.85" x2="261.30" y2="294.85" stroke="#f2282e" stroke-width="1.75"/>
<text x="263.70" y="298.55" font-size="10.3" text-anchor="start" fill="#111" stroke="#111" >C2</text>
<line x1="238.00" y1="307.30" x2="261.30" y2="307.30" stroke="#2166e0" stroke-width="1.75"/>
<text x="263.70" y="311.00" font-size="10.3" text-anchor="start" fill="#111" stroke="#111" >C3</text>
<line x1="238.00" y1="319.75" x2="261.30" y2="319.75" stroke="#2a9a58" stroke-width="1.75"/>
<text x="263.70" y="323.45" font-size="10.3" text-anchor="start" fill="#111" stroke="#111" >C4</text>
<line x1="238.00" y1="332.20" x2="261.30" y2="332.20" stroke="#b374e3" stroke-width="1.75"/>
<text x="263.70" y="335.90" font-size="10.3" text-anchor="start" fill="#111" stroke="#111" >C5</text>
<line x1="336.30" y1="8.30" x2="561.70" y2="8.30" stroke="#3a3a3a" stroke-width="1.3"/>
<line x1="336.30" y1="100.90" x2="561.70" y2="100.90" stroke="#3a3a3a" stroke-width="1.3"/>
<line x1="336.30" y1="7.65" x2="336.30" y2="101.55" stroke="#3a3a3a" stroke-width="1.3"/>
<line x1="561.70" y1="7.65" x2="561.70" y2="101.55" stroke="#3a3a3a" stroke-width="1.3"/>
<line x1="349.40" y1="100.90" x2="349.40" y2="98.50" stroke="#3a3a3a" stroke-width="1"/>
<line x1="349.40" y1="8.30" x2="349.40" y2="10.70" stroke="#3a3a3a" stroke-width="1"/>
<line x1="382.57" y1="100.90" x2="382.57" y2="98.50" stroke="#3a3a3a" stroke-width="1"/>
<line x1="382.57" y1="8.30" x2="382.57" y2="10.70" stroke="#3a3a3a" stroke-width="1"/>
<line x1="415.73" y1="100.90" x2="415.73" y2="98.50" stroke="#3a3a3a" stroke-width="1"/>
<line x1="415.73" y1="8.30" x2="415.73" y2="10.70" stroke="#3a3a3a" stroke-width="1"/>
<line x1="448.90" y1="100.90" x2="448.90" y2="98.50" stroke="#3a3a3a" stroke-width="1"/>
<line x1="448.90" y1="8.30" x2="448.90" y2="10.70" stroke="#3a3a3a" stroke-width="1"/>
<line x1="482.07" y1="100.90" x2="482.07" y2="98.50" stroke="#3a3a3a" stroke-width="1"/>
<line x1="482.07" y1="8.30" x2="482.07" y2="10.70" stroke="#3a3a3a" stroke-width="1"/>
<line x1="515.23" y1="100.90" x2="515.23" y2="98.50" stroke="#3a3a3a" stroke-width="1"/>
<line x1="515.23" y1="8.30" x2="515.23" y2="10.70" stroke="#3a3a3a" stroke-width="1"/>
<line x1="548.40" y1="100.90" x2="548.40" y2="98.50" stroke="#3a3a3a" stroke-width="1"/>
<line x1="548.40" y1="8.30" x2="548.40" y2="10.70" stroke="#3a3a3a" stroke-width="1"/>
<line x1="365.98" y1="100.90" x2="365.98" y2="99.60" stroke="#3a3a3a" stroke-width="1"/>
<line x1="365.98" y1="8.30" x2="365.98" y2="9.60" stroke="#3a3a3a" stroke-width="1"/>
<line x1="399.15" y1="100.90" x2="399.15" y2="99.60" stroke="#3a3a3a" stroke-width="1"/>
<line x1="399.15" y1="8.30" x2="399.15" y2="9.60" stroke="#3a3a3a" stroke-width="1"/>
<line x1="432.32" y1="100.90" x2="432.32" y2="99.60" stroke="#3a3a3a" stroke-width="1"/>
<line x1="432.32" y1="8.30" x2="432.32" y2="9.60" stroke="#3a3a3a" stroke-width="1"/>
<line x1="465.48" y1="100.90" x2="465.48" y2="99.60" stroke="#3a3a3a" stroke-width="1"/>
<line x1="465.48" y1="8.30" x2="465.48" y2="9.60" stroke="#3a3a3a" stroke-width="1"/>
<line x1="498.65" y1="100.90" x2="498.65" y2="99.60" stroke="#3a3a3a" stroke-width="1"/>
<line x1="498.65" y1="8.30" x2="498.65" y2="9.60" stroke="#3a3a3a" stroke-width="1"/>
<line x1="531.82" y1="100.90" x2="531.82" y2="99.60" stroke="#3a3a3a" stroke-width="1"/>
<line x1="531.82" y1="8.30" x2="531.82" y2="9.60" stroke="#3a3a3a" stroke-width="1"/>
<text x="349.40" y="113.50" font-size="13" text-anchor="middle" fill="#111" stroke="#111" >20</text>
<text x="382.57" y="113.50" font-size="13" text-anchor="middle" fill="#111" stroke="#111" >25</text>
<text x="415.73" y="113.50" font-size="13" text-anchor="middle" fill="#111" stroke="#111" >30</text>
<text x="448.90" y="113.50" font-size="13" text-anchor="middle" fill="#111" stroke="#111" >35</text>
<text x="482.07" y="113.50" font-size="13" text-anchor="middle" fill="#111" stroke="#111" >40</text>
<text x="515.23" y="113.50" font-size="13" text-anchor="middle" fill="#111" stroke="#111" >45</text>
<text x="548.40" y="113.50" font-size="13" text-anchor="middle" fill="#111" stroke="#111" >50</text>
<text x="449.50" y="125.70" font-size="13.5" text-anchor="middle" fill="#111" stroke="#111" >Mirror Thickness (nm)</text>
<line x1="336.30" y1="93.78" x2="338.70" y2="93.78" stroke="#3a3a3a" stroke-width="1"/>
<line x1="561.70" y1="93.78" x2="559.30" y2="93.78" stroke="#3a3a3a" stroke-width="1"/>
<line x1="336.30" y1="65.28" x2="338.70" y2="65.28" stroke="#3a3a3a" stroke-width="1"/>
<line x1="561.70" y1="65.28" x2="559.30" y2="65.28" stroke="#3a3a3a" stroke-width="1"/>
<line x1="336.30" y1="36.79" x2="338.70" y2="36.79" stroke="#3a3a3a" stroke-width="1"/>
<line x1="561.70" y1="36.79" x2="559.30" y2="36.79" stroke="#3a3a3a" stroke-width="1"/>
<line x1="336.30" y1="8.30" x2="338.70" y2="8.30" stroke="#3a3a3a" stroke-width="1"/>
<line x1="561.70" y1="8.30" x2="559.30" y2="8.30" stroke="#3a3a3a" stroke-width="1"/>
<line x1="336.30" y1="79.53" x2="337.60" y2="79.53" stroke="#3a3a3a" stroke-width="1"/>
<line x1="561.70" y1="79.53" x2="560.40" y2="79.53" stroke="#3a3a3a" stroke-width="1"/>
<line x1="336.30" y1="51.04" x2="337.60" y2="51.04" stroke="#3a3a3a" stroke-width="1"/>
<line x1="561.70" y1="51.04" x2="560.40" y2="51.04" stroke="#3a3a3a" stroke-width="1"/>
<line x1="336.30" y1="22.55" x2="337.60" y2="22.55" stroke="#3a3a3a" stroke-width="1"/>
<line x1="561.70" y1="22.55" x2="560.40" y2="22.55" stroke="#3a3a3a" stroke-width="1"/>
<text x="332.80" y="97.78" font-size="13" text-anchor="end" fill="#111" stroke="#111" >8</text>
<text x="332.80" y="69.28" font-size="13" text-anchor="end" fill="#111" stroke="#111" >10</text>
<text x="332.80" y="40.79" font-size="13" text-anchor="end" fill="#111" stroke="#111" >12</text>
<text x="332.80" y="12.30" font-size="13" text-anchor="end" fill="#111" stroke="#111" >14</text>
<text x="0" y="0" font-size="13.5" text-anchor="middle" fill="#111" stroke="#111" transform="translate(313.70,54.40) rotate(-90)">Spectral Overlap</text>
<text x="287.20" y="10.20" font-size="13.5" text-anchor="start" fill="#111" stroke="#111" >(d)</text>
<line x1="355.60" y1="20.02" x2="376.37" y2="20.78" stroke="#0a0af5" stroke-width="1.85"/>
<line x1="388.76" y1="21.28" x2="409.54" y2="22.22" stroke="#0a0af5" stroke-width="1.85"/>
<line x1="421.82" y1="23.70" x2="475.98" y2="34.40" stroke="#0a0af5" stroke-width="1.85"/>
<line x1="487.84" y1="37.86" x2="542.62" y2="59.24" stroke="#0a0af5" stroke-width="1.85"/>
<polygon points="349.40,13.27 343.50,23.07 355.30,23.07" fill="#0a0af5"/>
<polygon points="382.57,14.47 376.67,24.27 388.47,24.27" fill="#0a0af5"/>
<polygon points="415.73,15.97 409.83,25.77 421.63,25.77" fill="#0a0af5"/>
<polygon points="482.07,29.07 476.17,38.87 487.97,38.87" fill="#0a0af5"/>
<polygon points="548.40,54.97 542.50,64.77 554.30,64.77" fill="#0a0af5"/>
<line x1="355.46" y1="18.30" x2="376.50" y2="22.80" stroke="#fa0a0a" stroke-width="1.85"/>
<line x1="388.52" y1="25.84" x2="409.78" y2="32.06" stroke="#fa0a0a" stroke-width="1.85"/>
<line x1="421.51" y1="36.05" x2="476.29" y2="57.35" stroke="#fa0a0a" stroke-width="1.85"/>
<line x1="487.61" y1="62.37" x2="542.85" y2="89.93" stroke="#fa0a0a" stroke-width="1.85"/>
<rect x="345.10" y="12.70" width="8.6" height="8.6" fill="#fa0a0a"/>
<rect x="378.27" y="19.80" width="8.6" height="8.6" fill="#fa0a0a"/>
<rect x="411.43" y="29.50" width="8.6" height="8.6" fill="#fa0a0a"/>
<rect x="477.77" y="55.30" width="8.6" height="8.6" fill="#fa0a0a"/>
<rect x="544.10" y="88.40" width="8.6" height="8.6" fill="#fa0a0a"/>
<line x1="341.40" y1="56.40" x2="372.10" y2="56.40" stroke="#0a0af5" stroke-width="1.7"/>
<polygon points="356.80,49.87 350.90,59.67 362.70,59.67" fill="#0a0af5"/>
<line x1="341.40" y1="77.20" x2="372.10" y2="77.20" stroke="#fa0a0a" stroke-width="1.7"/>
<rect x="352.40" y="72.90" width="8.6" height="8.6" fill="#fa0a0a"/>
<text x="375.2" y="60.6" font-size="13" fill="#111" stroke="#111">&#934;<tspan font-size="9.6" dy="4.3">A</tspan></text>
<text x="375.2" y="81.7" font-size="13" fill="#111" stroke="#111">&#934;<tspan font-size="9.6" dy="4.3">E</tspan></text>
<line x1="336.30" y1="138.80" x2="561.70" y2="138.80" stroke="#3a3a3a" stroke-width="1.3"/>
<line x1="336.30" y1="231.60" x2="561.70" y2="231.60" stroke="#3a3a3a" stroke-width="1.3"/>
<line x1="336.30" y1="138.15" x2="336.30" y2="232.25" stroke="#0a0af5" stroke-width="1.3"/>
<line x1="561.70" y1="138.15" x2="561.70" y2="232.25" stroke="#fa0a0a" stroke-width="1.3"/>
<line x1="349.40" y1="231.60" x2="349.40" y2="229.20" stroke="#3a3a3a" stroke-width="1"/>
<line x1="349.40" y1="138.80" x2="349.40" y2="141.20" stroke="#3a3a3a" stroke-width="1"/>
<line x1="382.57" y1="231.60" x2="382.57" y2="229.20" stroke="#3a3a3a" stroke-width="1"/>
<line x1="382.57" y1="138.80" x2="382.57" y2="141.20" stroke="#3a3a3a" stroke-width="1"/>
<line x1="415.73" y1="231.60" x2="415.73" y2="229.20" stroke="#3a3a3a" stroke-width="1"/>
<line x1="415.73" y1="138.80" x2="415.73" y2="141.20" stroke="#3a3a3a" stroke-width="1"/>
<line x1="448.90" y1="231.60" x2="448.90" y2="229.20" stroke="#3a3a3a" stroke-width="1"/>
<line x1="448.90" y1="138.80" x2="448.90" y2="141.20" stroke="#3a3a3a" stroke-width="1"/>
<line x1="482.07" y1="231.60" x2="482.07" y2="229.20" stroke="#3a3a3a" stroke-width="1"/>
<line x1="482.07" y1="138.80" x2="482.07" y2="141.20" stroke="#3a3a3a" stroke-width="1"/>
<line x1="515.23" y1="231.60" x2="515.23" y2="229.20" stroke="#3a3a3a" stroke-width="1"/>
<line x1="515.23" y1="138.80" x2="515.23" y2="141.20" stroke="#3a3a3a" stroke-width="1"/>
<line x1="548.40" y1="231.60" x2="548.40" y2="229.20" stroke="#3a3a3a" stroke-width="1"/>
<line x1="548.40" y1="138.80" x2="548.40" y2="141.20" stroke="#3a3a3a" stroke-width="1"/>
<line x1="365.98" y1="231.60" x2="365.98" y2="230.30" stroke="#3a3a3a" stroke-width="1"/>
<line x1="365.98" y1="138.80" x2="365.98" y2="140.10" stroke="#3a3a3a" stroke-width="1"/>
<line x1="399.15" y1="231.60" x2="399.15" y2="230.30" stroke="#3a3a3a" stroke-width="1"/>
<line x1="399.15" y1="138.80" x2="399.15" y2="140.10" stroke="#3a3a3a" stroke-width="1"/>
<line x1="432.32" y1="231.60" x2="432.32" y2="230.30" stroke="#3a3a3a" stroke-width="1"/>
<line x1="432.32" y1="138.80" x2="432.32" y2="140.10" stroke="#3a3a3a" stroke-width="1"/>
<line x1="465.48" y1="231.60" x2="465.48" y2="230.30" stroke="#3a3a3a" stroke-width="1"/>
<line x1="465.48" y1="138.80" x2="465.48" y2="140.10" stroke="#3a3a3a" stroke-width="1"/>
<line x1="498.65" y1="231.60" x2="498.65" y2="230.30" stroke="#3a3a3a" stroke-width="1"/>
<line x1="498.65" y1="138.80" x2="498.65" y2="140.10" stroke="#3a3a3a" stroke-width="1"/>
<line x1="531.82" y1="231.60" x2="531.82" y2="230.30" stroke="#3a3a3a" stroke-width="1"/>
<line x1="531.82" y1="138.80" x2="531.82" y2="140.10" stroke="#3a3a3a" stroke-width="1"/>
<text x="349.40" y="244.20" font-size="13" text-anchor="middle" fill="#111" stroke="#111" >20</text>
<text x="382.57" y="244.20" font-size="13" text-anchor="middle" fill="#111" stroke="#111" >25</text>
<text x="415.73" y="244.20" font-size="13" text-anchor="middle" fill="#111" stroke="#111" >30</text>
<text x="448.90" y="244.20" font-size="13" text-anchor="middle" fill="#111" stroke="#111" >35</text>
<text x="482.07" y="244.20" font-size="13" text-anchor="middle" fill="#111" stroke="#111" >40</text>
<text x="515.23" y="244.20" font-size="13" text-anchor="middle" fill="#111" stroke="#111" >45</text>
<text x="548.40" y="244.20" font-size="13" text-anchor="middle" fill="#111" stroke="#111" >50</text>
<text x="449.50" y="256.40" font-size="13.5" text-anchor="middle" fill="#111" stroke="#111" >Mirror Thickness (nm)</text>
<line x1="336.30" y1="231.60" x2="338.70" y2="231.60" stroke="#0a0af5" stroke-width="1"/>
<line x1="336.30" y1="211.71" x2="338.70" y2="211.71" stroke="#0a0af5" stroke-width="1"/>
<line x1="336.30" y1="191.83" x2="338.70" y2="191.83" stroke="#0a0af5" stroke-width="1"/>
<line x1="336.30" y1="171.94" x2="338.70" y2="171.94" stroke="#0a0af5" stroke-width="1"/>
<line x1="336.30" y1="152.06" x2="338.70" y2="152.06" stroke="#0a0af5" stroke-width="1"/>
<line x1="336.30" y1="221.66" x2="337.60" y2="221.66" stroke="#0a0af5" stroke-width="1"/>
<line x1="336.30" y1="201.77" x2="337.60" y2="201.77" stroke="#0a0af5" stroke-width="1"/>
<line x1="336.30" y1="181.89" x2="337.60" y2="181.89" stroke="#0a0af5" stroke-width="1"/>
<line x1="336.30" y1="162.00" x2="337.60" y2="162.00" stroke="#0a0af5" stroke-width="1"/>
<line x1="336.30" y1="142.11" x2="337.60" y2="142.11" stroke="#0a0af5" stroke-width="1"/>
<line x1="561.70" y1="214.73" x2="559.30" y2="214.73" stroke="#fa0a0a" stroke-width="1"/>
<line x1="561.70" y1="189.42" x2="559.30" y2="189.42" stroke="#fa0a0a" stroke-width="1"/>
<line x1="561.70" y1="164.11" x2="559.30" y2="164.11" stroke="#fa0a0a" stroke-width="1"/>
<line x1="561.70" y1="138.80" x2="559.30" y2="138.80" stroke="#fa0a0a" stroke-width="1"/>
<line x1="561.70" y1="227.38" x2="560.40" y2="227.38" stroke="#fa0a0a" stroke-width="1"/>
<line x1="561.70" y1="202.07" x2="560.40" y2="202.07" stroke="#fa0a0a" stroke-width="1"/>
<line x1="561.70" y1="176.76" x2="560.40" y2="176.76" stroke="#fa0a0a" stroke-width="1"/>
<line x1="561.70" y1="151.45" x2="560.40" y2="151.45" stroke="#fa0a0a" stroke-width="1"/>
<text x="332.80" y="235.70" font-size="13" text-anchor="end" fill="#0a0af5" stroke="#0a0af5" >0</text>
<text x="332.80" y="215.81" font-size="13" text-anchor="end" fill="#0a0af5" stroke="#0a0af5" >15</text>
<text x="332.80" y="195.93" font-size="13" text-anchor="end" fill="#0a0af5" stroke="#0a0af5" >30</text>
<text x="332.80" y="176.04" font-size="13" text-anchor="end" fill="#0a0af5" stroke="#0a0af5" >45</text>
<text x="332.80" y="156.16" font-size="13" text-anchor="end" fill="#0a0af5" stroke="#0a0af5" >60</text>
<text x="565.00" y="219.03" font-size="13" text-anchor="start" fill="#fa0a0a" stroke="#fa0a0a" >2.1</text>
<text x="565.00" y="193.72" font-size="13" text-anchor="start" fill="#fa0a0a" stroke="#fa0a0a" >2.4</text>
<text x="565.00" y="168.41" font-size="13" text-anchor="start" fill="#fa0a0a" stroke="#fa0a0a" >2.7</text>
<text x="565.00" y="143.10" font-size="13" text-anchor="start" fill="#fa0a0a" stroke="#fa0a0a" >3.0</text>
<text x="0" y="0" font-size="13.5" text-anchor="middle" fill="#0a0af5" stroke="#0a0af5" transform="translate(312.00,185.00) rotate(-90)">Q Factor</text>
<text x="0" y="0" font-size="13.5" text-anchor="middle" fill="#fa0a0a" stroke="#fa0a0a" transform="translate(599.0,185.45) rotate(-90)">V<tspan font-size="9.5" dy="3.5">m</tspan><tspan dy="-3.5"> (x 10</tspan><tspan font-size="9.5" dy="-5">3</tspan><tspan dy="5"> nm</tspan><tspan font-size="9.5" dy="-5">3</tspan><tspan dy="5">)</tspan></text>
<text x="293.60" y="137.50" font-size="13.5" text-anchor="start" fill="#111" stroke="#111" >(e)</text>
<line x1="355.55" y1="224.02" x2="376.42" y2="221.38" stroke="#0a0af5" stroke-width="1.85"/>
<line x1="388.65" y1="219.41" x2="409.65" y2="215.29" stroke="#0a0af5" stroke-width="1.85"/>
<line x1="421.48" y1="211.77" x2="476.32" y2="189.53" stroke="#0a0af5" stroke-width="1.85"/>
<line x1="487.37" y1="183.99" x2="543.09" y2="150.31" stroke="#0a0af5" stroke-width="1.85"/>
<polygon points="349.40,218.27 343.50,228.07 355.30,228.07" fill="#0a0af5"/>
<polygon points="382.57,214.07 376.67,223.87 388.47,223.87" fill="#0a0af5"/>
<polygon points="415.73,207.57 409.83,217.37 421.63,217.37" fill="#0a0af5"/>
<polygon points="482.07,180.67 476.17,190.47 487.97,190.47" fill="#0a0af5"/>
<polygon points="548.40,140.57 542.50,150.37 554.30,150.37" fill="#0a0af5"/>
<line x1="353.31" y1="151.62" x2="378.66" y2="182.88" stroke="#fa0a0a" stroke-width="1.85"/>
<line x1="387.84" y1="190.96" x2="410.46" y2="204.94" stroke="#fa0a0a" stroke-width="1.85"/>
<line x1="421.76" y1="209.65" x2="476.04" y2="222.75" stroke="#fa0a0a" stroke-width="1.85"/>
<line x1="488.27" y1="224.23" x2="542.20" y2="224.47" stroke="#fa0a0a" stroke-width="1.85"/>
<rect x="345.10" y="142.50" width="8.6" height="8.6" fill="#fa0a0a"/>
<rect x="378.27" y="183.40" width="8.6" height="8.6" fill="#fa0a0a"/>
<rect x="411.43" y="203.90" width="8.6" height="8.6" fill="#fa0a0a"/>
<rect x="477.77" y="219.90" width="8.6" height="8.6" fill="#fa0a0a"/>
<rect x="544.10" y="220.20" width="8.6" height="8.6" fill="#fa0a0a"/>
<line x1="336.30" y1="269.50" x2="561.70" y2="269.50" stroke="#3a3a3a" stroke-width="1.3"/>
<line x1="336.30" y1="362.40" x2="561.70" y2="362.40" stroke="#3a3a3a" stroke-width="1.3"/>
<line x1="336.30" y1="268.85" x2="336.30" y2="363.05" stroke="#0a0af5" stroke-width="1.3"/>
<line x1="561.70" y1="268.85" x2="561.70" y2="363.05" stroke="#fa0a0a" stroke-width="1.3"/>
<line x1="349.40" y1="362.40" x2="349.40" y2="360.00" stroke="#3a3a3a" stroke-width="1"/>
<line x1="349.40" y1="269.50" x2="349.40" y2="271.90" stroke="#3a3a3a" stroke-width="1"/>
<line x1="382.57" y1="362.40" x2="382.57" y2="360.00" stroke="#3a3a3a" stroke-width="1"/>
<line x1="382.57" y1="269.50" x2="382.57" y2="271.90" stroke="#3a3a3a" stroke-width="1"/>
<line x1="415.73" y1="362.40" x2="415.73" y2="360.00" stroke="#3a3a3a" stroke-width="1"/>
<line x1="415.73" y1="269.50" x2="415.73" y2="271.90" stroke="#3a3a3a" stroke-width="1"/>
<line x1="448.90" y1="362.40" x2="448.90" y2="360.00" stroke="#3a3a3a" stroke-width="1"/>
<line x1="448.90" y1="269.50" x2="448.90" y2="271.90" stroke="#3a3a3a" stroke-width="1"/>
<line x1="482.07" y1="362.40" x2="482.07" y2="360.00" stroke="#3a3a3a" stroke-width="1"/>
<line x1="482.07" y1="269.50" x2="482.07" y2="271.90" stroke="#3a3a3a" stroke-width="1"/>
<line x1="515.23" y1="362.40" x2="515.23" y2="360.00" stroke="#3a3a3a" stroke-width="1"/>
<line x1="515.23" y1="269.50" x2="515.23" y2="271.90" stroke="#3a3a3a" stroke-width="1"/>
<line x1="548.40" y1="362.40" x2="548.40" y2="360.00" stroke="#3a3a3a" stroke-width="1"/>
<line x1="548.40" y1="269.50" x2="548.40" y2="271.90" stroke="#3a3a3a" stroke-width="1"/>
<line x1="365.98" y1="362.40" x2="365.98" y2="361.10" stroke="#3a3a3a" stroke-width="1"/>
<line x1="365.98" y1="269.50" x2="365.98" y2="270.80" stroke="#3a3a3a" stroke-width="1"/>
<line x1="399.15" y1="362.40" x2="399.15" y2="361.10" stroke="#3a3a3a" stroke-width="1"/>
<line x1="399.15" y1="269.50" x2="399.15" y2="270.80" stroke="#3a3a3a" stroke-width="1"/>
<line x1="432.32" y1="362.40" x2="432.32" y2="361.10" stroke="#3a3a3a" stroke-width="1"/>
<line x1="432.32" y1="269.50" x2="432.32" y2="270.80" stroke="#3a3a3a" stroke-width="1"/>
<line x1="465.48" y1="362.40" x2="465.48" y2="361.10" stroke="#3a3a3a" stroke-width="1"/>
<line x1="465.48" y1="269.50" x2="465.48" y2="270.80" stroke="#3a3a3a" stroke-width="1"/>
<line x1="498.65" y1="362.40" x2="498.65" y2="361.10" stroke="#3a3a3a" stroke-width="1"/>
<line x1="498.65" y1="269.50" x2="498.65" y2="270.80" stroke="#3a3a3a" stroke-width="1"/>
<line x1="531.82" y1="362.40" x2="531.82" y2="361.10" stroke="#3a3a3a" stroke-width="1"/>
<line x1="531.82" y1="269.50" x2="531.82" y2="270.80" stroke="#3a3a3a" stroke-width="1"/>
<text x="349.40" y="375.00" font-size="13" text-anchor="middle" fill="#111" stroke="#111" >20</text>
<text x="382.57" y="375.00" font-size="13" text-anchor="middle" fill="#111" stroke="#111" >25</text>
<text x="415.73" y="375.00" font-size="13" text-anchor="middle" fill="#111" stroke="#111" >30</text>
<text x="448.90" y="375.00" font-size="13" text-anchor="middle" fill="#111" stroke="#111" >35</text>
<text x="482.07" y="375.00" font-size="13" text-anchor="middle" fill="#111" stroke="#111" >40</text>
<text x="515.23" y="375.00" font-size="13" text-anchor="middle" fill="#111" stroke="#111" >45</text>
<text x="548.40" y="375.00" font-size="13" text-anchor="middle" fill="#111" stroke="#111" >50</text>
<text x="449.50" y="387.20" font-size="13.5" text-anchor="middle" fill="#111" stroke="#111" >Mirror Thickness (nm)</text>
<line x1="336.30" y1="362.40" x2="338.70" y2="362.40" stroke="#0a0af5" stroke-width="1"/>
<line x1="336.30" y1="340.72" x2="338.70" y2="340.72" stroke="#0a0af5" stroke-width="1"/>
<line x1="336.30" y1="319.05" x2="338.70" y2="319.05" stroke="#0a0af5" stroke-width="1"/>
<line x1="336.30" y1="297.37" x2="338.70" y2="297.37" stroke="#0a0af5" stroke-width="1"/>
<line x1="336.30" y1="275.69" x2="338.70" y2="275.69" stroke="#0a0af5" stroke-width="1"/>
<line x1="336.30" y1="351.56" x2="337.60" y2="351.56" stroke="#0a0af5" stroke-width="1"/>
<line x1="336.30" y1="329.88" x2="337.60" y2="329.88" stroke="#0a0af5" stroke-width="1"/>
<line x1="336.30" y1="308.21" x2="337.60" y2="308.21" stroke="#0a0af5" stroke-width="1"/>
<line x1="336.30" y1="286.53" x2="337.60" y2="286.53" stroke="#0a0af5" stroke-width="1"/>
<line x1="561.70" y1="346.92" x2="559.30" y2="346.92" stroke="#fa0a0a" stroke-width="1"/>
<line x1="561.70" y1="315.95" x2="559.30" y2="315.95" stroke="#fa0a0a" stroke-width="1"/>
<line x1="561.70" y1="284.98" x2="559.30" y2="284.98" stroke="#fa0a0a" stroke-width="1"/>
<line x1="561.70" y1="362.40" x2="560.40" y2="362.40" stroke="#fa0a0a" stroke-width="1"/>
<line x1="561.70" y1="331.43" x2="560.40" y2="331.43" stroke="#fa0a0a" stroke-width="1"/>
<line x1="561.70" y1="300.47" x2="560.40" y2="300.47" stroke="#fa0a0a" stroke-width="1"/>
<line x1="561.70" y1="269.50" x2="560.40" y2="269.50" stroke="#fa0a0a" stroke-width="1"/>
<text x="333.40" y="366.40" font-size="13" text-anchor="end" fill="#0a0af5" stroke="#0a0af5" >0</text>
<text x="333.40" y="344.72" font-size="13" text-anchor="end" fill="#0a0af5" stroke="#0a0af5" >35</text>
<text x="333.40" y="323.05" font-size="13" text-anchor="end" fill="#0a0af5" stroke="#0a0af5" >70</text>
<text x="333.40" y="301.37" font-size="13" text-anchor="end" fill="#0a0af5" stroke="#0a0af5" >105</text>
<text x="333.40" y="279.69" font-size="13" text-anchor="end" fill="#0a0af5" stroke="#0a0af5" >140</text>
<text x="565.00" y="351.22" font-size="13" text-anchor="start" fill="#fa0a0a" stroke="#fa0a0a" >3</text>
<text x="565.00" y="320.25" font-size="13" text-anchor="start" fill="#fa0a0a" stroke="#fa0a0a" >4</text>
<text x="565.00" y="289.28" font-size="13" text-anchor="start" fill="#fa0a0a" stroke="#fa0a0a" >5</text>
<text x="0" y="0" font-size="13.5" text-anchor="middle" fill="#0a0af5" stroke="#0a0af5" transform="translate(308.3,312.9) rotate(-90)">F<tspan font-size="9.5" dy="3.5">P</tspan><tspan dy="-3.5"> (x 10</tspan><tspan font-size="9.5" dy="-5">3</tspan><tspan dy="5">)</tspan></text>
<text x="0" y="0" font-size="13.5" text-anchor="middle" fill="#fa0a0a" stroke="#fa0a0a" transform="translate(588.2,315.4) rotate(-90)">I<tspan font-size="9.5" dy="3.5">FL</tspan><tspan dy="-3.5"> (x 10</tspan><tspan font-size="9.5" dy="-5">5</tspan><tspan dy="5">)</tspan></text>
<text x="296.10" y="271.40" font-size="13.5" text-anchor="start" fill="#111" stroke="#111" >(f)</text>
<line x1="355.55" y1="357.28" x2="376.42" y2="354.52" stroke="#0a0af5" stroke-width="1.85"/>
<line x1="388.59" y1="352.23" x2="409.71" y2="347.07" stroke="#0a0af5" stroke-width="1.85"/>
<line x1="421.45" y1="343.19" x2="476.35" y2="320.01" stroke="#0a0af5" stroke-width="1.85"/>
<line x1="487.36" y1="314.37" x2="543.11" y2="280.33" stroke="#0a0af5" stroke-width="1.85"/>
<polygon points="349.40,351.57 343.50,361.37 355.30,361.37" fill="#0a0af5"/>
<polygon points="382.57,347.17 376.67,356.97 388.47,356.97" fill="#0a0af5"/>
<polygon points="415.73,339.07 409.83,348.87 421.63,348.87" fill="#0a0af5"/>
<polygon points="482.07,311.07 476.17,320.87 487.97,320.87" fill="#0a0af5"/>
<polygon points="548.40,270.57 542.50,280.37 554.30,280.37" fill="#0a0af5"/>
<line x1="354.62" y1="318.36" x2="377.34" y2="303.84" stroke="#fa0a0a" stroke-width="1.85"/>
<line x1="387.83" y1="297.23" x2="410.47" y2="283.17" stroke="#fa0a0a" stroke-width="1.85"/>
<line x1="421.86" y1="280.87" x2="475.94" y2="289.43" stroke="#fa0a0a" stroke-width="1.85"/>
<line x1="486.51" y1="294.73" x2="543.96" y2="350.67" stroke="#fa0a0a" stroke-width="1.85"/>
<rect x="345.10" y="317.40" width="8.6" height="8.6" fill="#fa0a0a"/>
<rect x="378.27" y="296.20" width="8.6" height="8.6" fill="#fa0a0a"/>
<rect x="411.43" y="275.60" width="8.6" height="8.6" fill="#fa0a0a"/>
<rect x="477.77" y="286.10" width="8.6" height="8.6" fill="#fa0a0a"/>
<rect x="544.10" y="350.70" width="8.6" height="8.6" fill="#fa0a0a"/>
</svg>
</body></html>
